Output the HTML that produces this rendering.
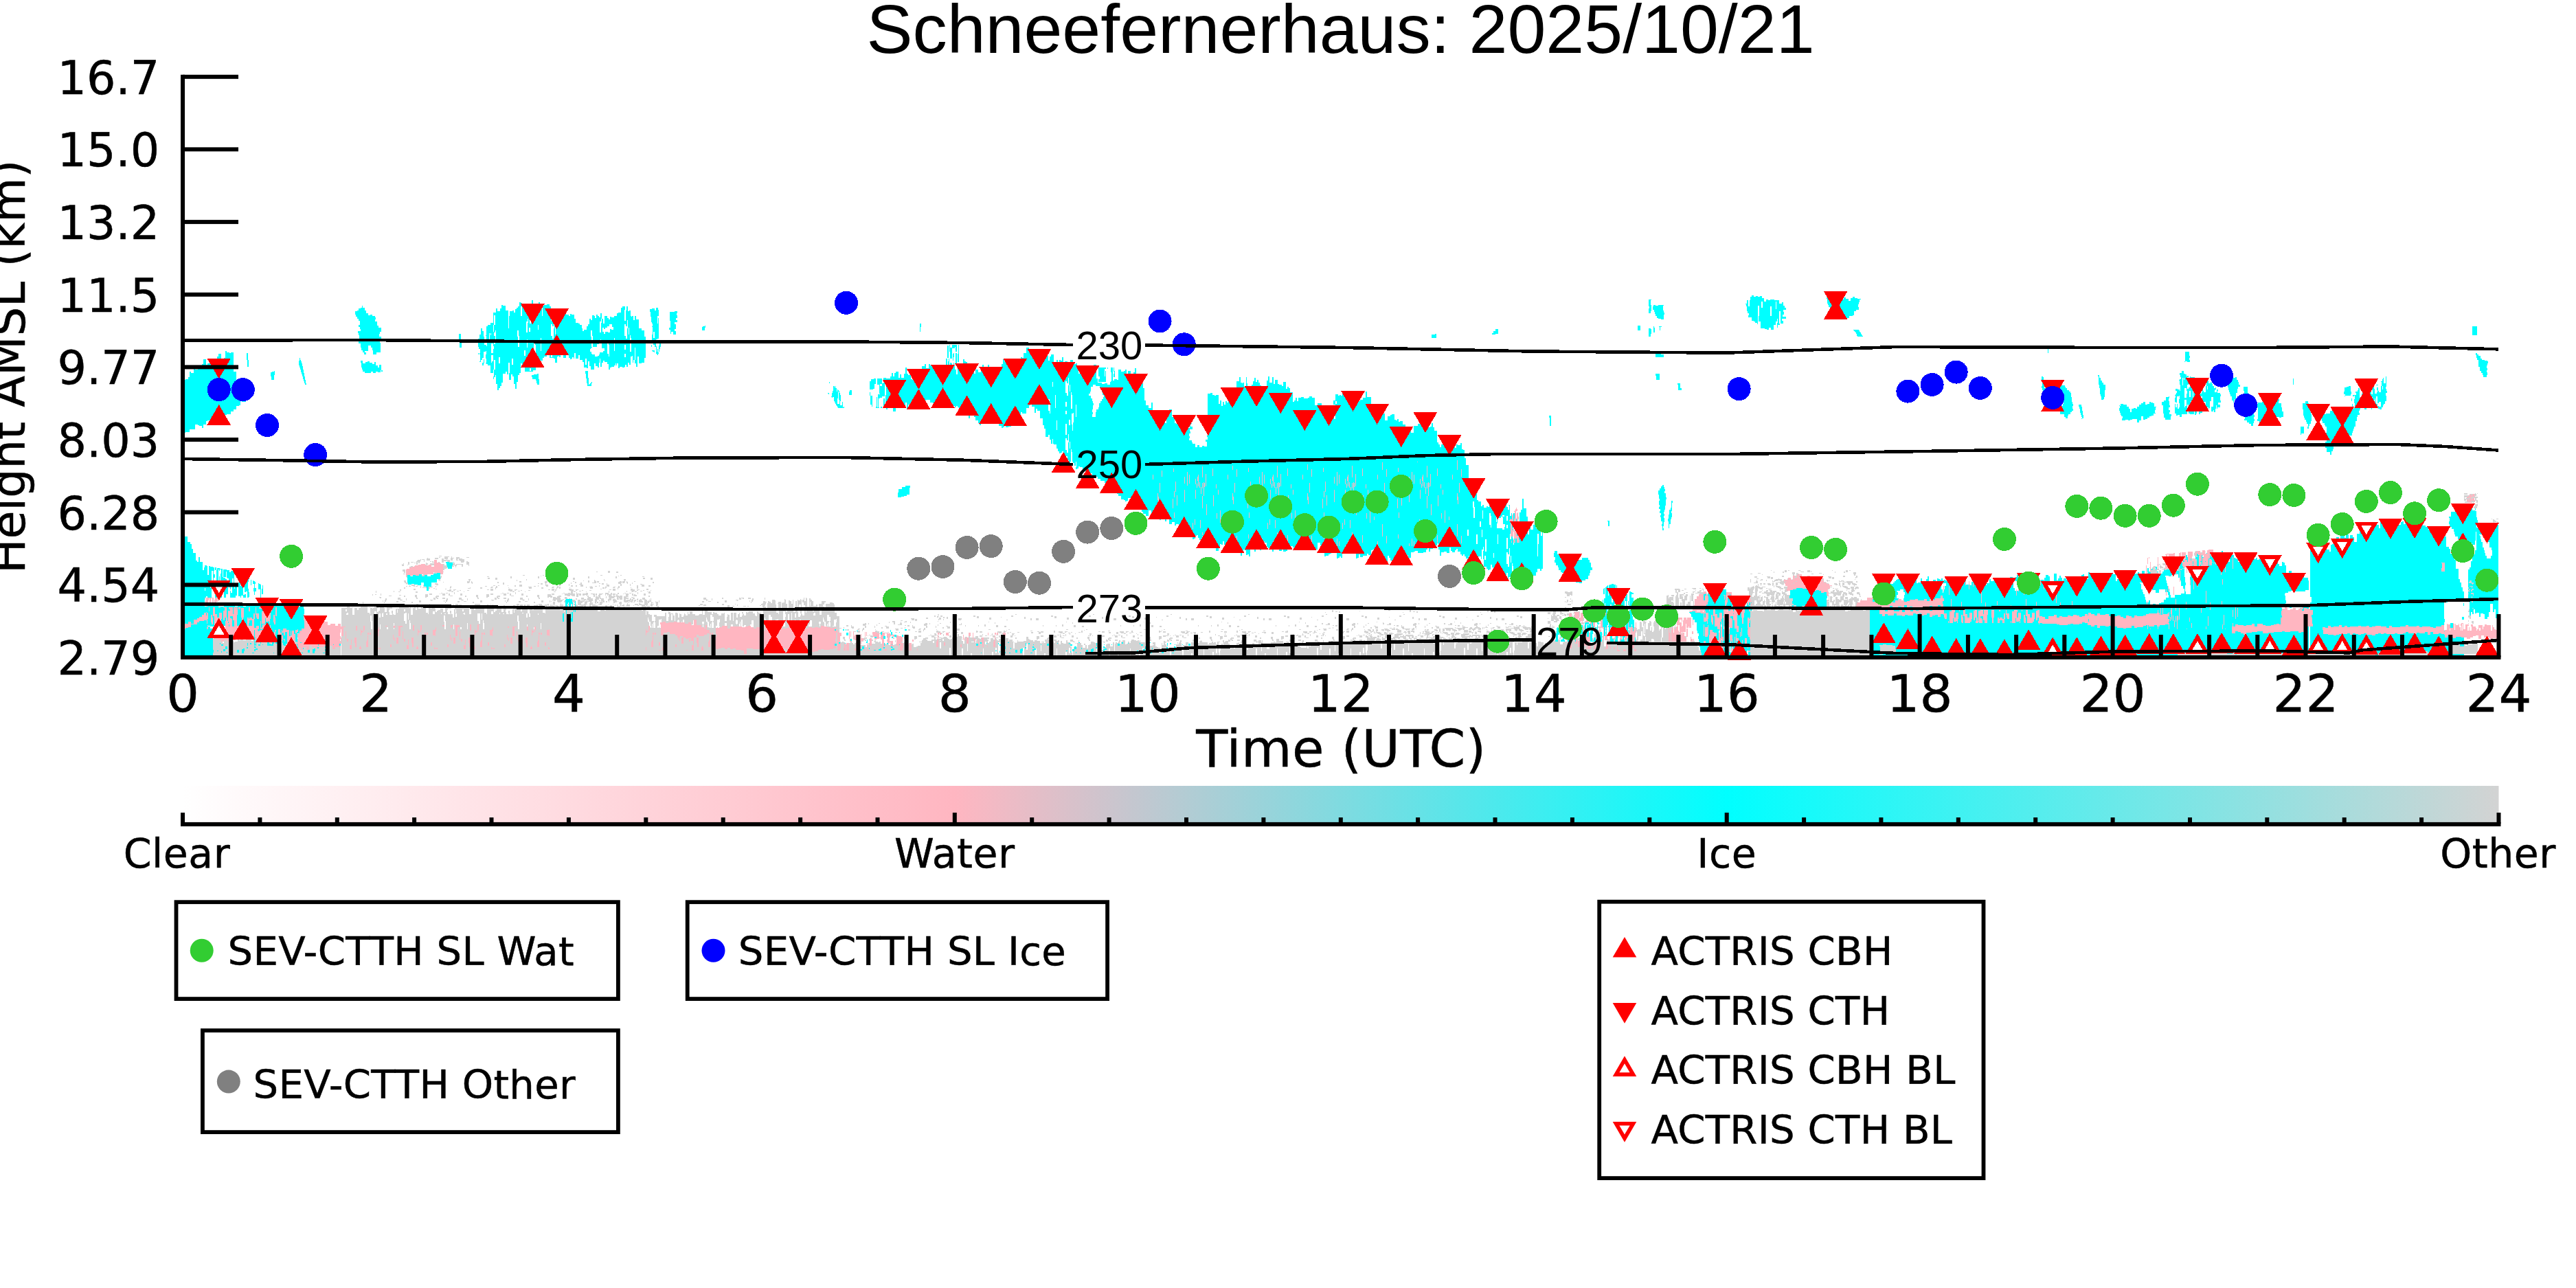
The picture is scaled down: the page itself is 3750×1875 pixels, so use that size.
<!DOCTYPE html>
<html lang="en"><head><meta charset="utf-8"><title>Schneefernerhaus: 2025/10/21</title>
<style>html,body{margin:0;padding:0;background:#fff;}body{width:3750px;height:1875px;overflow:hidden;}svg{display:block;}text{font-kerning:normal;}</style></head>
<body>
<svg width="3750" height="1875" viewBox="0 0 3750 1875">
<rect width="3750" height="1875" fill="#fff"/>
<g shape-rendering="crispEdges">
<defs>
<pattern id="g0" width="113" height="79" patternUnits="userSpaceOnUse"><path fill="#d3d3d3" d="M88 53h1v2h-1zM61 27h3v2h-3zM23 64h2v3h-2zM100 0h3v1h-3zM74 54h1v2h-1zM101 29h1v1h-1zM5 55h1v3h-1zM78 56h3v2h-3zM69 63h1v2h-1zM83 47h3v1h-3zM94 11h1v1h-1zM58 20h1v1h-1zM43 51h3v3h-3zM23 4h2v1h-2zM9 25h2v1h-2zM102 74h1v3h-1zM15 71h3v1h-3zM105 49h2v3h-2zM18 68h1v2h-1zM46 57h2v2h-2zM40 62h3v2h-3zM3 11h2v2h-2zM91 63h1v3h-1zM8 70h1v2h-1zM66 28h3v3h-3zM40 71h3v3h-3zM23 21h3v1h-3zM106 42h3v2h-3zM39 31h2v3h-2zM8 22h1v1h-1zM20 4h2v2h-2zM84 30h3v3h-3zM94 75h2v1h-2zM62 64h1v2h-1zM31 31h2v3h-2zM8 56h1v3h-1zM61 7h2v3h-2zM109 33h2v1h-2zM4 53h3v2h-3zM50 8h1v1h-1zM18 19h2v3h-2zM61 6h3v3h-3zM83 67h2v1h-2zM3 27h3v2h-3zM112 47h2v1h-2zM-1 47h2v1h-2zM62 74h3v2h-3zM17 68h2v2h-2zM17 1h3v2h-3zM16 3h2v3h-2zM41 31h2v3h-2zM32 51h3v2h-3zM18 12h1v1h-1zM23 3h2v1h-2zM100 18h3v2h-3zM83 36h1v1h-1zM68 41h1v2h-1zM28 21h2v2h-2zM109 48h1v1h-1zM95 70h1v3h-1zM90 64h1v3h-1zM101 1h3v1h-3zM110 8h2v2h-2zM22 29h2v3h-2zM77 40h2v3h-2zM31 49h3v1h-3zM92 37h1v2h-1zM62 73h3v3h-3zM76 7h1v3h-1zM94 41h3v3h-3zM37 67h3v2h-3zM8 78h3v1h-3zM45 8h2v1h-2zM53 13h2v3h-2zM9 57h1v3h-1zM2 56h3v3h-3zM65 49h2v3h-2zM28 3h2v1h-2zM55 5h1v3h-1zM90 75h1v2h-1zM54 58h2v3h-2zM49 41h1v2h-1zM80 10h2v1h-2z"/></pattern>
<pattern id="ps" width="109" height="97" patternUnits="userSpaceOnUse"><path fill="#ffb6c1" d="M3 78h1v12h-1zM89 15h1v10h-1zM29 34h1v7h-1zM76 22h1v15h-1zM73 2h1v6h-1zM53 24h1v14h-1zM74 67h1v8h-1zM78 42h1v15h-1zM50 39h1v10h-1zM105 34h1v13h-1zM6 43h1v18h-1zM32 64h1v18h-1zM50 84h1v18h-1zM50 -13h1v18h-1zM72 47h1v14h-1zM38 73h1v5h-1zM11 11h1v18h-1zM12 55h1v16h-1zM107 25h1v6h-1zM0 12h1v17h-1zM21 3h1v11h-1zM22 42h1v16h-1zM56 4h1v11h-1zM101 82h1v9h-1zM6 24h1v8h-1zM105 18h1v8h-1zM108 15h1v6h-1zM74 36h1v9h-1zM93 8h1v20h-1zM104 77h1v8h-1zM2 23h1v8h-1zM43 12h1v7h-1zM89 34h1v18h-1zM9 24h1v6h-1zM27 68h1v8h-1zM8 23h1v20h-1zM96 12h1v13h-1zM51 44h1v11h-1zM4 30h1v10h-1zM26 26h1v6h-1zM6 96h1v17h-1zM6 -1h1v17h-1z"/></pattern>
<pattern id="g1" width="89" height="61" patternUnits="userSpaceOnUse"><path fill="#d3d3d3" d="M8 16h2v3h-2zM57 30h1v2h-1zM12 31h4v1h-4zM55 38h1v2h-1zM57 17h1v3h-1zM13 57h2v3h-2zM2 1h3v1h-3zM87 13h1v2h-1zM3 33h4v3h-4zM63 35h2v2h-2zM29 43h2v2h-2zM37 59h2v2h-2zM71 59h1v2h-1zM80 46h1v1h-1zM42 57h3v1h-3zM85 12h4v3h-4zM75 56h3v2h-3zM50 37h4v3h-4zM31 47h1v2h-1zM85 11h4v2h-4zM86 47h3v3h-3zM56 42h3v1h-3zM66 53h1v1h-1zM62 46h4v2h-4zM5 19h1v2h-1zM21 10h4v3h-4zM25 34h2v1h-2zM65 22h2v2h-2zM34 42h3v2h-3zM65 51h1v2h-1zM71 13h2v3h-2zM61 55h4v1h-4zM70 12h3v3h-3zM45 26h4v2h-4zM68 34h3v1h-3zM76 1h3v2h-3zM22 35h2v3h-2zM70 51h2v1h-2zM86 4h3v1h-3zM57 0h1v1h-1zM34 7h3v1h-3zM37 4h2v2h-2zM32 33h2v1h-2zM34 41h2v3h-2zM41 31h3v2h-3zM3 19h4v1h-4zM53 50h4v2h-4zM13 16h2v2h-2zM55 52h2v3h-2zM2 25h1v1h-1zM20 28h2v1h-2zM28 40h4v3h-4zM67 41h4v1h-4zM86 36h1v2h-1zM80 27h3v3h-3zM38 8h1v3h-1zM39 4h2v1h-2zM38 47h1v2h-1zM72 16h2v2h-2zM71 56h2v1h-2zM27 57h1v3h-1zM79 32h4v1h-4zM25 22h1v2h-1zM73 43h1v1h-1zM24 31h4v3h-4zM49 18h1v3h-1zM41 39h4v1h-4zM2 10h4v2h-4zM72 50h2v2h-2zM54 13h2v2h-2zM12 53h3v3h-3zM44 58h4v3h-4zM30 4h4v3h-4zM17 10h1v1h-1zM27 17h2v3h-2zM64 53h3v3h-3zM43 21h3v2h-3zM30 55h1v2h-1zM74 35h4v1h-4zM5 26h1v2h-1zM18 53h1v2h-1zM14 39h2v2h-2zM73 35h4v1h-4zM10 60h2v3h-2zM10 -1h2v3h-2zM37 36h3v2h-3zM35 6h1v2h-1zM1 39h1v2h-1zM52 7h1v1h-1zM30 50h1v1h-1zM14 28h4v1h-4zM30 10h2v3h-2zM48 51h1v2h-1zM32 45h3v3h-3zM12 13h4v2h-4zM3 0h3v1h-3zM76 20h3v3h-3zM40 25h4v2h-4zM40 38h1v1h-1zM32 13h4v1h-4zM45 16h4v3h-4zM26 19h2v3h-2zM46 5h2v1h-2zM57 5h3v1h-3zM49 19h3v1h-3zM23 20h1v2h-1zM42 6h3v1h-3zM28 1h1v1h-1zM9 17h2v2h-2zM9 1h1v3h-1zM45 31h1v2h-1zM12 32h4v1h-4zM65 60h3v1h-3zM19 9h2v1h-2zM13 45h3v2h-3zM26 9h3v1h-3zM79 51h1v2h-1zM38 27h2v1h-2zM85 15h2v1h-2zM87 28h3v1h-3zM-2 28h3v1h-3zM32 34h4v3h-4zM58 0h4v3h-4zM21 16h4v2h-4zM82 59h4v1h-4zM2 3h4v3h-4zM17 37h3v3h-3zM33 53h2v1h-2zM72 25h3v2h-3zM11 14h2v3h-2zM22 33h4v1h-4zM83 58h3v3h-3zM81 46h4v3h-4zM40 31h2v1h-2zM52 21h4v1h-4zM28 3h3v3h-3zM82 56h1v3h-1zM65 49h3v1h-3zM38 44h2v2h-2zM47 10h3v3h-3zM10 54h4v3h-4z"/></pattern>
<pattern id="g2" width="97" height="67" patternUnits="userSpaceOnUse"><path fill="#d3d3d3" d="M10 46h1v1h-1zM32 27h2v3h-2zM74 20h5v1h-5zM92 65h4v4h-4zM92 -2h4v4h-4zM64 34h3v4h-3zM46 59h1v1h-1zM54 21h3v4h-3zM30 29h5v2h-5zM41 22h1v2h-1zM65 23h2v3h-2zM94 46h4v4h-4zM-3 46h4v4h-4zM46 57h5v3h-5zM91 59h2v4h-2zM62 35h5v2h-5zM84 58h4v3h-4zM72 58h4v3h-4zM41 21h4v2h-4zM61 39h5v3h-5zM39 26h3v4h-3zM87 9h4v3h-4zM24 13h3v1h-3zM34 29h1v1h-1zM34 31h1v2h-1zM54 4h2v1h-2zM46 22h1v3h-1zM10 14h2v1h-2zM5 2h1v1h-1zM16 20h3v3h-3zM49 5h2v1h-2zM4 0h2v2h-2zM36 43h3v1h-3zM39 57h4v1h-4zM33 51h5v1h-5zM60 28h5v2h-5zM13 3h1v3h-1zM66 50h4v2h-4zM18 43h4v3h-4zM77 53h3v3h-3zM85 7h1v2h-1zM16 20h3v1h-3zM58 29h2v1h-2zM31 29h5v1h-5zM32 10h4v1h-4zM79 46h5v2h-5zM35 0h3v4h-3zM49 52h2v1h-2zM65 11h2v1h-2zM12 2h2v1h-2zM13 27h2v2h-2zM58 39h1v4h-1zM27 26h5v4h-5zM65 2h4v4h-4zM53 23h5v1h-5zM46 2h1v4h-1zM78 46h5v1h-5zM39 2h3v3h-3zM13 39h4v1h-4zM57 7h2v1h-2zM59 26h4v4h-4zM0 36h5v1h-5zM39 9h1v3h-1zM24 14h2v4h-2zM50 59h5v3h-5zM50 15h2v3h-2zM15 10h3v1h-3zM82 50h5v3h-5zM3 60h2v1h-2zM37 45h1v4h-1zM47 34h4v2h-4zM92 53h4v4h-4zM50 29h4v3h-4zM76 33h2v4h-2zM89 10h5v4h-5zM9 45h5v1h-5zM53 8h2v2h-2zM16 37h1v1h-1zM90 42h4v2h-4zM67 36h4v2h-4zM69 54h1v2h-1zM66 31h1v3h-1zM21 20h5v3h-5zM51 45h4v2h-4zM59 56h5v2h-5zM94 23h1v4h-1zM61 35h4v1h-4zM90 52h4v3h-4zM70 42h4v3h-4zM68 24h1v2h-1zM81 1h4v4h-4zM67 59h3v4h-3zM2 51h2v1h-2zM27 12h2v4h-2zM35 24h4v2h-4zM1 55h4v2h-4zM65 22h4v3h-4zM9 44h4v2h-4zM68 8h1v4h-1zM86 42h5v4h-5zM64 58h4v3h-4zM78 44h1v1h-1zM32 17h2v4h-2zM63 48h1v2h-1zM19 1h4v3h-4zM0 46h3v4h-3zM72 56h1v4h-1zM63 17h2v3h-2zM9 33h4v3h-4zM42 39h3v3h-3zM65 26h4v1h-4zM64 11h4v2h-4zM29 58h3v1h-3zM66 35h5v2h-5zM14 48h1v1h-1zM40 45h3v2h-3zM58 46h1v3h-1zM56 37h2v4h-2zM91 56h4v2h-4zM41 20h2v3h-2zM60 24h1v2h-1zM45 17h3v2h-3zM34 48h2v2h-2zM35 64h4v3h-4zM95 51h5v3h-5zM-2 51h5v3h-5zM47 39h3v1h-3zM22 33h4v4h-4zM61 11h3v4h-3zM48 16h2v3h-2zM44 21h1v1h-1zM93 55h3v1h-3zM30 49h1v3h-1zM60 19h5v3h-5zM25 63h3v3h-3zM26 42h1v2h-1zM53 46h3v2h-3zM43 24h3v1h-3zM93 5h2v2h-2zM82 7h3v3h-3zM8 55h2v2h-2zM16 41h4v3h-4zM43 50h5v1h-5zM50 60h2v1h-2zM69 11h4v3h-4zM51 58h5v4h-5zM49 57h2v4h-2zM57 16h1v1h-1zM9 50h1v2h-1zM90 1h3v4h-3zM85 44h3v1h-3zM3 18h2v2h-2zM43 59h4v1h-4zM30 8h1v4h-1zM71 3h4v2h-4zM6 25h2v1h-2zM66 43h5v1h-5zM17 47h5v2h-5zM16 14h4v1h-4zM59 27h2v1h-2zM80 48h1v2h-1zM91 64h3v4h-3zM91 -3h3v4h-3zM19 26h2v1h-2zM25 38h2v4h-2zM18 54h3v4h-3zM40 38h2v4h-2zM60 34h1v1h-1zM35 29h3v4h-3zM89 13h4v2h-4zM27 24h1v2h-1zM82 17h4v1h-4zM89 60h1v3h-1zM94 28h5v1h-5zM-3 28h5v1h-5zM4 25h2v3h-2zM81 23h1v2h-1zM80 37h1v4h-1zM41 35h2v2h-2zM52 53h5v1h-5zM38 15h1v4h-1zM27 53h3v1h-3zM68 50h3v3h-3zM55 16h5v2h-5zM58 44h2v4h-2zM78 32h4v4h-4zM74 60h5v2h-5zM96 60h4v2h-4zM-1 60h4v2h-4zM39 9h5v3h-5zM77 60h2v3h-2zM87 39h2v2h-2zM12 1h2v3h-2zM40 7h1v2h-1zM92 43h3v3h-3zM53 60h4v1h-4zM74 16h1v3h-1zM20 48h2v2h-2zM35 10h1v4h-1zM30 19h4v4h-4zM29 25h5v3h-5zM75 50h5v3h-5zM30 27h5v4h-5zM33 31h5v1h-5zM55 15h2v4h-2zM50 60h4v4h-4zM27 30h4v3h-4zM68 11h2v1h-2zM6 49h5v1h-5zM29 65h4v4h-4zM29 -2h4v4h-4zM46 65h3v1h-3zM74 8h3v4h-3zM35 3h4v2h-4zM5 16h1v4h-1zM41 30h2v2h-2zM78 18h5v1h-5zM82 11h3v1h-3zM90 17h2v4h-2zM65 34h1v3h-1zM71 45h4v1h-4zM77 46h3v1h-3zM46 35h1v3h-1zM65 19h4v3h-4zM43 55h1v1h-1zM86 6h1v3h-1zM54 53h1v4h-1zM20 5h2v2h-2zM86 23h1v3h-1zM5 31h3v1h-3zM51 8h5v2h-5zM76 8h3v1h-3zM70 24h2v2h-2zM88 51h1v1h-1zM74 28h1v3h-1zM54 16h1v4h-1zM16 58h2v4h-2zM73 23h3v1h-3zM55 57h5v4h-5zM76 16h2v4h-2zM2 32h3v2h-3zM81 52h2v2h-2zM56 60h5v3h-5zM54 55h4v2h-4zM45 4h3v2h-3zM54 38h4v1h-4zM72 33h1v4h-1zM59 58h3v2h-3zM84 31h3v4h-3zM58 36h5v2h-5zM14 64h3v4h-3zM14 -3h3v4h-3zM14 55h2v4h-2zM79 66h5v4h-5zM79 -1h5v4h-5zM94 49h4v1h-4zM-3 49h4v1h-4zM71 44h4v3h-4zM29 22h2v2h-2zM63 22h4v4h-4zM40 51h4v3h-4zM85 40h3v3h-3zM75 5h1v4h-1zM12 14h2v4h-2zM41 40h1v3h-1zM95 41h4v2h-4zM-2 41h4v2h-4zM51 30h1v4h-1zM77 2h4v1h-4zM38 63h3v1h-3zM1 42h2v1h-2zM83 0h4v4h-4zM28 41h4v2h-4zM38 50h2v3h-2zM59 35h5v4h-5zM73 46h1v2h-1zM47 23h2v3h-2zM26 59h2v2h-2zM34 26h2v4h-2zM0 51h5v2h-5zM83 23h4v3h-4zM62 0h2v2h-2zM90 27h2v2h-2zM58 25h1v1h-1zM50 2h2v3h-2zM14 39h1v3h-1zM60 48h1v3h-1zM59 22h1v1h-1zM82 8h2v4h-2zM61 9h3v2h-3zM36 3h5v3h-5zM9 53h5v2h-5zM75 39h2v2h-2zM5 43h4v2h-4zM19 29h4v1h-4zM81 39h5v3h-5zM19 28h1v2h-1zM15 34h1v3h-1zM9 64h1v3h-1zM44 16h5v2h-5zM39 2h4v2h-4zM81 19h1v3h-1zM17 63h1v1h-1zM61 37h4v3h-4zM80 19h3v1h-3zM11 18h1v1h-1zM38 16h3v2h-3zM73 29h1v2h-1zM23 55h3v1h-3zM83 4h2v4h-2zM63 44h3v4h-3zM84 5h2v1h-2zM18 53h2v4h-2zM78 15h2v3h-2zM25 9h1v2h-1zM16 64h5v3h-5zM86 58h2v2h-2zM13 40h4v4h-4zM44 13h2v1h-2zM72 14h4v1h-4zM70 30h3v3h-3zM29 5h3v4h-3zM16 21h2v2h-2zM13 38h4v2h-4zM0 14h4v4h-4zM88 12h4v1h-4zM55 0h1v2h-1zM40 19h2v4h-2zM34 32h2v3h-2zM66 39h5v2h-5zM63 61h3v4h-3zM50 22h4v3h-4zM73 58h4v3h-4zM73 41h5v4h-5zM72 1h5v1h-5zM74 58h3v4h-3zM67 35h1v4h-1zM47 13h2v2h-2zM55 16h2v2h-2zM64 49h5v2h-5zM39 58h2v1h-2zM94 47h2v1h-2zM70 5h2v2h-2zM50 38h4v1h-4zM93 51h2v2h-2zM73 29h2v2h-2zM70 35h5v3h-5zM20 3h5v3h-5zM65 6h5v4h-5zM24 41h1v4h-1zM59 42h3v1h-3zM6 26h2v4h-2zM95 56h3v3h-3zM-2 56h3v3h-3zM6 41h3v3h-3zM83 28h1v4h-1zM88 61h2v4h-2zM88 37h2v4h-2zM6 53h1v2h-1zM2 3h1v2h-1zM87 60h3v2h-3zM13 0h4v3h-4zM2 3h1v2h-1zM37 32h2v1h-2zM82 2h1v1h-1zM13 49h3v3h-3zM1 30h2v4h-2zM79 55h2v2h-2zM73 35h5v1h-5zM74 31h1v2h-1zM85 30h1v2h-1zM21 15h2v1h-2zM82 30h5v2h-5zM88 10h3v3h-3zM72 31h2v2h-2zM62 23h1v3h-1zM49 36h2v2h-2zM29 39h1v1h-1zM69 39h3v3h-3zM11 60h1v3h-1zM77 45h5v2h-5zM76 54h3v4h-3zM82 29h1v2h-1zM8 59h5v2h-5zM61 3h1v2h-1zM24 61h2v4h-2zM55 25h3v2h-3zM43 39h1v3h-1zM31 33h4v2h-4zM0 5h4v3h-4zM26 37h1v1h-1zM64 28h1v4h-1zM9 4h2v2h-2zM49 14h1v1h-1zM80 65h4v4h-4zM80 -2h4v4h-4zM22 15h1v1h-1zM10 35h2v2h-2zM14 23h5v3h-5zM25 11h5v3h-5zM0 13h2v1h-2zM2 0h4v4h-4zM86 9h2v3h-2zM14 21h2v3h-2zM54 35h2v1h-2zM34 18h4v1h-4zM28 28h3v4h-3zM56 14h2v4h-2zM83 40h4v4h-4zM5 54h1v4h-1zM70 52h4v2h-4zM84 51h5v1h-5zM57 36h3v1h-3zM30 21h3v4h-3zM96 3h2v1h-2zM-1 3h2v1h-2zM49 55h3v2h-3zM86 17h5v1h-5zM26 4h1v1h-1zM20 63h3v2h-3zM90 55h3v1h-3zM13 53h5v2h-5zM0 26h3v2h-3zM28 27h3v1h-3zM57 2h4v4h-4z"/></pattern>
<pattern id="g3" width="101" height="71" patternUnits="userSpaceOnUse"><path fill="#d3d3d3" d="M69 16h2v12h-2zM60 8h3v12h-3zM33 70h1v10h-1zM33 -1h1v10h-1zM91 60h2v6h-2zM81 19h4v9h-4zM19 66h2v13h-2zM19 -5h2v13h-2zM1 8h4v14h-4zM5 38h2v12h-2zM60 49h1v7h-1zM93 56h4v9h-4zM12 4h2v8h-2zM27 33h2v10h-2zM38 53h4v13h-4zM44 68h4v12h-4zM44 -3h4v12h-4zM29 43h4v12h-4zM77 20h1v7h-1zM73 13h3v11h-3zM73 34h2v13h-2zM8 61h3v4h-3zM44 8h4v4h-4zM2 37h4v5h-4zM15 5h4v9h-4zM91 42h1v9h-1zM30 4h3v11h-3zM9 13h3v3h-3zM52 37h1v6h-1zM88 5h3v5h-3zM46 17h3v8h-3zM58 66h4v9h-4zM58 -5h4v9h-4zM76 13h4v13h-4zM81 30h3v9h-3zM33 66h3v9h-3zM33 -5h3v9h-3zM43 1h3v11h-3zM40 2h4v12h-4zM75 17h4v12h-4zM80 42h1v13h-1zM86 45h4v8h-4zM62 2h3v14h-3zM2 47h1v13h-1zM58 38h3v13h-3zM46 23h3v5h-3zM76 33h3v8h-3zM13 3h3v9h-3zM64 28h2v7h-2zM41 23h3v6h-3zM89 12h4v13h-4zM41 42h1v12h-1zM21 10h2v10h-2zM83 27h3v14h-3zM28 15h4v7h-4zM24 40h1v11h-1zM43 10h2v7h-2zM16 53h3v12h-3zM34 59h3v11h-3zM53 37h3v13h-3zM52 4h4v12h-4zM25 0h4v5h-4zM65 55h4v12h-4zM95 58h2v3h-2zM43 29h3v11h-3zM36 15h1v12h-1zM4 65h2v3h-2zM73 6h2v9h-2zM95 15h1v10h-1zM38 30h2v11h-2zM68 52h1v11h-1zM14 43h1v12h-1zM69 61h2v7h-2zM28 25h1v8h-1zM15 21h1v11h-1zM16 0h2v7h-2zM73 51h4v13h-4zM31 34h1v7h-1zM60 41h4v3h-4zM99 16h1v3h-1zM6 8h1v4h-1zM91 11h4v3h-4zM20 40h4v8h-4zM49 49h1v8h-1zM33 24h3v8h-3zM15 16h3v9h-3zM92 48h1v14h-1zM22 5h1v12h-1zM77 69h3v10h-3zM77 -2h3v10h-3zM5 55h4v13h-4zM80 63h1v8h-1zM88 53h3v9h-3zM31 27h4v3h-4zM75 9h3v14h-3zM54 16h4v6h-4zM47 33h1v8h-1zM88 15h1v10h-1zM13 40h4v13h-4zM91 0h1v12h-1zM30 49h4v5h-4zM11 12h1v11h-1zM3 43h4v5h-4zM14 61h1v3h-1zM38 11h3v12h-3zM65 67h1v12h-1zM65 -4h1v12h-1zM70 12h2v4h-2zM41 23h1v11h-1zM23 31h1v6h-1zM89 50h4v12h-4zM76 50h3v8h-3zM53 10h3v11h-3zM30 52h4v11h-4zM88 66h2v9h-2zM88 -5h2v9h-2zM82 51h4v5h-4zM12 63h2v5h-2zM66 56h4v14h-4zM34 25h2v5h-2zM65 40h2v12h-2zM68 37h2v14h-2zM74 34h4v12h-4zM2 34h2v7h-2zM25 22h4v9h-4zM41 61h3v6h-3zM89 61h2v9h-2zM74 3h2v10h-2zM9 51h4v14h-4zM29 30h1v10h-1zM32 30h1v6h-1zM17 23h2v7h-2zM21 5h1v7h-1zM54 11h3v5h-3zM11 33h1v4h-1zM45 57h3v3h-3zM3 42h3v3h-3zM48 62h3v9h-3zM82 62h1v6h-1zM69 40h4v5h-4zM9 55h1v7h-1zM67 32h1v10h-1zM89 47h1v11h-1zM37 33h3v10h-3zM86 68h1v8h-1zM86 -3h1v8h-1zM63 65h1v13h-1zM63 -6h1v13h-1zM91 37h3v3h-3zM82 19h2v13h-2zM83 58h2v8h-2zM71 18h1v4h-1zM92 53h3v13h-3zM23 58h3v13h-3zM100 22h4v7h-4zM-1 22h4v7h-4zM91 23h1v4h-1zM12 34h4v8h-4zM6 17h3v9h-3zM64 34h1v10h-1zM98 65h2v14h-2zM98 -6h2v14h-2zM51 57h3v8h-3zM63 14h1v8h-1zM75 12h2v7h-2zM99 14h1v12h-1zM24 53h2v14h-2zM16 18h4v14h-4zM69 67h4v6h-4zM69 -4h4v6h-4zM22 25h2v12h-2zM100 37h3v8h-3zM-1 37h3v8h-3zM52 49h1v10h-1zM74 39h3v11h-3zM87 38h4v11h-4zM76 24h4v3h-4zM98 29h1v4h-1zM67 58h4v5h-4zM100 67h2v6h-2zM-1 67h2v6h-2zM100 -4h2v6h-2zM64 56h2v3h-2zM36 19h1v12h-1zM11 6h2v10h-2zM79 29h1v8h-1zM68 2h1v10h-1zM42 44h3v8h-3zM76 4h2v4h-2zM43 26h1v14h-1zM55 28h1v6h-1zM13 5h4v8h-4zM25 20h4v4h-4zM60 8h4v10h-4zM83 62h4v6h-4zM59 58h3v3h-3zM23 58h4v10h-4zM32 46h1v14h-1zM67 46h3v10h-3zM0 26h4v6h-4zM18 58h3v8h-3zM26 2h2v5h-2zM51 64h2v12h-2zM51 -7h2v12h-2zM3 17h2v13h-2zM21 56h1v12h-1zM7 2h4v5h-4zM40 52h4v10h-4zM91 6h1v14h-1zM5 50h2v9h-2zM28 30h4v3h-4zM60 24h1v9h-1zM79 14h2v8h-2zM76 6h3v4h-3zM100 59h3v7h-3zM-1 59h3v7h-3zM31 34h3v10h-3zM80 44h1v8h-1zM7 55h3v4h-3zM79 0h1v12h-1zM87 11h1v3h-1zM64 4h1v5h-1zM24 65h4v3h-4zM96 61h3v6h-3zM44 4h3v10h-3zM96 50h4v7h-4zM23 52h1v7h-1zM49 70h1v11h-1zM49 -1h1v11h-1zM87 51h3v11h-3zM93 49h2v14h-2zM46 53h3v5h-3zM56 61h4v6h-4zM21 64h3v7h-3zM5 19h4v10h-4zM96 2h2v14h-2zM97 12h4v4h-4zM76 7h3v6h-3zM59 42h1v10h-1zM9 24h3v3h-3zM43 39h4v4h-4zM10 26h1v10h-1zM6 19h2v14h-2zM1 14h2v12h-2zM26 28h2v7h-2zM99 40h4v11h-4zM-2 40h4v11h-4zM22 10h2v10h-2zM76 3h1v4h-1zM32 10h1v6h-1zM51 28h1v10h-1zM62 44h1v13h-1zM84 57h4v12h-4zM76 56h1v7h-1zM14 69h4v6h-4zM14 -2h4v6h-4zM38 9h1v10h-1zM24 62h3v8h-3zM87 46h1v11h-1zM8 66h4v13h-4zM8 -5h4v13h-4zM44 7h2v6h-2zM55 56h3v6h-3zM27 41h1v7h-1zM26 27h2v14h-2zM68 53h4v14h-4zM79 52h3v6h-3zM60 4h4v9h-4zM23 12h3v3h-3zM19 37h1v14h-1zM60 5h1v13h-1zM26 35h2v14h-2zM4 44h4v9h-4zM25 36h4v14h-4zM56 38h2v4h-2zM9 26h4v10h-4zM97 36h2v10h-2zM47 20h4v13h-4zM59 60h4v7h-4zM36 36h2v8h-2zM47 45h1v10h-1zM31 66h3v14h-3zM31 -5h3v14h-3zM16 67h1v3h-1zM2 21h2v11h-2zM26 59h1v3h-1zM70 4h3v8h-3zM30 1h4v5h-4zM43 6h3v9h-3zM39 33h1v10h-1zM63 53h2v13h-2zM5 3h3v8h-3zM80 21h4v3h-4zM95 52h2v5h-2zM17 35h3v11h-3zM5 2h1v5h-1zM7 58h4v13h-4zM85 65h4v11h-4zM85 -6h4v11h-4zM66 21h4v8h-4zM9 17h3v5h-3zM99 45h1v9h-1zM35 32h4v10h-4zM67 19h4v7h-4zM66 4h3v5h-3zM29 58h4v10h-4zM40 70h3v3h-3zM40 -1h3v3h-3zM16 35h1v10h-1zM55 9h3v4h-3zM65 62h3v3h-3zM39 44h4v6h-4zM49 50h2v13h-2zM34 27h3v3h-3zM40 50h1v8h-1zM16 53h3v3h-3zM10 63h3v9h-3zM10 -8h3v9h-3zM94 10h2v6h-2zM80 15h1v14h-1zM88 8h1v7h-1zM61 59h4v7h-4zM69 6h3v7h-3zM62 21h2v6h-2zM90 22h2v5h-2zM50 1h4v13h-4zM6 23h2v9h-2zM24 16h2v7h-2zM67 19h2v3h-2zM99 13h2v9h-2zM23 3h4v9h-4zM16 14h3v4h-3zM16 49h2v7h-2zM9 24h3v12h-3zM18 61h1v8h-1zM45 69h2v4h-2zM45 -2h2v4h-2zM90 40h4v4h-4zM94 44h4v3h-4zM52 59h4v12h-4zM19 68h3v10h-3zM19 -3h3v10h-3z"/></pattern>
<pattern id="p1" width="83" height="59" patternUnits="userSpaceOnUse"><path fill="#ffb6c1" d="M13 46h1v7h-1zM19 5h2v10h-2zM51 35h1v3h-1zM28 33h2v3h-2zM35 49h3v8h-3zM33 13h1v4h-1zM34 12h1v7h-1zM37 40h1v7h-1zM11 54h3v8h-3zM11 -5h3v8h-3zM49 32h3v8h-3zM31 30h1v5h-1zM70 53h2v4h-2zM37 36h2v3h-2zM65 12h3v7h-3zM76 18h2v9h-2zM20 14h2v10h-2zM5 5h2v7h-2zM80 17h1v10h-1zM82 30h3v11h-3zM-1 30h3v11h-3zM18 43h3v8h-3zM52 58h1v4h-1zM52 -1h1v4h-1zM35 11h1v10h-1zM75 20h2v9h-2zM25 57h3v11h-3zM25 -2h3v11h-3zM7 45h2v4h-2zM74 39h1v7h-1zM42 11h1v4h-1zM3 2h2v10h-2zM36 47h2v4h-2zM2 20h3v8h-3zM19 49h2v8h-2zM79 43h3v9h-3zM79 12h1v7h-1zM17 16h2v7h-2zM20 21h2v12h-2zM46 2h3v3h-3zM46 50h2v5h-2zM73 6h2v7h-2zM54 58h2v6h-2zM54 -1h2v6h-2zM7 3h1v4h-1zM76 43h1v5h-1zM5 34h1v12h-1zM31 20h2v12h-2zM67 18h1v4h-1zM61 12h2v6h-2zM52 31h1v10h-1zM53 28h1v6h-1zM27 31h1v9h-1zM4 16h1v3h-1zM67 13h2v6h-2zM33 9h1v9h-1zM40 36h2v3h-2zM51 57h1v12h-1zM51 -2h1v12h-1zM63 24h3v3h-3zM26 55h1v9h-1zM26 -4h1v9h-1zM43 18h3v5h-3zM82 20h3v10h-3zM-1 20h3v10h-3z"/></pattern>
<pattern id="p2" width="91" height="73" patternUnits="userSpaceOnUse"><path fill="#ffb6c1" d="M45 67h3v15h-3zM45 -6h3v15h-3zM59 31h1v17h-1zM20 14h1v18h-1zM31 48h3v11h-3zM31 1h1v13h-1zM35 23h2v10h-2zM9 17h4v6h-4zM16 0h4v6h-4zM27 21h1v7h-1zM40 25h2v8h-2zM88 25h2v6h-2zM2 46h4v8h-4zM18 33h4v6h-4zM38 0h1v9h-1zM39 45h3v5h-3zM89 40h3v11h-3zM-2 40h3v11h-3zM60 22h2v11h-2zM2 45h1v8h-1zM70 53h4v4h-4zM74 1h3v10h-3zM90 23h4v4h-4zM-1 23h4v4h-4zM31 59h2v5h-2zM45 67h3v12h-3zM45 -6h3v12h-3zM59 13h3v16h-3zM37 4h3v17h-3zM26 43h4v5h-4zM18 43h3v18h-3zM89 69h3v18h-3zM-2 69h3v18h-3zM89 -4h3v18h-3zM87 40h1v8h-1zM10 19h3v6h-3zM20 6h3v11h-3zM68 51h1v13h-1zM76 44h1v7h-1zM83 53h3v11h-3zM81 4h2v4h-2zM26 16h4v9h-4zM52 13h2v14h-2zM47 19h2v10h-2zM53 37h1v17h-1zM79 21h2v11h-2zM88 40h4v11h-4zM-3 40h4v11h-4zM37 60h4v8h-4zM18 14h4v18h-4zM68 22h4v17h-4zM43 23h4v17h-4zM34 65h1v11h-1zM34 -8h1v11h-1zM45 4h3v5h-3zM71 35h3v9h-3zM88 37h4v8h-4zM-3 37h4v8h-4zM22 1h3v14h-3zM32 41h4v12h-4zM36 64h3v11h-3zM36 -9h3v11h-3zM35 44h3v9h-3zM22 57h4v9h-4zM66 18h3v9h-3zM46 61h2v7h-2zM10 53h3v15h-3zM74 66h2v13h-2zM74 -7h2v13h-2zM79 70h4v8h-4zM79 -3h4v8h-4zM3 25h3v15h-3zM56 23h2v13h-2zM87 23h2v16h-2zM28 21h1v11h-1zM17 14h1v18h-1zM61 24h3v6h-3zM59 44h1v10h-1zM78 9h4v14h-4zM47 0h2v7h-2zM35 52h3v10h-3zM70 47h1v15h-1zM78 38h1v12h-1zM69 65h1v8h-1zM37 45h3v13h-3zM52 72h2v10h-2zM52 -1h2v10h-2zM18 20h3v11h-3zM61 25h4v13h-4zM11 44h2v13h-2zM13 41h1v10h-1zM80 72h2v9h-2zM80 -1h2v9h-2zM55 28h4v10h-4zM61 48h4v8h-4zM20 33h4v17h-4zM32 53h3v11h-3zM39 62h1v9h-1zM61 3h3v6h-3zM79 56h1v14h-1zM5 17h2v8h-2zM61 68h4v4h-4zM60 4h3v7h-3zM34 19h2v11h-2zM63 60h3v8h-3zM16 38h1v4h-1zM90 43h3v12h-3zM-1 43h3v12h-3zM67 3h3v15h-3zM46 16h4v9h-4zM32 70h1v4h-1zM32 -3h1v4h-1zM13 69h4v14h-4zM13 -4h4v14h-4zM54 54h2v4h-2zM49 60h4v17h-4zM49 -13h4v17h-4zM25 37h4v14h-4zM8 38h4v17h-4zM55 36h1v15h-1zM39 18h4v18h-4zM88 70h2v11h-2zM88 -3h2v11h-2zM68 19h4v9h-4zM69 6h4v13h-4zM29 34h1v15h-1zM8 3h1v16h-1zM54 8h3v15h-3zM62 6h4v15h-4zM15 28h1v17h-1zM17 37h1v15h-1zM23 23h4v6h-4zM20 8h4v16h-4zM71 13h2v4h-2zM9 35h4v15h-4z"/></pattern>
<pattern id="p3" width="79" height="63" patternUnits="userSpaceOnUse"><path fill="#ffb6c1" d="M33 2h1v11h-1zM75 30h1v6h-1zM2 17h3v9h-3zM25 46h4v16h-4zM68 34h4v18h-4zM72 35h1v7h-1zM78 43h3v14h-3zM-1 43h3v14h-3zM54 21h1v17h-1zM52 51h1v9h-1zM12 48h3v11h-3zM37 6h2v15h-2zM25 52h1v13h-1zM25 -11h1v13h-1zM24 32h3v11h-3zM46 15h1v14h-1zM45 37h4v8h-4zM64 56h1v5h-1zM77 42h2v5h-2zM25 24h3v8h-3zM17 38h4v7h-4zM66 0h2v17h-2zM21 1h2v16h-2zM39 23h3v12h-3zM49 18h4v12h-4zM62 3h2v14h-2zM76 47h2v10h-2zM56 15h4v5h-4zM77 42h1v18h-1zM48 50h4v11h-4zM54 30h1v12h-1zM52 60h3v15h-3zM52 -3h3v15h-3zM34 28h1v7h-1zM22 1h4v15h-4zM15 16h1v12h-1zM32 32h3v7h-3zM66 16h4v9h-4zM53 39h4v18h-4zM77 30h4v8h-4zM-2 30h4v8h-4zM18 46h4v11h-4zM39 40h4v11h-4zM46 42h4v9h-4zM48 44h2v18h-2zM50 62h3v9h-3zM50 -1h3v9h-3zM20 59h4v15h-4zM20 -4h4v15h-4zM0 39h3v12h-3zM23 1h4v4h-4zM47 23h1v14h-1zM75 3h4v17h-4zM34 39h2v6h-2zM67 31h1v10h-1zM29 6h1v11h-1zM18 43h3v9h-3zM40 9h2v13h-2zM12 45h1v14h-1zM61 29h1v4h-1zM3 44h1v14h-1zM10 10h2v13h-2zM57 31h3v18h-3zM17 52h1v16h-1zM17 -11h1v16h-1zM56 30h2v18h-2zM71 17h4v11h-4zM74 4h4v15h-4zM36 23h3v9h-3zM64 54h1v5h-1zM35 61h3v8h-3zM35 -2h3v8h-3zM56 59h4v10h-4zM56 -4h4v10h-4zM10 15h3v4h-3zM4 47h2v12h-2zM47 2h2v9h-2zM26 44h1v15h-1zM9 10h4v9h-4zM70 8h1v10h-1zM63 40h4v15h-4zM9 22h1v6h-1zM67 45h1v6h-1zM36 47h2v6h-2zM72 54h2v12h-2zM72 -9h2v12h-2zM28 60h4v16h-4zM28 -3h4v16h-4zM72 45h2v15h-2zM20 48h2v10h-2zM71 36h3v7h-3zM72 24h1v16h-1zM41 54h2v16h-2zM41 -9h2v16h-2zM56 0h4v12h-4zM67 35h4v17h-4zM29 41h2v15h-2zM23 62h3v8h-3zM23 -1h3v8h-3zM17 24h2v6h-2zM1 2h1v4h-1zM7 7h4v16h-4zM47 38h1v14h-1zM69 14h1v4h-1zM72 44h4v7h-4zM60 4h3v5h-3zM56 7h1v6h-1zM22 3h1v15h-1zM54 41h1v16h-1zM56 14h3v8h-3zM68 50h2v17h-2zM68 -13h2v17h-2zM75 0h2v8h-2zM42 49h3v12h-3zM76 41h1v13h-1zM46 44h1v9h-1zM3 23h1v7h-1zM6 22h3v10h-3zM1 21h2v4h-2zM0 29h1v11h-1zM75 39h3v5h-3zM16 8h3v7h-3zM23 15h4v12h-4zM54 36h4v13h-4zM34 16h4v18h-4zM4 12h2v8h-2zM22 36h4v5h-4zM0 32h1v18h-1zM19 37h2v5h-2zM62 55h4v11h-4zM62 -8h4v11h-4zM49 9h4v7h-4zM1 21h4v17h-4zM40 8h4v8h-4zM75 54h3v9h-3zM0 49h3v7h-3zM10 26h3v6h-3zM11 12h2v18h-2zM16 48h4v10h-4zM6 33h2v12h-2zM46 56h4v18h-4zM46 -7h4v18h-4zM75 24h3v17h-3zM8 16h3v14h-3zM14 37h2v4h-2zM64 32h2v17h-2zM11 5h1v16h-1zM44 21h1v7h-1zM31 11h2v15h-2zM16 55h2v7h-2zM58 39h4v15h-4zM78 8h1v15h-1zM25 36h4v16h-4zM18 62h3v15h-3zM18 -1h3v15h-3zM33 58h3v14h-3zM33 -5h3v14h-3zM0 3h1v8h-1zM58 20h1v11h-1zM35 57h1v4h-1zM43 6h1v10h-1zM18 23h3v6h-3zM51 50h4v15h-4zM51 -13h4v15h-4zM19 6h1v12h-1zM1 57h4v9h-4zM1 -6h4v9h-4zM70 30h2v14h-2zM61 7h3v5h-3zM25 50h4v15h-4zM25 -13h4v15h-4zM42 16h2v11h-2zM69 44h3v8h-3zM71 62h3v11h-3zM71 -1h3v11h-3zM31 42h1v12h-1zM63 35h1v12h-1zM4 20h3v6h-3zM26 36h1v17h-1zM19 17h3v7h-3z"/></pattern>
<pattern id="c1" width="103" height="53" patternUnits="userSpaceOnUse"><path fill="#00ffff" d="M50 41h2v2h-2zM68 6h1v1h-1zM64 13h2v1h-2zM55 26h1v1h-1zM11 35h1v2h-1zM72 7h2v1h-2zM73 37h1v1h-1zM28 2h2v1h-2zM37 26h3v2h-3zM73 19h1v1h-1zM13 37h3v2h-3zM47 6h3v2h-3zM72 3h3v1h-3zM63 43h3v2h-3zM99 20h3v4h-3zM46 19h2v4h-2zM89 49h1v2h-1zM73 19h1v1h-1zM43 46h3v4h-3zM77 4h2v3h-2zM21 48h1v4h-1zM62 26h2v2h-2zM97 35h1v1h-1zM43 44h3v3h-3zM74 51h2v4h-2zM74 -2h2v4h-2zM11 17h2v1h-2zM7 46h2v1h-2zM82 36h3v3h-3zM36 45h3v4h-3zM2 29h2v3h-2zM78 7h2v2h-2zM27 49h2v1h-2zM94 15h2v2h-2zM63 5h2v4h-2zM51 35h1v4h-1zM55 35h2v2h-2zM45 43h2v4h-2zM19 5h2v2h-2zM29 42h1v2h-1zM62 37h1v1h-1zM36 0h1v3h-1zM68 23h1v4h-1zM16 44h3v3h-3zM58 49h3v1h-3zM50 25h3v4h-3zM61 40h2v1h-2zM24 4h2v1h-2zM20 7h1v4h-1zM13 0h2v1h-2zM68 6h3v2h-3zM9 13h2v1h-2zM19 40h3v4h-3zM77 23h2v3h-2zM14 31h2v1h-2zM61 19h2v4h-2zM13 47h1v2h-1zM61 44h2v3h-2zM26 33h1v1h-1zM88 34h2v2h-2zM82 5h1v3h-1zM66 23h3v3h-3zM98 14h1v3h-1zM81 14h3v3h-3zM30 52h3v2h-3zM30 -1h3v2h-3zM25 33h2v2h-2zM93 1h2v3h-2zM60 16h1v3h-1zM57 51h1v3h-1zM57 -2h1v3h-1zM46 5h3v3h-3zM29 30h1v1h-1zM26 30h1v3h-1zM61 41h3v1h-3zM84 7h2v1h-2zM61 11h2v2h-2zM11 51h2v3h-2zM11 -2h2v3h-2z"/></pattern>
<pattern id="c2" width="87" height="69" patternUnits="userSpaceOnUse"><path fill="#00ffff" d="M48 16h1v9h-1zM5 10h1v15h-1zM64 26h1v7h-1zM3 58h2v14h-2zM3 -11h2v14h-2zM49 63h2v11h-2zM49 -6h2v11h-2zM51 11h3v7h-3zM2 34h2v7h-2zM60 48h3v10h-3zM84 33h3v5h-3zM8 49h1v17h-1zM48 13h3v17h-3zM43 30h3v4h-3zM63 66h3v5h-3zM63 -3h3v5h-3zM18 8h1v13h-1zM62 24h3v4h-3zM74 58h1v17h-1zM74 -11h1v17h-1zM56 36h3v13h-3zM54 17h3v9h-3zM76 12h1v16h-1zM40 45h3v15h-3zM63 64h3v17h-3zM63 -5h3v17h-3zM39 19h3v7h-3zM36 65h2v12h-2zM36 -4h2v12h-2zM64 28h3v5h-3zM1 37h2v7h-2zM34 4h2v7h-2zM48 38h2v8h-2zM53 22h3v18h-3zM14 21h3v10h-3zM3 25h3v17h-3zM14 1h1v8h-1zM21 55h2v9h-2zM52 57h1v6h-1zM10 8h2v10h-2zM12 4h2v15h-2zM13 66h1v14h-1zM13 -3h1v14h-1zM19 64h3v9h-3zM19 -5h3v9h-3zM19 8h2v15h-2zM17 43h1v4h-1zM73 15h2v14h-2zM44 41h3v8h-3zM82 63h2v4h-2zM79 4h1v4h-1zM22 43h3v6h-3zM15 10h2v11h-2zM28 63h1v13h-1zM28 -6h1v13h-1zM19 48h2v16h-2zM74 57h1v5h-1zM56 65h3v6h-3zM56 -4h3v6h-3zM60 50h3v5h-3zM28 6h2v11h-2zM57 14h1v4h-1zM0 2h1v7h-1zM55 67h3v9h-3zM55 -2h3v9h-3zM76 64h1v15h-1zM76 -5h1v15h-1zM25 64h3v13h-3zM25 -5h3v13h-3zM67 49h1v9h-1zM82 25h3v12h-3zM78 37h1v8h-1zM41 51h1v15h-1zM37 10h1v14h-1zM47 41h3v10h-3zM80 45h3v8h-3zM13 25h2v14h-2zM48 39h2v9h-2zM50 49h1v8h-1zM45 46h3v12h-3zM25 62h3v10h-3zM25 -7h3v10h-3zM10 34h3v12h-3zM63 34h1v5h-1zM14 35h2v16h-2zM64 34h2v8h-2zM80 52h2v18h-2zM80 -17h2v18h-2zM31 31h1v9h-1zM58 31h3v15h-3zM76 67h1v17h-1zM76 -2h1v17h-1zM63 13h1v9h-1zM10 21h1v10h-1zM5 17h3v10h-3zM24 33h1v13h-1zM59 58h1v5h-1zM36 11h3v18h-3zM45 8h1v13h-1zM4 10h2v16h-2zM46 9h1v14h-1zM4 40h1v15h-1zM45 41h1v8h-1zM14 44h1v12h-1zM20 32h2v6h-2zM55 8h2v6h-2zM28 10h1v12h-1zM22 43h2v18h-2zM13 6h3v7h-3zM22 21h1v12h-1zM41 37h3v14h-3zM64 61h1v15h-1zM64 -8h1v15h-1zM10 17h1v13h-1zM28 41h3v6h-3zM22 21h1v10h-1zM56 7h1v16h-1zM57 36h3v18h-3zM55 47h2v17h-2zM62 46h3v13h-3zM67 23h3v17h-3zM60 16h2v8h-2zM81 64h2v11h-2zM81 -5h2v11h-2zM65 37h3v16h-3zM67 50h1v13h-1zM62 60h1v17h-1zM62 -9h1v17h-1zM50 4h1v8h-1zM47 64h1v17h-1zM47 -5h1v17h-1zM48 3h2v9h-2zM1 10h3v6h-3zM74 16h1v11h-1zM80 13h2v13h-2zM5 47h2v12h-2zM40 13h2v5h-2zM21 30h2v17h-2zM73 44h2v9h-2zM54 47h2v16h-2zM85 4h3v14h-3zM-2 4h3v14h-3zM84 40h3v6h-3z"/></pattern>
<pattern id="c3" width="93" height="77" patternUnits="userSpaceOnUse"><path fill="#00ffff" d="M34 17h4v16h-4zM43 64h2v5h-2zM42 70h4v7h-4zM21 57h1v17h-1zM21 30h4v10h-4zM16 64h1v8h-1zM13 37h1v17h-1zM92 53h2v12h-2zM-1 53h2v12h-2zM26 50h1v13h-1zM5 25h3v15h-3zM7 48h1v18h-1zM3 30h4v9h-4zM76 0h4v8h-4zM25 42h1v11h-1zM17 69h1v7h-1zM10 73h1v21h-1zM10 -4h1v21h-1zM25 53h4v22h-4zM24 11h1v17h-1zM77 5h2v10h-2zM71 19h1v13h-1zM15 51h3v6h-3zM78 64h2v10h-2zM86 66h1v16h-1zM86 -11h1v16h-1zM14 74h1v16h-1zM14 -3h1v16h-1zM26 51h3v19h-3zM48 42h2v5h-2zM14 27h1v18h-1zM34 41h2v19h-2zM80 36h1v14h-1zM7 3h1v21h-1zM54 63h4v22h-4zM54 -14h4v22h-4zM72 8h3v12h-3zM12 51h4v12h-4zM47 17h3v22h-3zM88 33h3v10h-3zM22 33h1v6h-1zM77 18h2v8h-2zM7 57h1v6h-1zM37 1h2v17h-2zM18 61h3v14h-3zM11 71h3v9h-3zM11 -6h3v9h-3zM8 53h3v8h-3zM90 71h4v9h-4zM-3 71h4v9h-4zM90 -6h4v9h-4zM84 35h4v10h-4zM12 6h4v16h-4zM16 22h3v21h-3zM28 1h1v10h-1zM60 58h2v10h-2zM22 70h4v7h-4zM68 8h4v13h-4zM69 39h1v18h-1zM38 8h1v22h-1zM13 12h2v9h-2zM7 62h4v19h-4zM7 -15h4v19h-4zM47 31h1v5h-1zM47 73h4v12h-4zM47 -4h4v12h-4zM4 76h4v12h-4zM4 -1h4v12h-4zM86 52h1v6h-1zM10 24h4v7h-4zM10 8h1v10h-1zM79 60h1v16h-1zM90 9h4v5h-4zM-3 9h4v5h-4zM41 1h3v7h-3zM75 19h4v19h-4zM17 13h4v20h-4zM57 16h3v12h-3zM13 14h2v12h-2zM9 10h1v8h-1zM3 59h3v8h-3zM81 10h2v16h-2zM32 66h2v5h-2zM56 32h2v5h-2zM66 53h1v8h-1zM60 40h1v13h-1zM87 35h2v6h-2zM4 23h2v14h-2zM0 38h3v17h-3zM40 56h1v5h-1zM77 41h2v18h-2zM51 55h4v16h-4zM35 38h2v7h-2zM78 72h4v19h-4zM78 -5h4v19h-4zM49 23h4v19h-4zM7 41h3v17h-3zM40 69h1v10h-1zM40 -8h1v10h-1zM27 46h1v11h-1zM43 57h2v7h-2zM89 69h4v11h-4zM89 -8h4v11h-4zM2 70h3v7h-3zM29 41h4v20h-4zM91 0h1v19h-1zM26 9h3v22h-3zM40 5h2v5h-2zM42 20h1v9h-1zM51 50h1v21h-1zM17 65h4v21h-4zM17 -12h4v21h-4zM34 25h3v16h-3zM72 23h3v17h-3zM1 39h2v10h-2zM61 66h1v13h-1zM61 -11h1v13h-1zM34 36h4v7h-4zM57 61h2v21h-2zM57 -16h2v21h-2zM42 18h2v10h-2zM69 35h3v6h-3zM74 23h3v5h-3zM17 43h1v19h-1zM17 54h2v22h-2zM25 72h2v21h-2zM25 -5h2v21h-2zM71 6h4v5h-4zM47 7h3v20h-3zM59 55h3v17h-3zM12 21h2v22h-2zM33 31h1v16h-1zM23 67h4v21h-4zM23 -10h4v21h-4zM42 28h1v22h-1zM7 75h2v5h-2zM7 -2h2v5h-2zM36 16h2v15h-2zM50 4h3v14h-3zM31 58h1v17h-1zM40 22h4v6h-4zM81 66h2v11h-2zM19 48h4v21h-4zM17 36h1v17h-1zM23 12h4v20h-4zM33 32h4v21h-4zM68 1h3v16h-3zM82 67h2v6h-2zM13 26h4v14h-4zM59 15h1v11h-1zM37 28h3v14h-3zM85 53h1v10h-1zM81 44h3v16h-3zM20 70h3v22h-3zM20 -7h3v22h-3zM26 11h1v9h-1zM2 33h1v11h-1zM45 71h4v16h-4zM45 -6h4v16h-4zM90 52h1v8h-1zM7 31h4v10h-4zM73 53h2v21h-2zM81 44h3v11h-3zM20 69h4v6h-4zM58 37h3v13h-3zM68 54h3v18h-3zM45 28h1v6h-1zM46 57h4v13h-4zM52 65h3v7h-3zM82 15h2v7h-2zM63 2h3v18h-3zM10 49h3v18h-3zM74 60h3v11h-3zM30 37h2v5h-2zM15 75h1v21h-1zM15 -2h1v21h-1zM56 13h1v11h-1zM35 23h4v21h-4zM67 39h1v21h-1zM23 25h2v18h-2zM36 60h3v20h-3zM36 -17h3v20h-3zM59 7h3v21h-3zM10 52h4v7h-4zM61 20h3v7h-3zM89 52h2v20h-2zM73 65h4v8h-4zM56 74h1v14h-1zM56 -3h1v14h-1zM71 21h1v13h-1zM42 65h3v5h-3zM47 41h4v21h-4zM89 40h2v10h-2zM61 10h3v15h-3zM12 72h3v14h-3zM12 -5h3v14h-3zM7 50h3v14h-3zM39 52h4v7h-4zM37 48h2v19h-2zM5 26h4v21h-4zM73 8h2v8h-2zM84 36h1v7h-1zM37 6h1v20h-1zM20 11h4v10h-4zM15 20h3v8h-3z"/></pattern>
<pattern id="w1" width="107" height="83" patternUnits="userSpaceOnUse"><path fill="#ffffff" d="M61 73h1v17h-1zM61 -10h1v17h-1zM59 62h1v10h-1zM4 66h2v9h-2zM9 31h2v14h-2zM53 17h2v5h-2zM53 36h2v16h-2zM22 38h2v18h-2zM58 30h2v8h-2zM5 74h2v16h-2zM5 -9h2v16h-2zM17 24h1v11h-1zM98 30h2v15h-2zM55 60h2v18h-2zM64 20h1v14h-1zM30 4h1v17h-1zM38 77h1v19h-1zM38 -6h1v19h-1zM19 49h1v6h-1zM14 12h2v8h-2zM103 24h2v9h-2zM53 57h2v17h-2zM18 79h1v12h-1zM18 -4h1v12h-1zM34 58h1v7h-1zM84 22h2v9h-2zM98 44h1v19h-1zM28 0h2v17h-2zM40 31h1v14h-1zM57 51h1v12h-1zM63 30h1v16h-1zM61 77h2v20h-2zM61 -6h2v20h-2zM21 62h2v6h-2zM17 53h2v16h-2zM62 21h2v16h-2zM53 4h2v7h-2zM68 8h1v18h-1z"/></pattern>
<pattern id="w2" width="85" height="65" patternUnits="userSpaceOnUse"><path fill="#ffffff" d="M59 57h2v11h-2zM59 -8h2v11h-2zM24 23h3v12h-3zM80 23h3v10h-3zM38 18h1v10h-1zM81 5h1v11h-1zM57 20h3v9h-3zM67 8h3v3h-3zM24 30h1v3h-1zM59 41h3v3h-3zM25 29h2v12h-2zM63 0h3v7h-3zM58 35h3v4h-3zM10 32h2v11h-2zM65 36h2v6h-2zM72 13h1v4h-1zM37 49h2v4h-2zM0 27h1v3h-1zM60 48h1v3h-1zM53 9h3v9h-3zM25 34h3v13h-3zM39 42h2v4h-2zM15 17h1v9h-1zM12 1h1v14h-1zM62 22h1v10h-1zM24 57h3v11h-3zM24 -8h3v11h-3zM16 53h3v6h-3zM14 50h3v9h-3zM0 34h2v6h-2zM2 26h3v7h-3zM77 12h1v9h-1zM27 56h1v5h-1zM78 42h2v3h-2zM9 9h2v9h-2zM74 31h1v6h-1zM47 47h1v12h-1zM16 61h3v10h-3zM16 -4h3v10h-3zM49 23h3v5h-3zM39 29h3v5h-3zM24 20h3v6h-3zM70 25h3v13h-3zM61 10h3v9h-3zM13 13h2v3h-2zM32 30h1v11h-1zM50 32h3v14h-3zM62 37h2v12h-2zM8 16h3v5h-3zM71 9h1v10h-1zM26 2h2v6h-2zM52 57h1v7h-1zM5 22h1v3h-1zM67 16h2v8h-2zM17 57h1v8h-1zM66 17h2v13h-2zM2 60h3v3h-3zM39 4h2v14h-2zM81 9h1v12h-1zM39 40h2v4h-2zM9 57h1v4h-1zM5 16h3v8h-3zM10 60h2v8h-2zM10 -5h2v8h-2zM3 63h1v9h-1zM3 -2h1v9h-1zM79 48h3v3h-3zM1 9h2v12h-2zM81 14h1v4h-1zM42 49h2v9h-2zM74 58h3v14h-3zM74 -7h3v14h-3zM69 10h2v10h-2zM3 39h3v11h-3zM61 2h3v4h-3zM14 63h1v14h-1zM14 -2h1v14h-1zM62 32h3v13h-3zM38 18h1v8h-1zM25 21h3v12h-3zM56 63h2v13h-2zM56 -2h2v13h-2zM51 32h1v8h-1zM55 25h1v13h-1zM28 40h1v9h-1zM17 63h1v5h-1zM17 -2h1v5h-1zM8 35h2v3h-2zM57 60h1v4h-1zM52 48h2v6h-2zM63 40h3v11h-3zM57 41h3v12h-3zM35 5h1v3h-1zM35 45h3v14h-3zM72 2h2v13h-2zM51 58h3v5h-3zM34 30h1v3h-1zM80 14h1v3h-1zM80 47h2v4h-2zM25 25h1v13h-1zM22 1h2v7h-2zM4 22h2v11h-2zM44 64h1v7h-1zM44 -1h1v7h-1zM50 28h3v5h-3zM49 16h1v9h-1zM25 0h2v10h-2zM72 64h2v11h-2zM72 -1h2v11h-2zM41 26h2v10h-2zM82 15h1v14h-1zM49 11h1v6h-1zM41 33h2v11h-2zM44 64h3v3h-3zM44 -1h3v3h-3zM56 43h1v3h-1zM35 62h3v9h-3zM35 -3h3v9h-3zM8 54h1v6h-1zM68 42h1v5h-1zM60 19h3v5h-3z"/></pattern>
</defs>
<polygon fill="url(#g0)" points="519.5,862.6 566.1,858 705.8,839.3 840,832.4 840,848.7 705.8,853.3 566.1,867.3 519.5,881.3"/>
<polygon fill="url(#g1)" points="566.1,867.3 705.8,853.3 840,846.3 840,883.6 542.8,883.6"/>
<polygon fill="url(#g1)" points="705.8,860.3 840,853.3 840,883.6 705.8,883.6"/>
<path fill="#d3d3d3" d="M309.9 954.6V929.5H313.9V930H315.9V930.9H317.9V931.2H319.9V931.7H323.9V936H325.9V931.7H327.9V931.7H331.9V932.6H333.9V930.6H335.9V933.1H337.9V933H339.9V934.8H341.9V933.5H343.9V933.9H345.9V931H347.9V931.5H349.9V929.9H351.9V931.1H353.9V931.5H357.9V929.5H359.9V931H361.9V930H363.9V931.4H365.9V932.9H367.9V930.7H369.9V932.9H371.9V931.8H375.9V934.3H377.9V931.9H379.9V932.1H381.9V934H383.9V935H387.9V934H389.9V932.8H393.9V930.5H397.9V930.9H401.9V928H405.9V931.5H407.9V931.7H409.9V932.9H411.9V931.6H413.9V932.8H415.9V932.6H419.9V930H423.9V931.4H427.9V931.8H431.9V930.3H433.9V929.3H435.9V931H437.9V929.3H439.9V928.9H441.9V928.2H443.9V929.3H445.9V928.7H449.9V933.2H451.9V933.3H453.9V932H455.9V929.7H459.9V928.7H463.9V927.5H465.9V929.4H467.9V929.8H469.9V929.8H473.9V931.1H475.9V930.4H477.9V929.8H479.9V931.2H481.9V929.8H483.9V929.3H485.9V931.6H487.9V931.2H489.9V931.1H491.9V933.2H495.9V929.7H496.2V954.6H309.9Z"/>
<path fill="#d3d3d3" d="M497.4 954.6V884.7H501.4V884.8H505.4V881.4H509.4V884.1H511.4V883.9H513.4V885.2H517.4V884.9H521.4V884.6H523.4V884.7H525.4V881.5H529.4V880.7H531.4V880.3H533.4V883.3H535.4V884.2H537.4V884.3H539.4V885.1H543.4V885.2H545.4V882.8H547.4V880.3H549.4V880.4H551.4V880.1H553.4V882.5H555.4V881.9H559.4V884.9H563.4V883.1H567.4V882.2H569.4V880H571.4V885.5H575.4V884.8H577.4V885.8H581.4V884.3H583.4V882.4H585.4V883.1H587.4V883.3H591.4V882.4H593.4V882H595.4V882H599.4V882.6H601.4V884.9H603.4V883.3H605.4V882.2H609.4V886.1H611.4V886.3H613.4V883.9H615.4V884H619.4V884.8H623.4V885.1H625.4V883.7H629.4V884.5H633.4V885.8H635.4V887.6H639.4V887.5H641.4V885.6H645.4V884.4H649.4V883.8H651.4V883.7H653.4V883.9H657.4V883.4H659.4V879.6H661.4V883.4H663.4V882.8H667.4V883H669.4V884.9H673.4V882.1H675.4V882.4H679.4V883.6H683.4V883.7H687.4V882.7H691.4V878.8H693.4V879H695.4V879.5H697.4V879.1H699.4V881.7H701.4V882.7H703.4V883.9H705.4V882.7H707.4V881.1H709.4V879.9H711.4V880.9H713.4V880.8H715.4V885.1H717.4V885.5H719.4V887H721.4V885.7H725.4V883.9H727.4V882.9H731.4V880.7H733.4V880.7H735.4V884.8H739.4V883.8H743.4V885.1H745.4V885.6H747.4V881.4H749.4V881.1H753.4V880.4H755.4V884.1H757.4V883H759.4V882.8H763.4V879.9H765.4V881.4H767.4V880.4H771.4V883.3H773.4V884.3H777.4V881.2H781.4V880.1H783.4V883H785.4V879.1H789.4V881.1H793.4V879.7H797.4V879.1H799.4V882.3H801.4V880.5H805.4V881.9H807.4V883.3H809.4V883.2H811.4V882H813.4V883.2H817.4V884.2H819.4V885.1H821.4V882.6H825.4V881H827.4V881.3H829.4V882.8H831.4V883.1H833.4V883.2H835.4V878.8H837.4V879.7H839.4V880.3H840V954.6H497.4Z"/>
<polygon fill="url(#w2)" points="496.2,881.3 840,881.3 840,892.9 496.2,895.3"/>
<polygon fill="url(#w1)" points="496.2,892.9 840,892.9 840,916.2 496.2,916.2"/>
<path fill="#ffb6c1" d="M269.1 906.5H273.5V905.9H277.8V903.1H282.2V901.2H286.6V898.6H290.1V897.3H293.6V896.8H297.1V893.5H301.4V890.6H300.8V896.4H300.6V902.8H297.1V904.5H293.6V904H290.1V909.5H286.6V911.1H282.2V912.5H277.8V910.9H273.5V912.3H268.4V916.2H268.7V911.6Z"/>
<polygon fill="url(#p3)" points="298.2,869.6 316.9,869.6 316.9,892.9 298.2,892.9"/>
<path fill="#ffb6c1" d="M309.9 917.2H313.8V917.7H317.6V918H321.5V917.2H325.4V915.5H329.3V912.8H333.2V912H337.4V911.2H341.6V909.7H345.9V910.9H350.1V912.9H354.3V911.9H358.6V911.1H362.8V910.1H367V911.4H371.3V910.7H375.5V911.6H380.2V911.6H379V916.2H382V920.9H382V925.5H384.4V928.9H380.3V928.5H376.1V931.9H372V931.3H367.8V931.1H363.7V929.5H359.6V928.6H355.4V930.1H351.3V931H347.1V930.7H343V931.8H338.9V930.4H334.7V933.5H330.6V931.9H326.4V933.9H322.3V931.5H318.2V930.9H314V930.1H310.5V931.4H310.7V927.1H310V922.8Z"/>
<path fill="#ffb6c1" d="M433.3 886.5H436.6V890.2H439.8V892.7H443.1V896.1H446.4V900.8H449.6V899H454.3V902.1H458.9V902.3H463.6V902H468.3V903.9H472.9V904.6H476.8V910.3H480.7V907.5H484.6V908H488.4V910.8H492.3V908.4H495.5V911.6H496.8V916.2H495.7V920.9H495.1V925.5H495.6V930.2H494.7V934.8H496.2V941.6H492V942.2H487.8V945H483.6V939.9H479.4V940.3H475.3V940.7H471.1V942.4H466.9V941.7H462.7V943.5H458.5V941.7H454.3V940H450.1V945.9H445.9V942.3H441.7V945.7H437.5V943.2H433.5V944.2H431.5V939.9H432.2V935.6H433.8V931.3H434V927H433.1V922.7H433.5V918.4H431.3V914.1H433.4V909.8H432.6V905.5H432.2V901.2H433.7V896.9H432.8V892.6Z"/>
<polygon fill="url(#p1)" points="496.2,911.6 705.8,909.2 705.8,945.3 496.2,945.3"/>
<polygon fill="url(#p1)" points="589.4,913.9 705.8,913.9 705.8,939.5 589.4,939.5"/>
<polygon fill="url(#p1)" points="705.8,911.6 840,911.6 840,945.3 705.8,945.3"/>
<polygon fill="url(#g2)" points="584.7,820.7 636,809.1 682.6,811.4 682.6,825.4 647.6,827.7 636,858 589.4,853.3"/>
<path fill="#ffb6c1" d="M591.7 827.9H595.9V826.3H600.1V824.8H604.3V822.7H608.5V822.4H612.7V820.7H618.5V823.4H624.3V821.6H628.2V825.1H632.1V815.4H636V818.5H640.6V820.8H645.1V820.7H644.6V825.4H645.2V830H645.3V835.7H640.6V836.9H636V833.4H631.3V836.4H626.6V835.6H622V838.5H617.8V836.4H613.7V837.5H609.5V839H605.4V837.2H601.2V838.1H597V836.8H592.6V838.2H590.5V832.9Z"/>
<path fill="#00ffff" d="M592.9 837.2H597V839.2H601.2V836.5H605.4V838.4H609.5V835.8H613.7V838.5H617.8V837.1H622V839H626.6V837.3H631.3V835.3H636V834H641V833.5H640.6V838.8H640.6V842.8H636V848.4H631.3V847.6H627.8V853.8H624.3V859.8H620.8V854.1H617.3V847.9H612.7V851.8H608V851H603.4V850.4H598.7V850.9H594.2V852.2H594.4V847.5H593.2V842.8Z"/>
<path fill="#00ffff" d="M648.8 818.3H654V818.8H659.6V818.4H658.6V823H658.1V827.8H651.6V826.5Z"/>
<path fill="#00ffff" d="M269.1 954.6V780.9H273.1V788.5H277.1V792H279.1V798.8H281.1V804.6H285.1V816.2H287.1V818.3H289.1V810.5H291.1V818.2H295.1V830.4H297.1V826H298.2V954.6H269.1Z"/>
<polygon fill="url(#c3)" points="298.2,823 309.9,825.4 344.8,832.4 370.4,846.3 384.4,853.3 384.4,869.6 298.2,869.6"/>
<path fill="#00ffff" d="M298.2 882.7H302.2V880.3H306.3V881.5H310.3V878.8H314.3V881.2H318.3V882.9H322.3V883.2H326.3V879.9H330.3V880.6H334.3V881H338.3V878.1H342.4V883.2H346.4V882.1H350.4V881.9H354.4V882.5H358.4V880.9H362.4V881.5H366.4V882.3H370.4V882.2H374.4V880.7H378.5V879.8H382.5V882H386.5V881.7H390.5V880H394.5V882.6H398.5V882H402.5V881.8H406.5V881.4H410.5V881.9H414.6V882.9H418.6V880.9H422.6V883H426.6V881.6H430.6V881.8H434.6V883.1H438.6V881.5H443V881.3H442.3V885.6H442.7V890H442.8V894.4H442.3V898.7H442.2V903.1H443.3V907.5H443.4V911.8H442.6V915.2H439.4V917.8H436.1V921.8H432.9V924.6H429.6V924.4H426.3V927.4H422V929.2H417.7V930.2H413.4V929H409.1V926.5H404.8V929.4H400.5V927.8H396.2V927.5H391.9V928.3H387.6V926.8H383.3V927H379V924.5H374.7V929.3H370.6V927.9H370.1V923.8H370.5V919.7H370.4V915.6H370.4V911H366.4V910.7H362.4V911.2H358.4V908.7H354.4V909.6H350.4V911.2H346.4V913.2H342.4V912.1H338.3V912.5H334.3V912.4H330.3V911.3H326.3V911.9H322.3V911.5H318.3V911H314.3V911.5H310.3V912H306.3V911H302.2V910.7H298.4V911.6H298.3V907.2H298.4V902.9H299V898.6H298.4V894.3H298.2V889.9H297.8V885.6Z"/>
<path fill="#00ffff" d="M269.1 916.9H273.3V916.8H277.4V914.2H281.6V913.4H285.8V913.9H289.9V914.5H294.1V912.6H298.2V910.5H302.1V912.4H306V914.6H310.4V916.2H309.9V920.5H309.7V924.8H309.8V929H310V933.3H309.5V937.6H309.9V941.8H310V946.1H310.8V950.4H309.9V954.6H305.8V955.6H301.7V953.7H297.6V955.5H293.6V954.8H289.5V954.2H285.4V954.7H281.3V955.5H277.3V954.4H273.2V955.6H270V954.6H270V950.4H270V946.1H268.4V941.8H269.3V937.6H268.8V933.3H269.7V929H269.2V924.8H269.3V920.5Z"/>
<path fill="#ffb6c1" d="M269.1 907.6H273.5V904.9H277.8V908.4H282.2V902.4H286.6V900.2H290.1V898.2H293.6V894.5H297.1V891.9H301V890.6H300.2V896.4H300.6V903.4H297.1V904H293.6V903.7H290.1V906.4H286.6V909.1H282.2V908.9H277.8V913.2H273.5V914.3H269.9V916.2H268.4V911.6Z"/>
<polygon fill="url(#c1)" points="309.9,934.8 496.2,934.8 496.2,951.2 309.9,951.2"/>
<polygon fill="url(#p2)" points="300.6,883.6 403,883.6 403,916.2 300.6,916.2"/>
<path fill="#ffb6c1" d="M370.4 913.9H374.6V918.4H378.8V916.8H383V915.4H387.2V917.6H391.4V914.8H395.6V919.5H399.8V917.1H404V916.2H408.2V917.4H412.4V914.6H416.6V917.1H420.7V917.7H424.9V917.7H429.1V917H432.5V916.2H433.6V920.3H432.2V924.4H433.6V928.4H433.3V931.7H429.1V931.5H424.9V933.7H420.7V935.5H416.6V934.8H412.4V932.1H408.2V932H404V931.3H399.8V931.8H395.6V932.8H391.4V933.3H387.2V932H383V932.6H378.8V931H374.6V931.9H371.6V932.5H371.7V928.4H370.9V924.4H370.6V920.3Z"/>
<polygon fill="url(#c2)" points="370.4,916.2 433.3,916.2 433.3,939.5 370.4,939.5"/>
<polygon fill="url(#g0)" points="800,837 939.8,827.7 963,860.3 963,883.6 800,883.6"/>
<polygon fill="url(#g1)" points="800,846.3 928.1,844 960.7,869.6 960.7,887.1 800,887.1"/>
<polygon fill="url(#g2)" points="800,865 916.5,862.6 958.4,876.6 958.4,887.1 800,887.1"/>
<path fill="#d3d3d3" d="M800 954.6V886.9H802V887.5H804V887.2H808V889.3H810V881.7H812V886H814V887.7H818V887.9H820V892.4H822V887H824V887.4H826V887.5H828V887.5H830V884.6H832V886.7H834V886.3H836V888.7H838V884.1H842V885.7H846V888.2H848V887.7H850V885.6H852V884.8H856V884H858V884.7H860V885.8H862V884.1H864V886H866V886.4H870V890H872V889.7H874V886.2H876V887.1H880V889.1H882V886.3H884V885H886V883.3H888V887.7H890V885.6H892V888.2H894V885.8H896V886.1H898V886.3H902V887.2H904V884.3H908V888H910V887.3H914V887.3H916V888.2H918V886.3H920V888.1H924V886.1H928V887.3H930V886H932V887.9H934V889.2H936V888.4H938V884.2H940V888.8H942V890.1H944V894.4H946V895.1H948V894.7H950V895.2H952V895.1H956V897.3H960V896.5H964V896.8H968V891.6H970V890.8H972V890.1H974V891.3H976V892.6H980V896H982V891.8H986V893.3H990V893.9H992V894.4H994V893.2H998V891H1002V893.8H1004V890.2H1008V894.4H1012V895.7H1014V895.1H1018V893.7H1022V889.3H1024V892.3H1026V889.1H1030V891.4H1034V890.7H1036V893.8H1038V891.1H1040V892.2H1044V893.9H1046V895.9H1050V893.2H1054V891.9H1056V890.8H1058V893.9H1060V894.9H1064V891.8H1066V891.6H1068V891.5H1070V892.1H1072V893.5H1076V892H1080V890.6H1084V895.2H1086V890.7H1090V890H1092V889.9H1094V890.2H1096V893.3H1100V896.5H1102V890.3H1104V891.6H1108V892.7H1110V875.3H1114V876.4H1116V877.5H1118V874.8H1120V876.3H1122V877.5H1124V872.9H1128V873.7H1130V875.5H1132V875.8H1134V875.9H1138V877H1140V877.2H1142V871.8H1144V874.8H1148V874.2H1150V874.5H1152V878.5H1154V873.4H1156V875.4H1160V872.6H1162V868.2H1164V872.1H1166V872.6H1170V869.5H1174V871.3H1176V871.1H1178V870.8H1180V873H1182V875H1184V881.9H1186V882.1H1188V880.3H1192V879.3H1196V874.6H1198V875.3H1202V878.6H1206V878.5H1208V877.1H1212V878.4H1216V878.5H1218V896.7H1222V933.7H1224V935H1226V934H1228V935.1H1230V937.9H1232V938.9H1234V940.3H1236V935.8H1238V933.4H1240V935.9H1242V938H1244V936.2H1246V933.7H1248V934.6H1250V935.6H1252V939.1H1254V939H1258V938.6H1260V941.7H1262V939.1H1264V936.3H1268V936.6H1270V936.8H1272V936.8H1274V933.9H1278V935.1H1280V933.8H1282V936.5H1284V936.9H1288V937.3H1290V938.1H1292V937.9H1294V939.4H1296V938H1298V935.4H1300V939.4H1302V938.4H1304V936.7H1306V938.7H1308V934.6H1310V934.3H1314V936.1H1316V935H1318V937.3H1322V938H1326V937.9H1328V936.6H1330V942.3H1334V941.4H1336V939.6H1340V935.6H1342V931.9H1344V928.5H1348V932.1H1350V933.1H1354V933.1H1356V932.3H1358V935.6H1360V936.8H1362V933.3H1364V934H1368V934.6H1370V929.3H1372V933.3H1374V933.3H1378V929.1H1380V930.2H1382V930.9H1384V931.8H1386V929.1H1388V927.3H1390V929.8H1392V927.3H1394V922.8H1396V926.3H1398V925.9H1400V924H1400V954.6H800Z"/>
<polygon fill="url(#w2)" points="939.8,887.1 1109.8,889.4 1109.8,913.9 939.8,913.9"/>
<polygon fill="url(#w2)" points="1109.8,865 1219.3,865 1219.3,911.6 1109.8,911.6"/>
<polygon fill="url(#g1)" points="1009.6,869.6 1114.4,869.6 1114.4,888.3 1009.6,888.3"/>
<polygon fill="url(#g1)" points="1219.3,911.6 1400,892.9 1400,934.8 1219.3,934.8"/>
<polygon fill="url(#p1)" points="939.8,911.6 1042.2,909.2 1042.2,946.5 939.8,946.5"/>
<polygon fill="url(#p1)" points="963,916.2 1042.2,913.9 1042.2,939.5 963,939.5"/>
<path fill="#ffb6c1" d="M1042.2 913.5H1046.5V913.1H1050.7V911.1H1054.9V911.3H1059.1V914.7H1063.3V911.6H1067.6V912.2H1071.8V912.1H1076V912.4H1080.2V913.1H1084.5V912.1H1088.7V910.8H1092.9V912.6H1097.1V914.7H1101.3V912.7H1105.6V910.8H1109.8V917.5H1114V911.5H1118.2V913.1H1122.5V912H1126.7V914.1H1130.9V913.4H1135.1V910.8H1139.3V914.9H1143.6V913.8H1147.8V910.6H1152V911.2H1156.2V910.9H1160.4V914.9H1164.7V913.2H1168.9V913.2H1173.1V914.6H1179V912.7H1177.4V916.8H1177.7V920.9H1177.1V924.9H1177.1V929H1177.2V933.1H1176.9V937.2H1177.9V941.3H1177.3V947.3H1173.2V943H1169.1V946.4H1165.1V944.5H1161V944.8H1156.9V942.5H1152.8V941.2H1148.7V945H1144.6V944.3H1140.5V944.3H1136.4V944.9H1132.3V943.2H1128.2V945.9H1124.1V947.8H1120V947.3H1115.9V945.9H1111.8V945.2H1107.7V945.3H1103.6V944.9H1099.6V944.7H1095.5V944.3H1091.4V944H1087.3V952.3H1083.2V946.6H1079.1V946.3H1075V945.8H1070.9V943.9H1066.8V945.3H1062.7V943.3H1058.6V944.9H1054.5V943.3H1050.4V944.2H1046.3V945H1043V945.3H1041.8V940.8H1041.1V936.3H1039.8V931.9H1041.9V927.4H1043.1V922.9H1042.3V918.4Z"/>
<path fill="#ffb6c1" d="M960.7 905.6H964.8V905.4H968.9V906.8H972.9V906.2H977V906.3H981.1V905.2H985.2V906H989.2V906.2H993.3V906.1H997.4V908.1H1001.5V905.5H1005.6V909.5H1009.6V902.2H1013.5V910H1017.4V910.4H1021.3V913.2H1025.2V914.5H1029V917.1H1032.9V922.3H1029V924.2H1025.2V925.8H1021.3V925.7H1017.4V924.3H1013.5V928H1009.6V932.7H1005.7V928.6H1001.9V930.3H998V927.6H994.1V926.3H990.2V928.4H986.3V925H982.5V922.9H978.6V922.6H974.7V919.9H970.8V921.3H966.9V921.4H962.2V918.5H962.3V912.7Z"/>
<path fill="#ffb6c1" d="M1177.3 913.1H1181.7V914.1H1186.1V913.2H1190.5V914H1194.9V910.9H1199.3V911.9H1203.7V912.7H1208.1V914H1212.5V913.8H1218.3V912.7H1216.5V916.9H1218.6V921.2H1217V925.4H1217V929.6H1216.1V933.8H1217.3V938H1217V942.3H1216.9V943.7H1212.5V945.3H1208.1V946.4H1203.7V946.2H1199.3V945H1194.9V946.4H1190.5V947.7H1186.1V948.7H1181.7V946.5H1177.9V946.5H1177.5V942.3H1176.5V938H1176.5V933.8H1176.5V929.6H1176.5V925.4H1178V921.2H1175.4V916.9Z"/>
<polygon fill="url(#p2)" points="1219.3,918.5 1289.1,920.9 1335.7,932.5 1335.7,946.5 1219.3,946.5"/>
<polygon fill="url(#c2)" points="818.6,872 838.4,872 838.4,904.6 818.6,904.6"/>
<path fill="#00ffff" d="M1307.8 712.3H1313V709.4H1318.2V706.5H1324.8V710.1H1324.3V715.3H1324.1V719.5H1320.2V722H1316.3V722.7H1312.3V724.1H1307.4V718.2Z"/>
<polygon fill="url(#c1)" points="1214.6,916.2 1324.1,916.2 1324.1,946.5 1214.6,946.5"/>
<polygon fill="url(#g0)" points="1360,892.9 1960,892.9 1960,925.5 1360,925.5"/>
<polygon fill="url(#g1)" points="1360,918.5 1960,918.5 1960,939.5 1360,939.5"/>
<polygon fill="url(#g2)" points="1360,927.9 1453.2,927.9 1453.2,939.5 1360,939.5"/>
<path fill="#d3d3d3" d="M1360 954.6V927.4H1362V930.7H1364V930.4H1366V931.4H1368V933.2H1372V933.6H1374V926.6H1376V927.2H1378V929.8H1380V934H1382V935.4H1384V934.1H1386V928.4H1388V928.3H1392V930.6H1394V930.7H1396V928.6H1398V932.5H1402V936.8H1404V929.9H1406V930.6H1410V926.4H1412V928H1414V934.6H1418V932.9H1420V935.8H1424V934.2H1426V930.9H1428V928.3H1430V927.7H1434V937.7H1436V932.9H1438V935.9H1440V933.5H1442V932.2H1446V937.2H1448V928.8H1450V932.9H1454V930.4H1458V928.6H1460V929H1462V925.7H1464V929H1468V933.2H1470V932H1472V930.5H1474V934.5H1478V937.1H1480V934.7H1482V933.5H1486V933.7H1490V933.1H1494V927.8H1496V930.4H1498V931H1500V931.5H1504V934.2H1506V932.1H1508V932.4H1510V933.4H1514V936.3H1518V935.6H1522V930.6H1524V931H1526V933.3H1528V933.3H1530V936.3H1532V934.3H1534V936.1H1536V932.7H1540V936.2H1542V937.8H1544V933.4H1546V936H1548V937.3H1552V932.2H1554V934.8H1558V941.2H1562V942.2H1566V942.1H1568V936.2H1572V936.1H1574V938.8H1576V942.5H1580V939.4H1584V939H1586V937.7H1588V934.4H1590V933.8H1592V934.7H1594V936.4H1596V936.1H1598V934.9H1600V943.1H1602V945.8H1604V946.2H1606V940.6H1608V941.5H1610V938.4H1612V936.7H1616V940.6H1620V935.3H1622V937.2H1624V935.4H1626V936.2H1630V937.4H1632V933.7H1634V932.4H1638V938H1640V937H1642V934.3H1644V936.3H1646V932.9H1650V932H1652V932H1654V933.2H1656V931.8H1658V933.5H1660V934.6H1664V935.3H1668V937.1H1670V939.4H1672V939.6H1676V939.8H1678V938.9H1680V934.7H1682V940.5H1684V942.4H1686V943.4H1688V943.2H1690V935.9H1692V939.1H1694V933.1H1696V938.3H1698V941.3H1700V943.1H1702V943.3H1704V942.8H1706V944.4H1708V942.1H1712V938.2H1716V935.6H1718V935.7H1720V940.6H1722V938.8H1726V935.4H1730V942.6H1732V940.7H1734V934.8H1736V934.9H1740V934.9H1744V935.5H1746V932.5H1750V935H1754V934.6H1758V938.1H1760V935.5H1764V933.7H1766V935.7H1770V937.7H1772V934.4H1776V942.9H1778V937.1H1780V932H1782V935.2H1784V932.6H1786V932.8H1788V936.9H1790V944.9H1792V942.7H1796V943H1798V938.9H1800V936.3H1804V941.3H1808V940H1810V933H1812V938.6H1814V936.7H1816V939.2H1820V937.9H1824V941.8H1826V938H1828V938.1H1832V932.1H1836V935.4H1838V936.6H1840V938.8H1844V944.5H1848V937.7H1850V934.7H1852V935.1H1854V934.2H1856V936.6H1858V930.3H1862V933.1H1864V932.7H1868V937.3H1872V938.1H1874V934.1H1876V942.3H1878V938.2H1880V936.1H1882V940.1H1884V940.5H1888V939.8H1892V942H1894V942.9H1898V943H1902V937.6H1904V937.3H1906V941.4H1908V937.6H1910V939.3H1912V935.6H1914V936.6H1918V938.3H1922V934.5H1924V935.8H1928V942.7H1930V942.3H1932V939.6H1936V943.1H1938V937.4H1940V942.6H1942V946.4H1944V944.4H1946V940.8H1948V940.6H1950V938.6H1952V939.4H1954V942.5H1958V941.1H1960V941.1H1960V954.6H1360Z"/>
<polygon fill="url(#w1)" points="1360,934.8 1960,934.8 1960,954.6 1360,954.6"/>
<polygon fill="url(#p1)" points="1360,920.9 1476.5,920.9 1476.5,941.8 1360,941.8"/>
<polygon fill="url(#c1)" points="1418.2,934.8 1732.7,934.8 1732.7,951.2 1418.2,951.2"/>
<polygon fill="url(#g0)" points="1920,888.3 2229.8,888.3 2229.8,909.2 1920,909.2"/>
<polygon fill="url(#g1)" points="1920,906.9 2229.8,906.9 2229.8,937.2 1920,937.2"/>
<polygon fill="url(#g2)" points="1989.9,916.2 2229.8,911.6 2229.8,937.2 1989.9,937.2"/>
<path fill="#d3d3d3" d="M1920 954.6V937.7H1922V938.2H1924V936H1926V937H1928V938.9H1930V935.9H1932V937.7H1936V936.6H1938V933H1940V934.1H1944V936H1948V935.9H1952V936.9H1954V935.5H1958V935.6H1962V935.9H1964V936.5H1966V936.8H1968V934.5H1970V935.7H1972V935.5H1976V935.3H1978V934.7H1982V936.3H1984V935.7H1986V935.8H1988V936.3H1990V934.9H1992V935.6H1994V935.8H1996V934.8H2000V935.3H2002V934.6H2004V936H2008V936.4H2010V933.5H2012V933.3H2014V935.3H2018V932.5H2020V934.1H2022V933.4H2026V934H2028V932.9H2030V932.9H2032V934.8H2036V932.7H2038V934.8H2040V933H2044V934.8H2046V935.4H2050V934.6H2054V933.1H2058V934H2062V933.2H2066V934H2068V935H2070V936.9H2072V935.9H2076V934.1H2078V934.7H2080V936.4H2084V935.9H2086V936.5H2090V936.6H2092V934.1H2096V931.5H2100V932.1H2102V933H2106V935H2110V933.8H2112V934.2H2116V933.3H2118V938H2120V936.2H2122V933.9H2126V932.4H2130V932.4H2132V935.3H2134V934.9H2136V934.8H2140V936.7H2142V936.3H2144V931.7H2146V932.7H2148V934.5H2150V932.8H2152V933.8H2154V935.1H2156V933.6H2158V934.4H2162V933.5H2164V935H2168V933.8H2170V934.9H2172V933.7H2176V934.8H2180V936H2182V934.4H2186V932.6H2190V935.9H2192V937.3H2196V937.5H2198V934.9H2200V932.8H2204V934.6H2206V934.5H2210V934.5H2214V934.9H2216V932.5H2218V931.2H2220V932.5H2224V933.7H2226V935.7H2228V934.3H2229.8V954.6H1920Z"/>
<polygon fill="url(#w1)" points="1920,934.8 2229.8,934.8 2229.8,954.6 1920,954.6"/>
<polygon fill="url(#g2)" points="2278.3,861.1 2289.4,861.1 2289.4,886.2 2278.3,886.2"/>
<polygon fill="url(#g2)" points="2253.1,886.2 2339.8,886.2 2339.8,933.7 2253.1,933.7"/>
<path fill="#d3d3d3" d="M2234.9 954V936.1H2236.9V940.7H2238.9V933.6H2242.9V935H2246.9V941.9H2248.9V936.3H2250.9V939H2252.9V939.5H2254.9V932.9H2258.9V932.2H2260.9V932H2264.9V931.2H2268.9V930.6H2270.9V937.8H2272.9V938.1H2274.9V934.9H2276.9V934.1H2280.9V931.3H2284.9V931.9H2288.9V928.5H2290.9V926.2H2292.9V927.1H2294.9V930.2H2296.9V935.2H2298.9V929.3H2300.9V933.6H2304.9V930.6H2306.9V932.8H2308.9V933.2H2310.9V931.9H2312.9V936.9H2314.9V939.5H2318.9V937.6H2322.9V937.8H2324.9V930.1H2326.9V930.4H2330.9V931.1H2332.9V927.6H2334.9V941H2338.9V930.3H2340.9V931.2H2344.9V932.4H2346.9V929.6H2348.9V920.6H2350.9V927.1H2354.9V923.6H2356.9V914.3H2360.9V912H2362.9V916.4H2364.9V911H2366.9V916.3H2368.9V915.1H2370.9V905.8H2372.9V911.1H2374.9V913.2H2378.9V912.8H2380.9V914.1H2382.9V915.8H2386.9V905.4H2390.9V899.6H2394.9V905H2396.9V907.2H2400.9V904.3H2402.9V904.7H2404.9V906.5H2406.9V904H2410.9V903.6H2412.9V904.7H2414.9V900.6H2416.9V900.6H2418.9V905.1H2420.9V907.5H2422.9V903.4H2426.9V906.5H2428.9V902.9H2430.9V907.4H2434.9V905.7H2438.9V913.3H2440.9V916.7H2442.9V920H2444.9V924.7H2446.9V922H2448.9V922.5H2450.9V926.2H2454.9V933.6H2458.9V938.4H2460.9V931.8H2462.9V932.6H2466.9V939.1H2470.9V940.9H2472.9V947.2H2474.9V943.7H2478.9V954H2234.9Z"/>
<polygon fill="url(#w2)" points="2339.8,903 2465.5,903 2465.5,933.7 2339.8,933.7"/>
<polygon fill="url(#g3)" points="2426.4,866.6 2465.5,863.9 2465.5,886.2 2426.4,886.2"/>
<polygon fill="url(#g2)" points="2437.6,855.5 2479.5,855.5 2479.5,866.6 2437.6,866.6"/>
<polygon fill="url(#g3)" points="2543.8,855.5 2560,852.7 2560,886.2 2543.8,886.2"/>
<path fill="#d3d3d3" d="M2549.4 954V886.6H2551.4V893.7H2553.4V891.4H2557.4V889.1H2560V954H2549.4Z"/>
<polygon fill="url(#p2)" points="2283.9,890.4 2353.7,891.8 2353.7,944.9 2283.9,944.9"/>
<polygon fill="url(#p2)" points="2353.7,905.8 2381.7,905.8 2381.7,947.7 2353.7,947.7"/>
<polygon fill="url(#p3)" points="2429.2,898.8 2465.5,898.8 2465.5,933.7 2429.2,933.7"/>
<path fill="#ffb6c1" d="M2466.5 872.2H2469.5V868H2472.5V865H2479.5V860.9H2484.4V865H2489V866.6H2488.2V871.1H2488.2V875.6H2489.3V880.1H2489.5V884.5H2489.3V889.1H2484.5V889.3H2479.8V888.5H2475V889.2H2470.3V889.8H2465.9V889H2464.4V884.8H2466.3V880.6H2466.5V876.4Z"/>
<path fill="#ffb6c1" d="M2513 862.4H2517.2V861.5H2521.4V863.9H2520.5V868H2521.8V872.2H2521.8V876.4H2521.1V880.6H2521.6V884.8H2521.4V889.4H2517.2V888.5H2513.4V889H2513V884.6H2512.4V880.2H2512.8V875.7H2513.1V871.3H2512.9V866.9Z"/>
<path fill="#ffb6c1" d="M2458.5 888.8H2462.7V888.5H2466.8V889.8H2470.9V890.3H2475.1V887.8H2479.2V891.2H2483.3V889.5H2487.4V886.8H2491.6V887.2H2495.7V890.1H2499.8V887.1H2504V888.1H2508.1V888.4H2512.2V890.3H2516.3V887.9H2520.5V889.4H2524.6V888.1H2528.7V889.7H2532.9V889.4H2537V889.5H2541.1V888.4H2545.2V890.6H2548.8V889H2548.4V893.4H2549.2V897.8H2548.2V902.2H2549.9V906.6H2549.8V911H2549.2V915.4H2549.4V919.5H2545.4V920H2541.4V916.5H2537.4V916.5H2533.4V916H2529.4V915H2525.4V913.9H2521.4V912.8H2517.4V912.6H2513.4V911.5H2509.4V910.8H2505.5V909.3H2501.5V906.1H2497.5V905H2493.5V903.8H2489.5V904.1H2485.5V902.9H2481.5V902.1H2477.5V900.5H2473.5V897.5H2469.5V898.4H2465.5V896.6H2462V892.2Z"/>
<path fill="#00ffff" d="M2263.4 802.4H2267.1V807.4H2272.7V806.7H2278.3V806.7H2282.2V808.9H2286.1V809.9H2290V810.9H2293.9V811.9H2297.8V814.7H2303.4V812.4H2308.5V812.1H2311.8V815.4H2314.2V818.7H2316.3V821.9H2316.2V826.1H2317.8V830.3H2314.8V834H2313.5V837.8H2311.8V842.5H2307.6V845.2H2303.4V848.7H2298.8V847.5H2294.1V844.8H2289.4V846.3H2286.1V844.6H2282.7V842H2279.4V839.7H2276V834.2H2273.7V833.1H2271.7V829.6H2268.6V826.1H2267.6V822.6H2264.5V819.1H2263.2V814.9H2263.6V810.7H2262.1V806.6Z"/>
<polygon fill="url(#c3)" points="2332.8,858.3 2339.8,852.7 2348.1,849.9 2378.9,863.9 2378.9,912.8 2332.8,912.8"/>
<polygon fill="url(#c2)" points="2311.8,905.8 2381.7,905.8 2381.7,933.7 2262.9,933.7 2262.9,914.2"/>
<path fill="#00ffff" d="M2487.9 858.1H2492.1V859.2H2496.3V857.4H2500.5V857.9H2504.7V857.4H2508.8V857.8H2512.7V858.3H2513V862.7H2513.3V867H2513.3V871.4H2513.1V875.8H2512.9V880.2H2512.7V884.6H2513V889.7H2508.8V888.2H2504.7V888.7H2500.5V890.2H2496.3V887.4H2492.1V888.5H2487.7V889H2488.6V884.6H2487.2V880.2H2487V875.8H2488.1V871.4H2488.8V867H2487.1V862.7Z"/>
<path fill="#00ffff" d="M2458.5 891.3H2463.2V889.8H2467.9V891.8H2472.5V892.2H2476V893.3H2479.5V898.6H2483V899.7H2486.5V900.7H2490V902.3H2493.7V905.8H2495.7V909.5H2496.4V913.2H2498V916.9H2500.7V920.6H2502.3V924.3H2503.2V928H2505.6V931.7H2507.3V935.4H2506.5V939.2H2510.2V942.9H2510.7V946.6H2513.1V950.3H2514.4V956.3H2510.2V953.9H2506.1V957.2H2501.9V954H2497.7V955.6H2493.5V952H2489.3V952.3H2485.1V953.2H2480.9V953.8H2476.1V954H2477.1V950H2475.7V946H2475.3V941.9H2474.3V937.9H2473.5V933.9H2472.5V929.9H2471.8V925.9H2472.7V921.8H2470.5V917.8H2470.2V913.8H2469.6V909.8H2470V905.8H2466.6V901.9H2463.8V898.1H2461.5V894.2Z"/>
<polygon fill="url(#c3)" points="2493.5,889 2552.2,889 2552.2,954 2514.4,954"/>
<path fill="#00ffff" d="M2518.6 896.9H2521.7V898.1H2524.8V893.8H2527.9V891.7H2530.9V887.5H2534V885.9H2537.1V882.2H2540.2V882.2H2543.2V877.1H2546.3V874.9H2549.7V872.2H2549.1V876.4H2549.7V880.6H2549.6V884.8H2549.5V889H2549.4V893.2H2548.8V897.4H2549.3V901.6H2550.6V905.8H2550.2V910H2550.7V914.2H2551.2V918.4H2550.8V922.5H2550.9V926.7H2552.3V930.9H2552.3V935.1H2551.9V939.3H2551.7V943.5H2552.2V947.3H2547.8V947H2543.4V950.9H2539V951.5H2534.6V951.5H2530.2V952.3H2525.8V953.9H2520.1V954H2519.5V949.7H2521V945.5H2519.7V941.3H2519.8V937H2519.7V932.8H2520.4V928.5H2520.7V924.3H2519.3V920H2518.1V915.8H2519.5V911.5H2519.1V907.3H2517.7V903Z"/>
<polygon fill="url(#p2)" points="2487.9,889 2552.2,889 2552.2,933.7 2493.5,933.7"/>
<path fill="#00ffff" d="M266 629.6V558.7H268V553.3H270V551.6H274V548.7H276V541H278V542.7H282V537.1H284V538.3H288V537.1H290V533.2H294V530.3H296V522.9H300V530.9H302V528.9H306V525.6H308V522.1H312V528.7H314V524.7H316V519.1H318V515.1H322V522.8H326V521.3H328V510.9H330V513.3H334V514.4H336V512.6H340V541.2H344V557.5H348V555.5H350V555.4H352V567.1H356V575.3H358V584.5H356V584.9H352V582.6H350V589.7H348V591.1H344V595.8H340V598.7H336V602.7H334V602.5H330V603.6H328V606.5H326V609.3H322V610.5H318V608H316V608.9H314V610.8H312V612.9H308V613H306V612.1H302V612.7H300V618.1H296V622.5H294V620.3H290V618.8H288V618H284V624.9H282V625H278V624.8H276V629.3H274V629.2H270V629.5H268V629.6H266Z"/>
<path fill="#00ffff" d="M517 453.1H519.5V451.7H522V449.3H524.5V448H526.8V445H528.3V448.3H530.5V451.7H533V456.1H536V459H539V458.1H542V459.5H546.1V462H546.7V465H546.3V468H549V471H548.6V474H550.7V477H554.6V480H554.8V483.2H553.1V486.4H551.6V489.6H554.5V492.8H552.5V496H553.3V499.2H553.9V502.4H553.8V505.6H554.4V508.8H554V512.8H551V513.1H548V516.1H544.6V516H542.7V512.8H543.1V509.6H542.3V506.4H540.2V503.2H538.7V500H538.9V502.7H536.4V505.3H535.7V508H536.1V510.7H531.3V513.3H532.7V516H530.3V512.8H527.6V509.6H526.3V506.4H524.5V503.2H524.9V500H522.4V497H523.4V494H523.4V491H522.6V488H521.6V485H521.1V482H524.6V479H524.4V476H521.9V473H524.4V470H523.5V467H522.2V464H519.6V461H518.4V458H516.6V455Z"/>
<path fill="#00ffff" d="M525 524.7H528.3V528.5H531.7V527.3H535V526.3H538.3V528.1H541.7V530H545V526.7H547.4V531.7H549.8V535.4H552.2V531.2H554.6V540.8H557V538.5H553.6V541.5H550.2V541.2H546.8V543H543.4V541H540V543.3H537V543.4H534V542.5H531V540.8H527.7V541H527.8V537.8H527.4V534.6H526.1V531.4H525.6V528.2Z"/>
<polygon fill="#00ffff" points="359,514 361,514 362,534 360,534"/>
<polygon fill="#00ffff" points="436,520 440,530 446,560 444,560 438,540 435,530"/>
<polygon fill="#00ffff" points="394,542 400,540 399,553 395,553"/>
<polygon fill="#00ffff" points="668,486 671,486 672,506 669,506"/>
<polygon fill="#00ffff" points="774,546 784,544 785,560 782,560 780,552 775,552"/>
<path fill="#00ffff" d="M696 523.8V493.1H698V487.3H700V477.8H702V482.4H704V479.1H708V474.7H710V472.7H714V469.8H718V454.6H722V448.9H724V452.7H726V452.7H728V448.8H730V444.3H732V444.9H736V452H738V451.9H740V452.6H744V453.4H746V451.9H748V454.7H750V450.4H752V448.4H754V445.8H756V440H758V440.7H760V445.5H764V442.6H766V442.2H770V442.3H774V437.1H776V449.8H780V448.3H784V439.6H786V441.7H790V444.6H792V444.2H796V443H800V445.6H802V451H804V458.2H806V454.7H808V455.4H812V458.4H814V458.5H816V454.5H820V456.7H824V458.3H828V459.5H830V457.1H832V458.4H836V463.8H838V470.3H842V471.3H844V472.6H848V481.6H850V480.2H854V474.6H856V471.7H858V464.2H860V466H862V458.9H866V462.8H868V458.3H870V459.7H872V462.4H874V456.3H876V463.7H878V459H880V460.3H884V463H886V464.8H888V461.3H890V462H894V459.5H898V455.6H900V454.5H902V454.5H904V448.3H906V445.9H910V451.5H912V445.9H914V444.5H916V451.5H918V459.5H922V465.8H924V460.4H926V465.3H928V465.3H930V478.2H934V480.8H938V489.7H940V521.2H938V527.9H934V528.9H930V518.5H928V534H926V529.2H924V523.7H922V527.5H918V530.6H916V533.5H914V533.5H912V531.1H910V534.6H906V534.2H904V534H902V536.4H900V529.4H898V532.1H894V533.7H890V534.5H888V538.2H886V530.4H884V526.6H880V524.5H878V527.5H876V533.9H874V528H872V534.5H870V533.4H868V533.4H866V538H862V538.4H860V532.6H858V526H856V536.2H854V534.7H850V526.7H848V523.6H844V517.4H842V522H838V513.6H836V522.1H832V522.5H830V521.3H828V517.3H824V521.3H820V516.7H816V520.1H814V524.6H812V527.5H808V522.4H806V520.7H804V521.2H802V521.4H800V517.2H796V519.4H792V520.5H790V525.4H786V532.9H784V533.1H780V539.2H776V540.8H774V541.1H770V540.6H766V541.2H764V534.3H760V534.7H758V543.2H756V546.2H754V555.8H752V566.3H750V559H748V548.2H746V545.3H744V553.1H740V545.1H738V541H736V543.9H732V557.4H730V562.1H728V565.3H726V568H724V559.3H722V551.5H718V542.8H714V531.8H710V529.6H708V529H704V531.8H702V524.3H700V527H698V523.8H696Z"/>
<polygon fill="url(#w2)" points="696,440 722,440 722,570 696,570"/>
<polygon fill="url(#w1)" points="722,440 760,440 760,570 722,570"/>
<polygon fill="url(#w1)" points="760,440 940,440 940,540 760,540"/>
<path fill="#ffffff" d="M862 505.3H865.2V504.6H868.5V501.1H871.8V499H874.3V500H875.8V503.3H875.9V506.7H880V511.3H877.5V512.6H875V512.6H872.5V515.9H870V518.8H866V516.4H861.7V515H860.7V511.7H859.3V508.3Z"/>
<path fill="#ffffff" d="M878 479.1H881V477.1H884V474.5H887V472.4H892.2V472H890.8V476H893V479.9H890.2V479.3H887.5V483.7H884.8V483.2H881.1V486H879.3V482Z"/>
<polygon fill="#00ffff" points="852,540 856,540 857,560 862,555 861,562 855,562"/>
<polygon fill="url(#c3)" points="946,450 958,448 962,470 963,500 958,517 948,510 950,480"/>
<path fill="#00ffff" d="M975 454.3H978.3V454.1H981.7V453.4H985.9V453H986V456.2H984.9V459.4H985.6V462.6H984.3V465.8H985.7V469H982.4V472.2H984.4V475.4H984.2V478.6H982V481.8H984V486.5H980V482.9H976.5V486H975.8V482.9H975.6V479.8H974.4V476.7H975.9V473.6H975.8V470.5H975.8V467.4H974.9V464.3H974.5V461.2H974.8V458.1Z"/>
<polygon fill="#00ffff" points="1022,476 1027,474 1026,481 1022,481"/>
<polygon fill="url(#c3)" points="1203,556 1212,556 1222,570 1229,594 1220,594 1212,580 1205,572"/>
<polygon fill="url(#c3)" points="1266,552 1290,550 1290,594 1266,594"/>
<polygon fill="url(#c3)" points="1377,502 1396,502 1396,532 1377,532"/>
<path fill="#00ffff" d="M1290 596V551.3H1292V550.6H1296V547.5H1298V543.3H1300V548.4H1302V543H1304V540.8H1308V550.3H1310V544.5H1312V549.7H1316V543.5H1318V535.1H1320V543.5H1322V546.1H1326V551.8H1328V552.8H1332V551.7H1334V545.9H1338V539.3H1340V542.1H1342V532.5H1346V530H1348V536.1H1352V530.1H1354V532.2H1358V532.1H1362V532.6H1364V538.6H1366V538.7H1370V538.7H1372V537.6H1374V533.6H1376V540.2H1378V532.7H1380V530.7H1382V531.6H1384V531.1H1386V532.9H1390V537.7H1392V544.8H1394V529.1H1396V536.3H1400V533.3H1402V523.3H1404V525.5H1406V526.9H1408V535H1410V539.2H1412V537.7H1414V540.4H1418V543.5H1420V537.9H1424V542.1H1426V542.3H1428V534.3H1430V530.5H1432V534.4H1434V533.6H1438V531.4H1440V540.5H1442V539.3H1446V535.6H1448V537.9H1450V541.7H1452V542H1454V538.2H1458V530.3H1460V522.8H1462V525.8H1464V529.1H1468V526.2H1472V526.1H1474V522.2H1476V527.2H1478V529.5H1482V524.8H1486V519.9H1488V521.1H1490V514H1494V505.9H1498V509.1H1500V508.9H1502V518H1506V520.7H1508V510.9H1510V511.5H1512V510.6H1514V517.2H1518V516.4H1520V515.3H1522V516.4H1524V518.2H1526V524.7H1528V518.6H1530V515.9H1534V528.1H1538V524.3H1540V527.4H1542V523.5H1544V524.5H1546V520.1H1548V532.8H1550V525.6H1554V527.5H1556V529.1H1558V523.6H1562V528.9H1564V530.1H1566V528.9H1568V535.5H1570V544.3H1572V532.6H1576V532.7H1580V531.6H1582V533.8H1586V532.7H1590V531.5H1592V531.3H1596V551.4H1598V556.9H1602V556.9H1604V558.6H1608V558.3H1612V560H1616V556.1H1620V554.3H1622V551.9H1626V552.8H1628V538.3H1632V541.4H1636V539.7H1638V538.4H1640V545.1H1642V539.7H1646V545.7H1650V541.7H1652V535.5H1654V544.6H1656V547.5H1658V550.9H1662V557.6H1664V565.3H1666V583.1H1668V590.3H1672V594.4H1676V586.1H1678V599.1H1680V601.2H1682V602.3H1686V598.2H1688V602.8H1690V598H1692V607.5H1696V616H1698V604.1H1702V595.9H1706V607.2H1710V615.9H1712V617.3H1716V616.9H1718V613.6H1720V611.8H1724V613.3H1726V617.4H1728V623.1H1732V612.3H1734V615.7H1736V627.2H1738V630.5H1740V638.1H1742V641.7H1744V642.9H1746V644.3H1748V642.8H1750V640.5H1754V633.7H1758V572.7H1762V574.3H1764V575H1768V575.8H1770V574.8H1774V588.3H1776V582.5H1778V591.3H1780V585.2H1782V588.9H1784V584.1H1786V585.6H1788V581.3H1790V573H1792V567.4H1796V565.8H1800V555.3H1804V553.6H1806V556.9H1808V557.9H1810V563.4H1812V562.1H1814V558.3H1816V564H1818V570.6H1820V566.1H1822V559.7H1824V555.3H1826V549.7H1828V556.4H1830V552.7H1832V557.3H1834V561.1H1836V569.6H1838V561.9H1840V563H1844V553.6H1846V547.9H1848V556.6H1852V548.6H1854V559.3H1856V553.3H1860V558.7H1862V560.1H1866V561.5H1868V556.1H1872V565.6H1874V563.3H1876V564.7H1878V571H1882V584.9H1884V583H1886V578.7H1888V584H1890V579.1H1894V578.2H1898V580.3H1900V580H1904V578.8H1906V577.4H1910V578.8H1914V589.5H1918V587H1922V587.4H1924V595.7H1928V597.5H1930V598.5H1934V597.1H1936V603H1938V606.7H1942V610.4H1944V587.7H1946V578.9H1948V576.2H1950V574.9H1952V575.9H1954V568.6H1956V571.2H1958V576H1960V569.6H1964V570.8H1966V574.1H1970V568.7H1972V573.3H1974V578.7H1976V576.9H1978V584.4H1980V581.7H1984V579H1988V569.9H1990V578.4H1992V578.4H1996V587.5H1998V595.9H2002V596.2H2006V594.2H2010V591.6H2012V601.8H2016V611.8H2020V606H2022V606.4H2024V603.7H2026V603H2030V611.2H2032V611.8H2034V610.2H2036V614H2038V612.6H2042V617.6H2046V622.3H2048V627.9H2050V627H2054V630.2H2058V619.6H2060V620.3H2064V616.5H2068V614.8H2072V613.8H2076V616.8H2078V615.7H2080V621.5H2082V620.9H2084V616.3H2086V622.1H2088V627H2092V644.2H2094V646.7H2096V650.5H2098V646.7H2102V646.9H2106V652.3H2110V651H2112V650H2114V649.1H2118V651.7H2120V646.8H2122V647.7H2126V645H2128V654.1H2130V655.3H2132V667.2H2134V677.2H2138V697.5H2142V711.1H2146V715.9H2148V717.9H2150V728H2152V729.5H2156V736.5H2158V734.5H2160V738.7H2164V736.5H2166V738.2H2168V734.4H2170V728.1H2172V732.8H2174V732.4H2176V733.4H2180V737.6H2182V736.5H2184V733H2188V732.9H2190V733.4H2194V736H2196V734.9H2198V751.4H2200V747.1H2202V746.5H2206V755.2H2208V765.9H2212V745.7H2214V742.2H2216V725.8H2218V740H2222V752H2224V766.3H2228V770.9H2232V763.6H2236V769.2H2238V766.6H2240V769.4H2242V774.3H2244V771.9H2246V828.2H2244V830.5H2242V828H2240V827.8H2238V833.3H2236V837.6H2232V843.6H2228V843.1H2224V848.8H2222V846.9H2218V843.3H2216V842.2H2214V842.2H2212V844.8H2208V844.9H2206V841.6H2202V837.2H2200V839.6H2198V839.9H2196V843.6H2194V841.7H2190V831.7H2188V832.8H2184V832.7H2182V828.2H2180V826.7H2176V829.5H2174V826.3H2172V822.2H2170V829.3H2168V830.4H2166V827.8H2164V824.9H2160V814.2H2158V814.2H2156V810.2H2152V817.5H2150V816.4H2148V818.9H2146V819.8H2142V808.7H2138V812.7H2134V810.4H2132V807.1H2130V809H2128V807H2126V802.6H2122V798.8H2120V801.1H2118V803.7H2114V801.9H2112V796.6H2110V804.5H2106V802.7H2102V804.4H2098V809.3H2096V799.5H2094V790.5H2092V794.2H2088V797H2086V799.4H2084V799H2082V802.6H2080V797.5H2078V800.1H2076V803.7H2072V805.2H2068V804.6H2064V801.5H2060V802.6H2058V804.1H2054V812.3H2050V808.3H2048V809.2H2046V817.3H2042V812.7H2038V810.1H2036V816.4H2034V818.6H2032V816.2H2030V820.7H2026V815.9H2024V811.9H2022V808.9H2020V817.6H2016V810H2012V804.8H2010V804.7H2006V802.6H2002V800.1H1998V801.2H1996V808H1992V806.4H1990V808.6H1988V808.6H1984V811.2H1980V807.3H1978V812.2H1976V812.7H1974V804.2H1972V806H1970V803.3H1966V804.5H1964V802.3H1960V800H1958V800.5H1956V805.2H1954V811.8H1952V810.4H1950V811.5H1948V812.8H1946V805.2H1944V801.6H1942V803.5H1938V806.1H1936V806.8H1934V808.7H1930V809.6H1928V798.2H1924V794.4H1922V790.2H1918V799.5H1914V800.6H1910V795.4H1906V795.8H1904V800.6H1900V800.8H1898V799.6H1894V795.9H1890V793.6H1888V796H1886V797.8H1884V796.6H1882V795.3H1878V797.4H1876V799.7H1874V801.5H1872V802.7H1868V794.5H1866V801.8H1862V797.5H1860V795.3H1856V798.8H1854V802.6H1852V799.5H1848V798.1H1846V796.3H1844V789.9H1840V789.8H1838V798.8H1836V801.1H1834V799.6H1832V799.7H1830V799.7H1828V802.9H1826V797.4H1824V797.3H1822V796.1H1820V809.9H1818V807.2H1816V807.9H1814V801.2H1812V800.1H1810V804.8H1808V809H1806V803.9H1804V802.2H1800V797.2H1796V792.5H1792V792.9H1790V798.9H1788V795H1786V795.6H1784V793H1782V788.1H1780V793.2H1778V792.4H1776V795.6H1774V802.4H1770V795.9H1768V792.1H1764V794.6H1762V789.9H1758V784.8H1754V781.3H1750V784H1748V786H1746V782.7H1744V779H1742V779.5H1740V783.6H1738V785.2H1736V781.7H1734V780.6H1732V777H1728V774.2H1726V776.6H1724V780.6H1720V781.9H1718V769.7H1716V763.3H1712V764.9H1710V760.2H1706V762.6H1702V751.6H1698V758.5H1696V753.2H1692V752.6H1690V756.9H1688V755.6H1686V751.9H1682V751.1H1680V751.5H1678V751.1H1676V743.4H1672V751.4H1668V747.5H1666V748.3H1664V744.8H1662V736.8H1658V733.8H1656V733.8H1654V733.1H1652V723.6H1650V729.5H1646V725.3H1642V728.7H1640V729.9H1638V728.1H1636V727.1H1632V721.9H1628V719.1H1626V715.6H1622V718.4H1620V713.2H1616V707.9H1612V703.2H1608V699.7H1604V700.2H1602V697.2H1598V693.9H1596V694.2H1592V699.2H1590V689.3H1586V687.9H1582V690.7H1580V683.1H1576V679.9H1572V678.6H1570V682.2H1568V683.2H1566V678.2H1564V674.1H1562V671.7H1558V673.8H1556V669.5H1554V663.8H1550V659.5H1548V656.5H1546V658.7H1544V660.4H1542V656.7H1540V653.3H1538V647.1H1534V645.7H1530V640.2H1528V633.4H1526V636H1524V636.2H1522V624.4H1520V618.8H1518V609.3H1514V597.9H1512V598.3H1510V595.4H1508V600.9H1506V592.3H1502V583.5H1500V589.6H1498V594H1494V601.9H1490V601.5H1488V600.3H1486V606.4H1482V613.7H1478V614.9H1476V609.5H1474V612.9H1472V621.4H1468V621.7H1464V619.9H1462V621.7H1460V623.2H1458V619.5H1454V612.8H1452V610.5H1450V614.1H1448V610.2H1446V602.9H1442V613.2H1440V616.1H1438V615.8H1434V610.6H1432V608.7H1430V615.3H1428V618.5H1426V616.2H1424V612.4H1420V606.7H1418V600.6H1414V599.8H1412V608.5H1410V603.9H1408V605.2H1406V598.7H1404V592.6H1402V596.2H1400V594.5H1396V593.3H1394V591.4H1392V593.1H1390V590.5H1386V588.3H1384V587.8H1382V587.9H1380V589.5H1378V586.8H1376V589H1374V586.3H1372V590H1370V589.7H1366V588.6H1364V581.1H1362V587.4H1358V585.8H1354V582H1352V581.7H1348V583.1H1346V593H1342V590.7H1340V590.3H1338V591.4H1334V592.1H1332V590.1H1328V588.4H1326V589.3H1322V596.4H1320V585.7H1318V591.2H1316V592H1312V591.7H1310V589.7H1308V590H1304V599.2H1302V599H1300V590.7H1298V588.2H1296V591.7H1292V596H1290Z"/>
<polygon fill="url(#w1)" points="2140,700 2250,770 2250,850 2160,850 2135,800"/>
<polygon fill="url(#p3)" points="2197,758 2208,738 2212,760 2212,790 2200,790"/>
<path fill="#ffffff" d="M2178 753.7H2181.3V753.6H2184.7V752.2H2189.7V750H2187.4V753.3H2187.9V756.7H2187.9V760H2188.3V763.3H2191.1V766.7H2190V770.7H2187V769.2H2183V772H2183.4V768.5H2178.7V765H2178.9V761.8H2179.6V758.5H2180V755.2Z"/>
<polygon fill="url(#ps)" points="1660,690 1720,680 2140,670 2140,795 1790,795 1740,775 1700,760"/>
<path fill="#ffffff" d="M1587.6 562.8H1591.1V560.4H1594.6V562.1H1598.1V562.2H1600.9V564.3H1603.8V567.8H1603.7V571.3H1604.6V574.8H1606.7V578.3H1605.9V581.1H1603.9V583.9H1602.4V586.6H1599.6V589.4H1600.1V592.8H1598.7V596.1H1596V599.5H1595.1V602.9H1594.6V607H1590.2V609H1590.2V605.9H1590.1V602.7H1591.3V599.6H1590.1V596.4H1590.5V593.3H1591V590.1H1591.5V587H1591.3V583.9H1589.7V580.1H1588.1V576.4H1584.7V572.7H1586.5V569.5H1587.8V566.4H1587.9V563.2Z"/>
<path fill="#ffffff" d="M1736.3 614.6H1737.1V611.8H1740V609H1739.3V606.2H1742.9V609H1746.9V611.8H1746.8V614.4H1748.9V617H1749.2V619.7H1752.6V622.3H1753.7V624.9H1755.4V627.5H1755.6V630.1H1757.8V632.8H1756.5V636.1H1757.5V639.5H1755.3V642.8H1757.3V646.2H1756.7V650.4H1753.2V648.7H1749.7V650.8H1746.2V648.3H1742.7V650.6H1739.5V646.1H1736.2V644.3H1732.8V643.9H1735.4V640.8H1730.9V637.7H1731.6V634.5H1731.3V631.4H1733V628H1731.9V624.7H1735.7V621.3H1733.3V617.9Z"/>
<polygon fill="url(#c3)" points="1598.8,534.9 1622.5,534.9 1622.5,555.9 1598.8,555.9"/>
<polygon fill="url(#c3)" points="1758.1,560.1 1769.3,560.1 1769.3,604.1 1758.1,604.1"/>
<polygon fill="url(#c3)" points="1802.8,548.9 1815.4,548.9 1815.4,562.9 1802.8,562.9"/>
<polygon fill="url(#w1)" points="1525,550 1570,550 1570,680 1525,680"/>
<path fill="#00ffff" d="M2541 442.3H2543.2V437H2545.5V436.8H2547.8V432.3H2550V430H2553V432.4H2556V431.4H2559V432.3H2562V430.9H2565V434.1H2568V438.5H2571V436.1H2574V437.2H2577V436.3H2580V435.9H2583.4V436.5H2586.8V436.6H2590.2V441.9H2593.6V440.1H2596V442H2595.7V445.1H2598.1V448.2H2600.1V451.3H2596.4V454.4H2596.7V457.6H2594.7V460.7H2599.7V463.8H2593.8V466.9H2596V471.2H2593.2V470.9H2590.5V472.5H2587.8V477H2585V473.3H2581.7V480.1H2578.3V477.1H2575V480.1H2572V479.1H2569V478H2566V477.9H2563V468.1H2560V472.2H2557.6V469.9H2555.2V467.8H2552.8V467.4H2550.4V462.4H2548.2V462H2545.4V458.9H2546.1V455.7H2543.8V452.6H2542.7V449.4H2542.5V446.3H2542V443.1Z"/>
<polygon fill="url(#w1)" points="2541,430 2597,430 2597,480 2541,480"/>
<path fill="#00ffff" d="M2659 433.1H2662.2V436.2H2665.3V433.4H2668.5V433.4H2671.6V438.1H2674.8V433.3H2677.9V435.8H2681.1V436.1H2684.2V432.9H2687.4V435.2H2690.5V437.6H2693.7V433.6H2696.8V432.3H2700V434.4H2703.5V435.4H2708.6V436H2707.4V439.5H2706.2V443H2705.2V446.5H2706V450.5H2703.8V451H2701.6V453.4H2699.4V459.4H2697.2V460H2695V460H2691.9V463.3H2688.8V462.5H2685.6V458.4H2682.5V462.6H2679.4V457.2H2676.2V460.1H2673.1V459H2669.3V458H2667.5V455.2H2669.5V452.5H2665.9V449.8H2663.7V447H2662.1V444.2H2661V441.5H2660.3V438.8Z"/>
<polygon fill="#00ffff" points="2697,480 2706,480 2712,490 2704,490 2702,484"/>
<polygon fill="url(#p3)" points="2480,862.6 2549.9,869.6 2549.9,948.8 2480,954.6"/>
<polygon fill="url(#c3)" points="2480,865 2510.3,860.3 2549.9,883.6 2549.9,946.5 2480,954.6"/>
<path fill="#00ffff" d="M2489.3 863.5H2493.5V860.9H2497.7V862.6H2501.9V862.5H2506.1V861.3H2509.2V862.6H2509.3V867H2510.4V871.3H2510.3V875.6H2511.1V879.9H2508.8V884.3H2509.4V888.6H2509.5V892.9H2508.8V897H2507.5V901.2H2508.3V905.3H2505.8V909.4H2505.1V913.5H2502.8V917.6H2502.3V921.7H2502V925.8H2499.7V930H2499.1V934.1H2497.6V938.2H2496.9V942.3H2496.2V946.4H2494.5V950.5H2494V954.9H2489.3V953.7H2484.7V955.3H2479.8V954.6H2479.2V950.5H2479.3V946.4H2480.5V942.3H2479.4V938.2H2479.4V934.1H2480.1V930H2478.7V925.8H2479.4V921.7H2480.9V917.6H2479.9V913.5H2479.9V909.4H2479.4V905.3H2480.4V901.2H2479.5V897H2480.7V892.9H2482.7V888.6H2482.3V884.3H2483.9V879.9H2485.5V875.6H2486.6V871.3H2487.2V867Z"/>
<path fill="#00ffff" d="M2519.6 893H2523.9V893.8H2528.2V892.3H2532.6V893.4H2536.9V892.3H2541.2V893.3H2545.6V891.1H2549.7V892.9H2549V897.2H2551.1V901.4H2552.1V905.6H2550.3V909.9H2549.4V914.1H2550.1V918.3H2549.2V922.6H2550.5V926.8H2551.2V931H2549.9V935.3H2549.9V938.3H2545.8V939.2H2541.7V939.8H2537.6V940.7H2532.5V944.2H2530.9V940.9H2529.6V937.6H2524.6V934.4H2522.6V931.1H2520V927.9H2520.6V923.5H2518.9V919.1H2520.2V914.8H2519.7V910.4H2519.2V906H2520.3V901.7H2519.5V897.3Z"/>
<polygon fill="url(#p2)" points="2480,883.6 2549.9,883.6 2549.9,939.5 2480,939.5"/>
<path fill="#d3d3d3" d="M2547.5 954.6V888.9H2549.5V890H2551.5V887.9H2553.5V887.5H2557.5V890.8H2559.5V888.6H2563.5V888.5H2565.5V889.5H2567.5V887.1H2571.5V888.2H2573.5V888.1H2575.5V888.1H2577.5V886.8H2579.5V887.4H2583.5V888.6H2587.5V888H2589.5V887.4H2591.5V887.2H2595.5V888H2599.5V888.3H2603.5V887H2605.5V887.6H2607.5V888.1H2609.5V890.6H2613.5V888.2H2615.5V888.8H2619.5V888.5H2621.5V888H2625.5V888H2627.5V886.6H2629.5V887.1H2633.5V886.8H2637.5V886.5H2639.5V888.3H2641.5V888.9H2643.5V885.9H2645.5V887.2H2647.5V886.8H2651.5V887.3H2653.5V887.9H2655.5V887.4H2659.5V885.7H2663.5V886.2H2665.5V886.6H2669.5V884.9H2673.5V886.4H2675.5V886.3H2677.5V888.2H2679.5V888.1H2683.5V888.2H2685.5V889.7H2687.5V890H2689.5V888.8H2693.5V888H2695.5V887.5H2697.5V887.2H2701.5V888.3H2703.5V888.1H2707.5V886.7H2711.5V888.8H2713.5V888.6H2715.5V887H2719.5V887.3H2721.5V887H2722.2V954.6H2547.5Z"/>
<polygon fill="url(#g2)" points="2547.5,853.3 2591.8,841.7 2703.6,846.3 2712.9,887.1 2547.5,887.1"/>
<polygon fill="url(#g3)" points="2547.5,869.6 2619.8,865 2701.3,869.6 2703.6,887.1 2547.5,887.1"/>
<path fill="#ffb6c1" d="M2596.5 843.8H2600V844.1H2603.4V840.9H2606.9V844.3H2610.4V837.8H2614.6V835.4H2618.7V835.5H2622.9V840.3H2627V839.5H2631.1V837.6H2635.3V842.1H2639.4V842.2H2643.6V843.6H2647.7V841.2H2651.4V842.1H2655.2V848.1H2658.9V849.7H2662.6V852.3H2666.6V853.3H2663.5V857.2H2660.9V861.1H2661.7V868.2H2657.7V862.6H2653.7V864H2649.7V866.2H2645.7V864.9H2641.7V861.8H2637.7V863H2633.7V865H2629.7V861.2H2625.7V858.4H2621.7V860.7H2617.8V857.2H2613.8V864.1H2609.8V859.9H2604.8V860.3H2600.6V856.8H2601.9V853.3H2598.6V849.8Z"/>
<path fill="#00ffff" d="M2605.8 858.7H2610.4V857.5H2615.1V855.7H2619.8V856.1H2623.7V856.8H2627.7V856.7H2631.6V856.1H2635.6V858.1H2639.6V859.8H2643.5V859H2647.5V859.7H2651.4V862.7H2655.4V861.9H2659.4V862.6H2658.9V866.8H2659.5V871H2659V875.2H2659.1V879.4H2659.3V882.8H2655.3V885.5H2651.2V884.3H2647.1V883.1H2643V885.7H2639V886.2H2634.9V887.7H2630.8V884.1H2626.7V882.3H2622.7V883H2618.6V885.3H2614.5V880.9H2609.3V883.6H2611.3V879.3H2609.3V875.1H2609.6V870.8H2605.3V866.5H2606.2V862.3Z"/>
<polygon fill="url(#g1)" points="2547.5,830 2703.6,830 2703.6,846.3 2547.5,853.3"/>
<path fill="#ffb6c1" d="M2703.6 877.4H2708.3V874.3H2712.9V873.5H2717.6V870.3H2722.2V869.5H2726.4V868.4H2730.5V868.2H2734.6V868.6H2738.7V872H2742.8V869.9H2747V870.8H2751.1V871.3H2755.2V870.9H2759.3V868.3H2763.4V870.1H2767.6V869H2771.7V869.3H2775.8V870.3H2779.9V869.5H2784.1V870.3H2788.2V871.4H2792.3V869.9H2796.4V869.1H2800.5V869.4H2804.7V867.9H2808.8V871.8H2812.9V869.1H2817V868.8H2821.1V871.1H2825.3V871.5H2830.8V870.8H2829.9V875.1H2829.1V879.3H2829.4V883.3H2825.3V881.9H2821.3V884H2817.2V881.7H2813.2V883.8H2809.1V884.9H2805V883.4H2801V882.1H2796.9V881.7H2792.9V884.3H2788.8V882.3H2784.8V881.4H2780.7V883H2776.6V882.3H2772.6V881.6H2768.5V882.7H2764.5V883.2H2760.4V882.3H2756.3V882.6H2752.3V883.1H2748.2V882.2H2744.2V881.5H2740.1V882.6H2736.1V883.2H2732V884.9H2727.9V884.8H2723.9V884.5H2719.8V884.4H2715.8V885.4H2711.7V884.2H2707.7V884.8H2701.9V883.6Z"/>
<path fill="#00ffff" d="M2722.2 954.6V880.9H2724.2V876.5H2726.2V871.6H2728.2V866.5H2732.2V864.4H2734.2V860.3H2736.2V854.9H2738.2V848.2H2740.2V843.1H2742.2V844.2H2746.2V844.4H2748.2V847.2H2750.2V846.6H2752.2V849.7H2756.2V847.5H2758.2V845.6H2760.2V844.1H2762.2V843H2764.2V840.9H2768.2V841.4H2770.2V838.4H2774.2V841.4H2776.2V839.3H2778.2V844H2780.2V840.6H2782.2V846.6H2784.2V843.3H2786.2V844.1H2790.2V848.9H2792.2V847.7H2794.2V847.6H2796.2V842.2H2798.2V848.2H2800.2V849.9H2802.2V850.4H2804.2V843.4H2806.2V839.1H2808.2V847.4H2810.2V851.1H2812.2V847.5H2814.2V844.3H2818.2V848.5H2820.2V842.2H2822.2V842.7H2824.2V844.1H2826.2V841.6H2828.2V845H2830.2V843.6H2832.2V844.5H2834.2V842.2H2836.2V844.7H2838.2V844H2842.2V846.6H2846.2V846.6H2848.2V846.2H2850.2V847.7H2852.2V844.3H2854.2V843.3H2856.2V845.9H2858.2V844.3H2862.2V851.1H2866.2V850.9H2868.2V851.5H2870.2V846.9H2872.2V844.1H2876.2V844.2H2878.2V844.8H2880.2V849.9H2884.2V846.9H2888.2V845.7H2890.2V851.9H2892.2V848.7H2896.2V842.6H2898.2V846.4H2902.2V845.2H2906.2V847.5H2908.2V845.1H2912.2V844.1H2914.2V848.9H2916.2V843.4H2918.2V843.9H2920.2V842.2H2922.2V841.9H2924.2V843.2H2926.2V839.7H2930.2V843H2934.2V839.7H2936.2V836.8H2938.2V841.6H2940.2V841.3H2942.2V841.3H2946.2V841.3H2948.2V842.9H2950.2V846.4H2952.2V846.4H2954.2V852.1H2956.2V848.8H2958.2V839.7H2962.2V838.6H2966.2V839H2968.2V844.2H2972.2V843.9H2976.2V840.7H2978.2V836.9H2982.2V839.2H2984.2V849H2988.2V848.5H2990.2V835.3H2994.2V845.3H2996.2V842.1H2998.2V837.7H3000.2V840.7H3002.2V844.5H3004.2V841.7H3008.2V844.1H3010.2V841.3H3012.2V841H3014.2V841.3H3018.2V843.1H3022.2V842.9H3024.2V843.8H3026.2V839H3030.2V836.6H3032.2V836.2H3034.2V839.5H3038.2V843.2H3042.2V836.4H3046.2V836.7H3048.2V837.5H3050.2V843.4H3052.2V838.9H3054.2V840.5H3056.2V844.1H3058.2V842.7H3062.2V837.8H3066.2V837.1H3068.2V838H3070.2V842.2H3072.2V838.1H3074.2V839.4H3076.2V848.1H3078.2V843.2H3080V954.6H2722.2Z"/>
<path fill="#ffffff" d="M2760.7 859.5H2765.9V858.4H2770.9V858H2771V862.2H2772.8V866.4H2771.5V870.6H2770.7V874.8H2771.2V879.5H2767.1V877.6H2761.6V878.9H2761.9V874.8H2763.7V870.6H2760.9V866.4H2762.8V862.2Z"/>
<path fill="#ffffff" d="M2824.7 849.1H2829.4V848.5H2833.8V848.7H2832.5V853.3H2831.2V858H2829.4V862.6H2827.6V858H2826V853.3Z"/>
<path fill="#ffffff" d="M2929.5 845.3H2934.2V845.7H2938.9V846.1H2944.4V846.3H2942.6V851H2939.3V855.7H2938V860.3H2936.3V865H2934.9V860.3H2932.8V855.7H2931.1V851Z"/>
<path fill="#ffb6c1" d="M2722.2 875.5H2726.4V876.3H2730.5V876H2734.6V873.5H2738.7V875.5H2742.8V875.3H2747V875.4H2751.1V876.3H2755.2V876.9H2759.3V874.3H2763.4V872.3H2767.6V873.8H2771.7V875.6H2775.8V875H2779.9V872.9H2784.1V872.5H2788.2V872.1H2792.3V873.9H2796.4V873.9H2800.5V872H2804.7V874.7H2808.8V872.4H2812.9V872.5H2817V870.5H2821.1V870.6H2825.3V867.2H2828.4V870.8H2830.1V875.1H2828.4V879.3H2829.4V883.1H2825.3V881H2821.1V883H2817V886.4H2812.9V882.1H2808.8V885.5H2804.7V885.6H2800.5V884.2H2796.4V884.1H2792.3V884H2788.2V884.1H2784.1V883H2779.9V883.8H2775.8V880.9H2771.7V884.7H2767.6V883.1H2763.4V883.9H2759.3V883.7H2755.2V881.9H2751.1V884.1H2747V884.8H2742.8V883.5H2738.7V885.4H2734.6V884.4H2730.5V883.2H2726.4V882.6H2722.5V883.6Z"/>
<polygon fill="url(#ps)" points="2829.4,846.3 3080,841.7 3080,883.6 2829.4,883.6"/>
<path fill="#ffb6c1" d="M2736.2 885.9H2740.3V887.8H2744.3V889.5H2748.4V885.3H2752.4V886.1H2756.5V889.6H2760.5V889.7H2764.6V886.4H2768.6V891H2772.7V887.7H2776.7V886.9H2780.8V889.6H2784.8V888H2788.9V888.7H2792.9V885.4H2797V888.3H2801V887.4H2805.1V884.4H2809.1V888.5H2813.2V884.6H2817.2V885.8H2821.3V885.9H2825.3V887.5H2828.2V887.1H2829.6V891.2H2829.4V893.9H2825.3V898.1H2821.3V894.5H2817.2V896.1H2813.2V897.6H2809.1V893.4H2805.1V894.7H2801V895.9H2797V893.3H2792.9V893.8H2788.9V892.7H2784.8V895.6H2780.8V895.7H2776.7V895H2772.7V896.5H2768.6V895.5H2764.6V895.6H2760.5V892.5H2756.5V895.6H2752.4V895.5H2748.4V893.7H2744.3V896.5H2740.3V893.9H2736V895.3H2736.1V891.2Z"/>
<polygon fill="url(#p2)" points="2829.4,888.3 2969.1,888.3 2969.1,906.9 2829.4,906.9"/>
<path fill="#ffb6c1" d="M2969.1 896.7H2973.2V897.6H2977.3V900.5H2981.5V897H2985.6V897.2H2989.7V894.5H2993.8V899.4H2997.9V897.4H3002V898H3006.1V897.7H3010.2V895.7H3014.3V896.7H3018.4V895.1H3022.5V896H3026.6V897.5H3030.7V896.5H3034.8V893.7H3038.9V895.9H3043V895.9H3047.2V894.8H3051.3V897.8H3055.4V894.5H3059.5V895.3H3063.6V894.6H3067.7V897.7H3071.8V893.2H3075.9V893.7H3080.9V895.3H3081.7V901.1H3080V905.4H3075.9V905.9H3071.8V905.3H3067.7V908.8H3063.6V909.3H3059.5V907.1H3055.4V905.7H3051.3V909.1H3047.2V905.6H3043V909.8H3038.9V907.1H3034.8V906H3030.7V907.9H3026.6V909.4H3022.5V908.5H3018.4V908.2H3014.3V909H3010.2V910.4H3006.1V909.9H3002V909.6H2997.9V909.4H2993.8V907.8H2989.7V907.9H2985.6V908.2H2981.5V908.2H2977.3V908.3H2973.2V907.2H2969.4V909.2H2968.3V903.4Z"/>
<path fill="#d3d3d3" d="M2736.2 938.9H2740.9V938.4H2745.5V938.6H2750.2V939H2754.8V939.7H2759.2V939.5H2759.4V945.3H2759.5V952.4H2754.8V951.9H2750.2V952.2H2745.5V950H2740.9V952.5H2736.1V951.2H2737.3V945.3Z"/>
<path fill="#00ffff" d="M3040 954.6V833H3042V835.3H3044V841H3046V844.6H3050V841.4H3052V838.8H3056V840H3058V833.7H3060V836.4H3062V835.9H3064V837.2H3068V836.7H3070V845.4H3074V834.9H3076V836.1H3080V845.6H3082V842.9H3084V837.3H3086V832.4H3090V833.8H3094V833.7H3096V833H3098V837.2H3100V835.9H3104V834.7H3106V836.3H3108V834.7H3112V833.4H3114V835.3H3116V843.3H3118V831.3H3122V838.7H3126V826.7H3128V832.3H3130V833.1H3132V828.1H3136V833.7H3138V825.3H3140V831.5H3142V839.5H3144V834.5H3148V832.3H3150V828.7H3154V821.6H3158V825.1H3160V821.7H3162V824.2H3166V816.3H3168V821.6H3170V816.3H3172V815.6H3174V815.6H3176V813.7H3180V811.5H3182V808.3H3184V811.1H3186V805H3188V807.7H3190V816.8H3192V812.7H3196V806.3H3200V808H3202V807.5H3204V805.7H3206V810.5H3210V808.9H3212V805.2H3214V805.9H3216V803.7H3220V808.9H3222V810.6H3226V807.2H3228V807H3232V808H3234V801.7H3236V813.1H3238V812.2H3240V811H3244V817.7H3246V807.8H3248V807.7H3252V811.6H3254V812.8H3256V814.3H3258V817.5H3262V818.8H3264V814H3266V811.2H3270V817.7H3272V812.2H3274V814.1H3276V813H3280V813.8H3282V814H3284V812.3H3286V815.3H3288V813.7H3290V812.5H3292V813.4H3294V815.3H3298V817.1H3300V810.6H3304V810.8H3306V809.2H3310V813.8H3312V814.4H3316V820.7H3318V823.5H3322V818H3324V818.5H3326V823.4H3328V834.9H3330V839.9H3332V830.8H3336V834.2H3340V835.6H3342V834.6H3346V838.8H3350V841.9H3352V837.3H3354V840.8H3356V841.2H3360V845H3361.4V954.6H3040Z"/>
<path fill="#ffffff" d="M3114.5 848.1H3119.2V846.4H3123.9V846.1H3128.5V844H3128.5V848.1H3132.5V852.2H3133.1V856.2H3133.2V859H3137.8V863.2H3142.5V858.3H3147.1V857.6H3151.7V858H3152.1V861.9H3155.5V865.7H3156.5V870.1H3153V872.5H3149.5V876.5H3146V878.2H3142.5V882.2H3138.4V879.4H3134.3V879.9H3130.3V874.2H3128.1V876.6H3124.2V872.8H3123.2V869H3122V865.3H3120V861.5H3119.1V857.7H3116.6V853.9H3117V850.1Z"/>
<path fill="#ffffff" d="M3151.8 837.6H3156.5V838.5H3161.1V836.7H3165.8V836.1H3170.8V837H3171.3V841H3173.6V845H3175.1V849H3175V853H3178.2V857H3180.4V861H3179.8V863.7H3175.1V865.6H3170.4V865.8H3165.8V869.9H3160.5V869.6H3160.4V865.6H3159.2V861.5H3157.8V857.4H3156.3V853.3H3154.8V849.2H3153.5V845.2H3153V841.1Z"/>
<path fill="#ffffff" d="M3179.8 824.5H3184.4V823.1H3187.9V823H3188.8V827.2H3189.8V831.4H3188.8V835.6H3189.1V839.8H3188.4V844H3187.9V848.2H3188.9V852.4H3189.1V856.6H3188.6V860.8H3189.1V865.4H3181.9V865H3182.4V860.8H3180.6V856.6H3181.3V852.4H3181.5V848.2H3180.7V844H3181.3V839.8H3180.4V835.6H3180.3V831.4H3180.4V827.2Z"/>
<path fill="#ffffff" d="M3326.5 862.8H3330.6V860.7H3334.6V860.1H3338.7V861.4H3342.8V860.8H3347.5V860.7H3352.1V862.7H3356.8V863.3H3360.9V865H3360.2V869.6H3360.5V874.3H3363.8V882.4H3359.7V880H3355.6V878.1H3351.5V880.3H3347.5V882.3H3343.4V877.5H3339.3V875H3335.2V881.2H3331.6V878.9H3329V874.9H3329.6V870.8H3327.2V866.7Z"/>
<polygon fill="url(#g2)" points="3126.2,827.7 3203,799.8 3226.3,809.1 3226.3,823 3126.2,837"/>
<polygon fill="url(#p3)" points="3151.8,806.7 3221.7,799.8 3221.7,823 3151.8,827.7"/>
<polygon fill="url(#ps)" points="3109.9,811.4 3261.3,811.4 3261.3,916.2 3109.9,916.2"/>
<path fill="#ffb6c1" d="M3040 891.5H3044.2V893.8H3048.5V895.9H3052.7V893.4H3056.9V894.8H3061.2V894.5H3065.4V893.9H3069.6V896.9H3073.9V895.6H3078.1V896.9H3082.3V895.8H3086.6V898.3H3090.7V900H3094.8V895.7H3098.9V896.7H3103V898.8H3107.1V896.1H3111.2V897.3H3115.4V896.8H3119.5V896H3123.6V893.5H3127.7V893.3H3131.8V892.6H3135.9V892.9H3140V891.9H3144.1V894.6H3148.2V893.8H3152.4V894H3155.2V892.9H3157.4V897H3156.4V901.1H3157.8V905.1H3156.5V908.9H3152.4V909.8H3148.2V909.5H3144.1V911.8H3140V910.4H3135.9V911.6H3131.8V912.1H3127.7V910.1H3123.6V910.9H3119.5V913H3115.4V912.6H3111.2V914.1H3107.1V911.4H3103V913.8H3098.9V913.9H3094.8V914.6H3090.7V914.3H3086.6V914.3H3082.3V912.2H3078.1V911.8H3073.9V911H3069.6V911.7H3065.4V911.3H3061.2V910.8H3056.9V913.6H3052.7V909.5H3048.5V911.5H3044.2V910.2H3040.4V909.2H3038.5V905.1H3041.1V901.1H3040.3V897Z"/>
<path fill="#ffb6c1" d="M3249.6 911.8H3253.7V908.8H3257.7V910.3H3261.7V910.1H3265.8V911H3269.8V910.1H3273.8V910.3H3277.8V908.1H3281.9V911.9H3285.9V908.4H3289.9V908.1H3294V909.7H3298V911H3302V910.7H3306.1V910.1H3310.1V909.4H3314.1V907.5H3318.2V909.4H3322.2V908.6H3326.2V909.8H3330.3V909H3334.3V909.5H3338.3V908.1H3342.3V908.3H3346.4V910.1H3350.4V906.7H3355.4V908.1H3354.4V913.9H3354.4V920.1H3350.4V921H3346.4V918.8H3342.3V919H3338.3V918.9H3334.3V919.7H3330.3V919.8H3326.2V919H3322.2V919.8H3318.2V919.5H3314.1V919.9H3310.1V921H3306.1V920.5H3302V921.8H3298V921.5H3294V919.4H3289.9V918.5H3285.9V920.2H3281.9V919.8H3277.8V921.1H3273.8V921.1H3269.8V923.7H3265.8V922H3261.7V919.9H3257.7V919H3253.7V922H3249V920.9H3248.8V915.6Z"/>
<polygon fill="url(#p2)" points="3319.5,883.6 3377.7,883.6 3377.7,916.2 3319.5,916.2"/>
<path fill="#ffffff" d="M3321.8 883H3326.5V883.1H3331.2V885H3335.8V883.1H3340.5V881.7H3345.1V884.2H3349.7V883.6H3348.3V889.4H3349.8V895.9H3345.1V894.3H3340.5V896.5H3335.8V893.4H3331.2V894.7H3326.5V895.4H3321.2V895.3H3322.2V889.4Z"/>
<path fill="#00ffff" d="M3362.6 957.4V792.1H3364.6V789.1H3368.6V797.2H3370.6V797.8H3374.6V800.7H3376.6V800.9H3378.6V798.6H3380.6V794.9H3382.6V793.5H3386.6V799.8H3390.6V802.7H3392.6V792.6H3394.6V791.8H3396.6V785.6H3398.6V786.5H3400.6V781.5H3404.6V783.9H3406.6V778.9H3408.6V776.9H3410.6V777.3H3412.6V783.3H3414.6V778.2H3418.6V786.7H3420.6V779.4H3424.6V782.3H3426.6V788.7H3430.6V777.3H3434.6V771.5H3436.6V773.4H3438.6V766.4H3440.6V762.4H3442.6V765.8H3444.6V766.8H3446.6V773.4H3448.6V769.6H3450.6V763.2H3452.6V766.2H3454.6V761.3H3456.6V761.8H3458.6V764.4H3462.6V768.7H3464.6V759.6H3466.6V754.6H3470.6V755.8H3472.6V757H3474.6V758.6H3478.6V766.2H3480.6V755.3H3482.6V760.1H3484.6V756.9H3488.6V760.4H3490.6V764H3494.6V760.2H3496.6V759.3H3498.6V762.9H3500.6V762.3H3502.6V761.9H3504.6V760.8H3506.6V764.4H3508.6V764.5H3510.6V761.8H3512.6V762.2H3514.6V762.1H3518.6V761.1H3520.6V760.2H3522.6V763.3H3524.6V762.6H3526.6V764.7H3530.6V767H3534.6V770.6H3538.6V766.1H3542.6V772.1H3544.6V775.2H3548.6V773.8H3552.6V772.9H3556.6V772.3H3558.6V780.5H3560.6V796.1H3564.6V799.2H3566.6V806.1H3570.6V810.7H3572.6V814.5H3574.6V827.5H3578.6V843.3H3580.6V847.5H3582.6V855.4H3584.6V860.5H3586.6V867.1H3586.7V957.4H3362.6Z"/>
<path fill="#ffffff" d="M3558.4 876.8H3562.5V875.9H3566.5V875.4H3570.6V875.2H3574.6V875.2H3578.6V872.2H3582.7V873.5H3586.9V873.6H3586.9V877.7H3586.1V881.7H3587.3V885.8H3587.4V889.8H3587.2V893.8H3587.5V897.9H3584.1V901.9H3587.1V905.9H3586.7V908H3582.7V911.2H3578.6V910.8H3574.6V911H3570.6V907.3H3566.5V913.3H3562.5V910.4H3559V910H3557.7V905.7H3559.3V901.4H3557.9V897.1H3558.2V892.8H3558V888.5H3557.6V884.2H3557.6V879.9Z"/>
<path fill="#00ffff" d="M3564.5 751.6H3567.5V745.1H3570.6V744.8H3574.6V744.9H3578.6V742.7H3582.7V743H3586.7V744.1H3590.7V743H3594.8V740.4H3598.8V742.6H3603.6V740.4H3603.3V744.4H3604.5V748.5H3605V752.5H3606.3V756.5H3606.5V760.6H3606.7V764.9H3605V769.2H3606.2V773.6H3604.2V777.9H3603.6V782.2H3603.5V786.5H3602.9V792.9H3598.8V791.2H3594.8V789.3H3590.7V789.3H3586.7V789H3583.7V788.8H3579.4V785.1H3578V781.4H3574.2V777.7H3572.8V774H3572.3V770.3H3568.8V766.6H3566.4V762.6H3565V758.6H3565.6V754.5Z"/>
<path fill="#00ffff" d="M3592.8 873.8V828.7H3594.8V826.1H3596.8V816.6H3598.8V807.9H3600.8V807.4H3602.8V801.3H3604.8V767.6H3608.8V762.9H3610.8V763.6H3614.8V770.3H3616.8V773.2H3620.8V764.7H3622.8V764.8H3624.8V765.2H3628.8V765.2H3630.8V767.9H3632.8V764.2H3634.8V763.7H3636.8V757.1H3636.8V895.3H3636.8V895.3H3634.8V900.2H3632.8V887.4H3630.8V890.8H3628.8V879H3624.8V890.7H3622.8V898H3620.8V900.8H3616.8V894H3614.8V893.3H3610.8V898.3H3608.8V891.7H3604.8V893.3H3602.8V886.6H3600.8V894.1H3598.8V891.2H3596.8V896.8H3594.8V873.8H3592.8Z"/>
<path fill="#ffffff" d="M3608.9 777.5H3613V776.6H3617.8V776.7H3619.5V780.8H3620.2V784.8H3620.9V788.8H3623.6V792.9H3624.2V796.9H3626.9V801H3627.7V805H3628.3V809H3625.5V813.1H3623.1V817.1H3623V813.1H3620.2V809H3618.4V805H3617.3V801H3615.9V796.9H3614.3V792.9H3613.9V788.8H3611.6V784.8H3610.7V780.8Z"/>
<polygon fill="url(#g2)" points="3592.8,841.3 3600.8,841.3 3600.8,910 3592.8,910"/>
<path fill="#ffb6c1" d="M3380.8 912.7H3384.8V914.2H3388.8V910.7H3392.9V913.3H3396.9V911.9H3401V912H3405V910.3H3409V912.5H3413.1V910.7H3417.1V912.7H3421.1V911.7H3425.2V911.8H3429.2V912.1H3433.3V910.9H3437.3V912.1H3441.3V911.7H3445.4V911H3449.4V912.8H3453.4V911.7H3457.5V910.9H3461.5V911.4H3465.6V911.6H3469.6V911.5H3473.6V913.6H3477.7V911H3481.7V913.3H3485.8V913H3489.8V912.8H3493.8V911.7H3497.9V912H3501.9V910.3H3505.9V911.8H3510V912.2H3514V911.7H3518.1V911.4H3522.1V913.1H3526.1V911.6H3530.2V912.3H3534.2V912.4H3538.2V913.1H3542.3V913.5H3546.3V911.7H3550.4V911.9H3554.4V910.3H3558.7V912H3557.9V917H3558.4V922.8H3554.4V922.1H3550.4V923.4H3546.3V923.1H3542.3V920.2H3538.2V923.6H3534.2V920.4H3530.2V922H3526.1V921.6H3522.1V920.5H3518.1V923H3514V922.2H3510V922.3H3505.9V920.1H3501.9V922H3497.9V922.5H3493.8V923.3H3489.8V921.8H3485.8V922.5H3481.7V923H3477.7V923.2H3473.6V922.3H3469.6V923H3465.6V921.8H3461.5V922.6H3457.5V924.5H3453.4V923.7H3449.4V924.4H3445.4V922H3441.3V922.7H3437.3V924.1H3433.3V923H3429.2V922.2H3425.2V924.3H3421.1V921.9H3417.1V922.7H3413.1V922.8H3409V922.9H3405V924H3401V924.8H3396.9V923.6H3392.9V923.7H3388.8V923H3384.8V922.6H3379.8V923.1H3381.7V917.6Z"/>
<path fill="#ffb6c1" d="M3558.4 908.2H3562.6V909H3566.7V913.6H3570.8V907.1H3574.9V910.2H3579.1V908.3H3583.2V907.1H3587.3V909.3H3591.4V908.8H3595.5V909.4H3599.7V911.5H3603.8V913.9H3607.9V910.3H3612V910.1H3616.2V909H3620.3V909.8H3624.4V910.2H3628.5V912.3H3632.7V910.2H3635.6V910H3638V914.5H3636.5V919.1H3636V923.6H3636.8V930.3H3632.7V928.7H3628.5V930H3624.4V927.6H3620.3V927.5H3616.2V925.3H3612V929.5H3607.9V925H3603.8V926.4H3599.7V927.6H3595.5V930.4H3591.4V927.7H3587.3V928.3H3583.2V926.8H3579.1V926.9H3574.9V929H3570.8V928.3H3566.7V924.8H3562.6V927.6H3558.6V928.2H3559.3V923.6H3557.5V919.1H3558.5V914.5Z"/>
<polygon fill="url(#w2)" points="3558.4,901.9 3636.8,901.9 3636.8,918.1 3558.4,918.1"/>
<path fill="#d3d3d3" d="M3568.5 952.4V938.3H3570.5V938.7H3572.5V938.8H3576.5V937.7H3580.5V940.5H3584.5V941.4H3586.5V938.5H3588.5V939.6H3590.5V937.7H3594.5V938.2H3596.5V937.9H3598.5V936.2H3600.5V934.7H3602.5V935.2H3606.5V939.7H3606.9V952.4H3568.5Z"/>
<path fill="#ffb6c1" d="M3322.2 885.6H3326.2V882.7H3330.3V888.1H3334.3V886.9H3338.4V884.6H3342.4V888.2H3346.4V885.6H3350.5V888.5H3354.5V885.9H3358.6V885.7H3362.6V887.5H3367.4V885.8H3367V890.1H3366.7V894.5H3365.4V898.9H3365.7V903.3H3366.4V907.6H3366.6V911.9H3362.6V911.6H3358.6V911.6H3354.5V911.6H3350.5V911.4H3346.4V910.9H3342.4V914.6H3338.4V914.5H3334.3V914.2H3330.3V915.4H3326.2V913.9H3323V912H3323.2V908H3322.5V903.9H3320.2V899.9H3321.9V895.8H3321.1V891.8Z"/>
<path fill="#ffffff" d="M3326.2 863.7H3330.5V866.3H3334.8V864.2H3339.1V866.4H3343.4V862.3H3347.7V861.5H3352V860.7H3356.3V858.7H3362V859.5H3361.9V864H3362.8V868.6H3364.6V873.1H3364.6V877H3361.1V882H3357.5V881.6H3354V884.1H3350.5V884.8H3346V884.4H3341.6V881.8H3337.2V883.4H3332.7V884.6H3329.1V881.7H3327.1V877.7H3328.2V873.6H3326.7V869.6Z"/>
<path fill="#ffb6c1" d="M3590.7 720.7H3594.8V720H3598.8V719.3H3603.4V718.2H3602.7V722.9H3602.3V727.6H3602.9V730.9H3598.8V731.9H3594.8V732.3H3590.2V732.3H3590.7V728.3H3591V724.2Z"/>
<polygon fill="url(#g2)" points="3586.7,718.2 3606.9,718.2 3606.9,740.4 3586.7,740.4"/>
<polygon fill="url(#g2)" points="3627.1,754.5 3636.8,754.5 3636.8,760.6 3627.1,760.6"/>
<path fill="#ffb6c1" d="M3554.4 818.5H3559.3V819.1H3559.1V823.2H3559.2V827.2H3559.4V831.6H3554.2V831.2H3554.2V827.2H3554.7V823.2Z"/>
<path fill="#00ffff" d="M3054.3 546.7H3055V549.7H3056.2V552.6H3056.4V555.5H3057.3V558.4H3059.7V561.5H3062.1V564.6H3064.5V567.7H3064.3V571.2H3063.7V574.7H3063.8V578.2H3063.3V581.2H3060.2V581.7H3059.5V578.6H3059.3V575.5H3057.8V572.4H3057.6V569.3H3056.7V566.2H3056.6V563H3056V559.8H3055.4V556.5H3054.6V553.3H3054.8V550Z"/>
<path fill="#00ffff" d="M3084.3 591.1H3087.4V587.6H3090.5V588.5H3093.3V588.7H3096V591.8H3098.9V594.9H3100.6V600.2H3103.3V594.7H3106V594H3108.7V595.3H3111.4V592.1H3114.1V589H3116.9V587.1H3119.8V584.5H3122.7V588.7H3125.6V587.6H3128.5V584.6H3131.1V586.2H3133.8V586.6H3136.4V592H3138.6V593.3H3138.2V597.2H3137V601.1H3137.8V601.7H3134.8V604.7H3131.8V605.7H3128.8V608.4H3125.8V609.5H3122.9V611.3H3119.9V606.3H3116.9V612.4H3113.7V614.7H3110.5V610.1H3107.3V610.4H3104.1V610.6H3100.9V612.3H3097.6V610.9H3094.4V612.4H3088.9V612H3089.3V609.2H3089.6V606.4H3087.9V603.6H3086.7V600.8H3086.1V598H3084.7V594.1H3085.8V590.2Z"/>
<path fill="#00ffff" d="M3147.1 584.7H3150.2V583.1H3153.4V578.4H3156.7V577H3157.9V580.3H3157.4V583.5H3158V586.8H3157.7V590.1H3158.7V593.3H3157V596.6H3158.8V599.8H3158.4V603.1H3160.7V606.4H3160V610.8H3155.3V610.7H3152.4V607.9H3150V605H3149.9V602H3149V599H3149.4V596H3148.6V593H3148.5V590H3147.3V587Z"/>
<path fill="#00ffff" d="M3168.2 572.4H3169.3V569.4H3167V566.4H3171.7V563.5H3171.3V560.5H3170V557.5H3173.1V554.6H3172V551.6H3175.4V548.6H3174.1V545.7H3173.1V542.7H3176.3V539.9H3178.8V544.4H3181.4V544.5H3183.9V546.7H3186.5V548.1H3189.1V549.2H3192.2V549H3195.3V548.6H3198.4V550.4H3201.5V554.7H3204.6V553.5H3207.7V554.4H3210.8V552.7H3213.9V554H3216.9V553.7H3218.1V556.3H3219.8V558.9H3221V561.5H3222.6V564.1H3225.6V566.7H3228.8V569.3H3227.8V571.8H3232.2V574.4H3232.9V577H3232.4V580.1H3232.5V583.2H3233.1V586.3H3229.1V589.4H3232.4V592.5H3231V593.3H3227.9V595.2H3224.8V599.5H3221.7V599.3H3218.6V599.5H3215.5V596.8H3212.4V596.4H3209.4V602.3H3206.4V601.4H3203.4V602.7H3200.4V601.7H3197.4V603.8H3194.4V602.8H3191.4V602.8H3188.4V601.5H3185.4V602.6H3182.4V602.9H3179.4V603.3H3176.4V606.9H3173.4V604.2H3170.3V605H3168.2V602.2H3166V599.4H3165.7V596.6H3165.9V593.8H3165.6V591H3166V587.9H3166.7V584.8H3165.9V581.7H3165.6V578.6H3166.5V575.5Z"/>
<polygon fill="url(#w2)" points="3163.4,539.8 3233.3,539.8 3233.3,605 3163.4,605"/>
<path fill="#00ffff" d="M3180.9 511.8H3187.3V511.8H3186.8V514.8H3187.1V517.9H3187.5V520.9H3187.3V523.9H3187.9V526.9H3184.4V526.4H3180.2V526.9H3180.6V523.9H3180.7V520.9H3180.8V517.9H3180.8V514.8Z"/>
<path fill="#00ffff" d="M3242.6 554.3H3245.6V550.1H3248.5V550.5H3251.4V549.7H3254.3V549.1H3256V552.6H3257.5V556.1H3258.6V559.6H3260.5V563H3258.2V566H3256.9V568.9H3257.1V571.8H3254.5V574.7H3254.5V577.6H3255V580.5H3252.9V583.4H3251.5V586.3H3250.9V583.2H3249.2V580.1H3248.6V577H3247.3V573.9H3246.2V570.8H3244.9V567.7H3244.4V564.2H3243V560.7H3243.4V557.2Z"/>
<path fill="#00ffff" d="M3265.9 563.3H3269.7V563H3271.7V566H3272V568.9H3271.5V571.8H3272.7V574.7H3274.6V577.6H3274.8V580.5H3276.3V583.4H3276.4V586.3H3277.3V589.2H3278.2V592.2H3279.8V595.1H3278.6V598H3281.4V600.9H3280.6V603.8H3281.6V606.7H3281.3V609.6H3281.6V612.7H3281V615.8H3279.9V620.3H3277V617.2H3274.1V615.2H3271.2V611.5H3267.1V609.6H3267.5V606.5H3268.2V603.4H3266.7V600.3H3266.6V597.2H3267.6V594.1H3265.8V591H3267V587.9H3266.2V584.8H3267.2V581.7H3266.3V578.6H3266.7V575.5H3266.5V572.4H3267V569.3H3265.9V566.2Z"/>
<path fill="#00ffff" d="M3286.9 585.8H3290V585.6H3293.1V584.6H3296.2V579.8H3299.3V581.5H3302.4V577.9H3305.5V573.8H3308.6V576.7H3311.7V572H3314.3V572.4H3317.4V575.3H3317.1V578.3H3317.1V581.3H3318.1V584.2H3317.2V587.2H3320.9V590.1H3321.2V593.1H3322.1V596.1H3321.7V599H3323.6V602H3324.2V606.7H3321.2V608H3318.2V607H3315.3V606.9H3312.3V611.5H3309.3V611.1H3306.4V611.1H3303.4V614.3H3300.4V615.1H3297.5V616.5H3294.5V617.4H3291.7V618.9H3288.9V615.8H3289.3V612.7H3286.1V609.6H3287.3V606.3H3287V603H3286.8V599.6H3286.7V596.3H3287.3V593H3286.1V589.7Z"/>
<polygon fill="#00ffff" points="3337.7,551.4 3339.1,551.4 3339.1,559.6 3337.7,559.6"/>
<path fill="#00ffff" d="M3352.1 586.8H3355.6V584H3359.8V584H3360.1V587.2H3360.9V590.4H3362.2V593.6H3363.1V596.8H3363.1V600H3364V603.2H3364.7V606.4H3365.1V609.6H3364.5V613.1H3363.5V616.6H3361.7V620.1H3361.1V623.6H3359.1V620.5H3359.9V617.4H3357.5V614.3H3356.7V611.2H3355.2V608.1H3354V605H3353.4V601.9H3352.8V598.8H3353.2V595.7H3352.4V592.5H3352.1V589.4Z"/>
<path fill="#00ffff" d="M3348.6 621.1H3354.5V621.3H3353.8V625.2H3354.1V629H3354.4V630.8H3349.8V632.9H3349.3V629H3348.9V625.2Z"/>
<path fill="#00ffff" d="M3375.4 608.1H3378.9V604.4H3382.4V602.8H3385.9V602.4H3389.4V602.4H3392.3V597.8H3395.2V596.9H3398.1V596H3401V600.9H3403.9V598.9H3406.9V593.4H3409.8V598.6H3412.7V592.7H3415.8V593.6H3418.9V592.6H3422V588.1H3425.1V590.5H3428.2V586.5H3431.3V586.3H3432.3V589.2H3432.9V592.2H3435V595.1H3435.2V598H3434.1V600.9H3434.5V603.8H3432.3V606.7H3431.1V609.6H3431.4V612.5H3429V615.5H3428.9V618.4H3429V621.3H3427.4V624.2H3425.9V627.1H3425.4V630H3424.3V633.8H3421.5V634H3418.6V638.2H3415.8V638.5H3412.9V637.7H3410.1V642.4H3407.2V641.5H3404.4V645.9H3401.5V642.8H3398V646.9H3397.2V650.4H3397.1V653.9H3395.5V657.4H3394V661.5H3391.7V657.9H3389.4V658.2H3387.1V652H3384.6V651.6H3384.8V648.5H3387.4V645.5H3385.2V642.5H3386.9V639.4H3386.3V636.4H3384.6V633.4H3386.4V630.4H3387.3V627.3H3387V624.3H3387.2V621.3H3385.4V618.6H3384.2V615.8H3381.3V613.1H3379.6V610.4H3377.2V607.7Z"/>
<path fill="#00ffff" d="M3412.7 564.1H3415.8V562.8H3418.9V561.8H3421.6V563H3422.1V566.5H3421.8V570H3422.5V573.5H3422V575.5H3417.9V575.6H3413.3V577H3413.9V573.5H3412.4V570H3412.9V566.5Z"/>
<path fill="#00ffff" d="M3427 577H3425.4V574.7H3429.5V572.4H3429.1V570H3432.1V567.7H3433V565.4H3436V562.4H3439.3V557.7H3442.6V564.8H3445.9V567.2H3449.3V563.8H3452.6V561.9H3455.9V563.9H3462.2V563H3458.8V560.4H3463.5V557.7H3465.9V555.1H3468.4V552.4H3468.8V549.7H3471.6V547.1H3472.2V544.4H3471.9V547.5H3474.3V550.6H3474.4V553.7H3473.9V556.8H3474V559.9H3473.9V563H3473.3V566.2H3473.9V569.3H3474.9V572.4H3472.8V575.5H3474V578.6H3475.2V581.7H3474.2V584.6H3472.6V587.5H3469.8V590.4H3468.6V595.9H3465.2V595.6H3461.9V592.1H3458.6V591.2H3455.3V595.9H3451.9V593.7H3448.6V594.3H3445.3V595.5H3442.2V594.3H3439.1V591.6H3436V596.3H3432.9V589.2H3429.8V591.2H3426.6V591H3427.1V587.5H3425.1V584H3423.3V580.5Z"/>
<polygon fill="url(#w2)" points="3422,544.4 3475.6,544.4 3475.6,595.7 3422,595.7"/>
<path fill="#00ffff" d="M3599 475.2H3602.5V475.4H3605.8V474.5H3605.9V477.9H3605.7V481.3H3606V484.7H3606V488.4H3602.5V488.1H3598.9V488H3598.8V484.7H3599.2V481.3H3599.2V477.9Z"/>
<path fill="#00ffff" d="M3603.7 513.7H3606V516.2H3608.3V518.4H3610.7V521.8H3613V523.7H3617.1V525.4H3620.8V525.8H3621.5V529.1H3620.8V532.4H3620.2V535.8H3620.5V539.1H3620.4V542.4H3621.1V545.7H3620V548.6H3615V549.1H3614.5V546H3613.5V542.9H3611.6V539.8H3610V536.6H3610V533.5H3608.3V530.4H3607.8V527.2H3607.5V523.9H3605.8V520.7H3604.6V517.4Z"/>
<path fill="#00ffff" d="M2971.5 548.3H2973.9V549.1H2974.9V552.6H2974.7V556.1H2975.3V559.6H2976.1V565H2979.2V562.6H2982.3V564.2H2985.4V559.6H2988.5V562.6H2991.6V562.4H2994.8V561.9H2997.9V561.2H3001V560.7H3004V560.7H3005.7V563H3006.9V565.4H3009.4V567.7H3012.1V570H3014.2V572.4H3015.1V574.7H3015V578H3016.4V581.3H3016.2V584.7H3016.7V588H3017.5V591.3H3016.7V594.7H3017.8V598H3015.8V600.3H3013.6V602.6H3011.1V605H3009.9V608.7H3007.3V606.7H3004.7V603.2H3002V603H2998.8V600.3H2999.3V597.2H3001.3V594.1H3001.4V591H3002.9V587.9H3004.2V584.8H3004.1V580.6H3001V580.8H2998V579.6H2995V579.5H2992V580H2988.9V579.4H2985.9V579.2H2982.9V580.7H2979.8V577.1H2976.8V579.3H2973.9V577H2972.8V573.9H2972.9V570.8H2974.4V567.7H2973.1V564.6H2972.3V561.5H2973.3V558.4H2972.7V555.3H2972.1V552.2Z"/>
<path fill="#00ffff" d="M3026.2 589.3H3030V588.7H3030.4V591.7H3030.7V594.7H3031.3V597.7H3032.2V600.6H3032.1V603.6H3032.7V606.6H3033.2V609H3030.4V609.6H3030.5V606.6H3029.7V603.6H3028.6V600.6H3027.5V597.7H3028.2V594.7H3026.5V591.7Z"/>
<path fill="#00ffff" d="M3054.1 545.6H3056.2V549.7H3058.2V553.7H3059.7V556.8H3061.9V559.9H3065.3V563H3065.1V566.2H3063.3V569.3H3062.8V572.4H3062.4V575.5H3063V578.6H3061.8V581.7H3059.3V577H3058.3V573.9H3057.4V570.8H3057.4V567.7H3057V564.6H3056.1V561.5H3055.7V558.4H3055.6V555.2H3055.6V552H3055.1V548.8Z"/>
<polygon fill="#00ffff" points="2980.8,502.5 2981.9,502.5 2981.9,514.1 2980.8,514.1"/>
<path fill="#00ffff" d="M2400.3 435.8H2403.6V437.3H2403V440.4H2403.2V443.5H2403.6V446.6H2403.6V449.7H2403.5V452.8H2403.3V455.8H2400.2V455.9H2400.4V452.6H2400.1V449.3H2400.5V446H2400V442.7H2400.3V439.4Z"/>
<path fill="#00ffff" d="M2406.8 443.6H2410.3V445.4H2413.8V443.8H2417.3V444.4H2421.5V445.4H2421.1V448.5H2421.2V451.6H2422.3V454.7H2422.5V457.8H2421.7V460.9H2421.9V464.6H2417.9V464.3H2413.9V462.9H2412.3V459.8H2409.9V456.7H2409.1V453.6H2407.5V450.5H2406.4V447.4Z"/>
<path fill="#00ffff" d="M2383.5 473.6H2387.7V473.4H2388.3V476.9H2388.2V481.4H2383.5V480.4H2383.9V476.9Z"/>
<path fill="#00ffff" d="M2399.8 478.4H2403.4V479.2H2403.5V482.7H2403.6V486.2H2403.3V490.4H2400.9V489.7H2400.2V486.2H2400.1V482.7Z"/>
<polygon fill="url(#c3)" points="2406.8,474.5 2419.6,474.5 2419.6,483.9 2406.8,483.9"/>
<path fill="#00ffff" d="M2410.3 515.3H2414.2V514.5H2418.1V515.7H2421.7V515.3H2421.9V520.2H2418.1V520.3H2414.2V519.6H2410.1V520Z"/>
<path fill="#00ffff" d="M2410.3 544.1H2416.3V544.4H2415.5V548.5H2416.1V552.8H2410.2V552.6H2410.6V548.5Z"/>
<path fill="#00ffff" d="M2441.7 557.5H2445V558.4H2446.1V561.9H2446V565.4H2447.6V568.3H2444V567.7H2443.3V564.6H2442.8V561.5Z"/>
<path fill="#00ffff" d="M2084.2 487.4H2088.8V486.2H2091.2V491.6H2087.7V491.7H2084.2V491.3Z"/>
<path fill="#00ffff" d="M2171.5 485H2174.4V482.1H2177.4V479.4H2181.3V478H2181.1V482.1H2180.9V485.8H2176.8V486.6H2172.4V488Z"/>
<polygon fill="#00ffff" points="2255.4,605 2257.7,605 2257.7,620.1 2255.9,620.1"/>
<polygon fill="url(#c3)" points="1941,567.7 1948,567.7 1948,588.7 1941,588.7"/>
<path fill="#00ffff" d="M2414.6 713.6H2415.8V711H2418V708.3H2419.6V705.7H2420.6V703.1H2421.3V706.1H2421.7V709H2422.9V712H2423.7V715H2422.8V718H2424.5V720.9H2424.5V723.9H2425.7V726.9H2424.9V729.9H2424.8V732.9H2425.2V735.9H2424.3V738.9H2423.9V741.9H2423V744.8H2421.9V747.8H2422.9V750.8H2422.3V753.8H2422.8V756.8H2423V759.8H2421.5V762.8H2421.6V765.8H2420.9V768.8H2421.8V771.8H2419.6V768.7H2420.2V765.6H2419.2V762.5H2419.8V759.4H2417.9V756.3H2417.5V753.2H2417.1V750.1H2417.9V747.1H2415.9V744H2416.8V741H2415.4V737.9H2415.7V734.9H2414.9V731.8H2415.3V728.8H2416V725.8H2414.6V722.7H2414.8V719.7H2413.5V716.6Z"/>
<path fill="#00ffff" d="M2428.7 748.5H2430V745.3H2430.3V742.1H2431.8V738.9H2432.5V735.7H2432.6V732.5H2433.1V729.3H2434.3V726.1H2434.1V722.9H2434.3V725.9H2434.2V728.9H2434.8V732H2434.4V735H2433.5V738H2433.8V741.1H2434V744.1H2433.3V747.1H2433.7V750.1H2433.8V753.2H2432.5V756.3H2431.5V759.4H2431.7V762.5H2429.8V765.6H2430V768.7H2428.7V771.8H2429.1V768.5H2429.1V765.1H2428.6V761.8H2429.3V758.5H2427.8V755.2H2428.6V751.8Z"/>
<polygon fill="#00ffff" points="2340.4,757.8 2342.8,757.8 2342.8,766 2341.1,766"/>
<path fill="#00ffff" d="M1236.7 568.1H1240.3V566.5H1240.2V570.6H1239.8V574.7H1237V574.7H1236.4V571.2Z"/>
<polygon fill="#00ffff" points="1339.2,471 1340.6,471 1340.4,482.7 1339.2,482.7"/>
<path fill="#d3d3d3" d="M3170 957.5V952.1H3174V950.3H3178V949H3180V948.9H3182V950.1H3184V949.5H3188V951.2H3190V952H3192V951.4H3194V952.2H3198V951.4H3200V951.5H3202V951.3H3206V951.2H3208V950.1H3210V949.7H3212V949H3216V948.4H3220V949.1H3222V950.8H3224V950.7H3228V950.4H3230V950.7H3234V950.3H3238V950.2H3242V952.2H3244V951.9H3248V952.3H3250V949.6H3252V950.4H3254V952.9H3256V951.7H3258V950.7H3260V949.4H3262V948.3H3264V951H3266V951.5H3270V950.1H3274V950.9H3276V948.7H3278V949.9H3282V951.5H3284V951.1H3286V951.4H3288V952.2H3290V950.9H3294V948.7H3298V948.9H3300V951H3304V950H3306V949.1H3308V950.5H3312V951.5H3316V950.5H3318V950.1H3320V950.6H3322V950.6H3326V949.8H3328V949.3H3332V947.6H3334V949H3336V952.3H3340V949.9H3344V949.5H3348V950.2H3350V950.5H3352V951.3H3354V950H3356V951.8H3358V950.7H3360V950.2H3362V949.5H3366V949.5H3368V949.8H3370V951.1H3374V950.2H3376V947.6H3380V949.7H3382V951.1H3384V952.4H3386V950H3388V952H3390V950.3H3394V949.3H3396V949.3H3398V948.1H3400V949H3402V950.4H3404V949.1H3408V949.5H3412V948.4H3414V949.5H3416V948.4H3418V950.8H3422V950.8H3424V950.9H3426V950.5H3428V950.6H3430V951.8H3432V952.5H3434V952.4H3436V952.1H3440V948H3444V947.6H3446V950.6H3450V948.9H3454V950.3H3458V953.5H3462V950.9H3464V949.3H3466V949.7H3468V948.9H3472V951.1H3474V949.6H3478V951.1H3480V949.1H3484V946.7H3488V948.6H3490V950.7H3494V949.3H3496V949.8H3500V950.1H3504V947.3H3506V946.2H3510V947H3514V947.5H3518V947.4H3520V946.3H3522V949.3H3526V949H3528V948.4H3532V948.3H3534V949.7H3536V948.7H3538V949.3H3540V948.6H3544V949.9H3546V949H3548V948H3550V946.4H3552V947.8H3554V947.3H3556V947H3560V957.5H3170Z"/>
</g>
<g fill="#f00" shape-rendering="crispEdges">
<polygon points="301.4,521.6 336,521.6 318.7,551.3"/>
<polygon points="336.5,827 371.1,827 353.8,856.7"/>
<polygon points="371.6,870 406.2,870 388.9,899.7"/>
<polygon points="406.8,872.4 441.4,872.4 424.1,902.1"/>
<polygon points="441.9,896.4 476.5,896.4 459.2,926.1"/>
<polygon points="758,442.4 792.6,442.4 775.3,472.1"/>
<polygon points="793.2,449.4 827.8,449.4 810.5,479.1"/>
<polygon points="1109.3,903 1143.9,903 1126.6,932.7"/>
<polygon points="1144.4,903 1179,903 1161.7,932.7"/>
<polygon points="1284.9,553 1319.5,553 1302.2,582.7"/>
<polygon points="1320,537 1354.6,537 1337.3,566.7"/>
<polygon points="1355.2,531 1389.8,531 1372.5,560.7"/>
<polygon points="1390.3,529.3 1424.9,529.3 1407.6,559"/>
<polygon points="1425.4,534.4 1460,534.4 1442.7,564.1"/>
<polygon points="1460.5,522 1495.1,522 1477.8,551.7"/>
<polygon points="1495.7,508.3 1530.2,508.3 1513,538"/>
<polygon points="1530.8,527.2 1565.4,527.2 1548.1,556.9"/>
<polygon points="1565.9,532.3 1600.5,532.3 1583.2,562"/>
<polygon points="1601,564.2 1635.6,564.2 1618.3,593.9"/>
<polygon points="1636.2,544.4 1670.8,544.4 1653.5,574.1"/>
<polygon points="1671.3,597.3 1705.9,597.3 1688.6,627"/>
<polygon points="1706.4,604.3 1741,604.3 1723.7,634"/>
<polygon points="1741.5,604.3 1776.1,604.3 1758.8,634"/>
<polygon points="1776.7,564.2 1811.2,564.2 1794,593.9"/>
<polygon points="1811.8,562.4 1846.4,562.4 1829.1,592.1"/>
<polygon points="1846.9,572.4 1881.5,572.4 1864.2,602.1"/>
<polygon points="1882,597.3 1916.6,597.3 1899.3,627"/>
<polygon points="1917.2,590.3 1951.8,590.3 1934.5,620"/>
<polygon points="1952.3,569.3 1986.9,569.3 1969.6,599"/>
<polygon points="1987.4,588.2 2022,588.2 2004.7,617.9"/>
<polygon points="2022.5,621.3 2057.1,621.3 2039.8,651"/>
<polygon points="2057.6,600.3 2092.2,600.3 2074.9,630"/>
<polygon points="2092.8,633.4 2127.4,633.4 2110.1,663.1"/>
<polygon points="2127.9,696.2 2162.5,696.2 2145.2,725.9"/>
<polygon points="2163,726.4 2197.6,726.4 2180.3,756.1"/>
<polygon points="2198.1,759 2232.8,759 2215.4,788.7"/>
<polygon points="2268.4,806.3 2303,806.3 2285.7,836"/>
<polygon points="2338.6,856.4 2373.2,856.4 2355.9,886.1"/>
<polygon points="2479.1,849.1 2513.8,849.1 2496.4,878.8"/>
<polygon points="2514.3,866.8 2548.9,866.8 2531.6,896.5"/>
<polygon points="2619.6,838.9 2654.2,838.9 2636.9,868.6"/>
<polygon points="2654.8,424 2689.4,424 2672.1,453.7"/>
<polygon points="2725,835.2 2759.6,835.2 2742.3,864.9"/>
<polygon points="2760.1,835.2 2794.8,835.2 2777.4,864.9"/>
<polygon points="2795.3,845.9 2829.9,845.9 2812.6,875.6"/>
<polygon points="2830.4,838.9 2865,838.9 2847.7,868.6"/>
<polygon points="2865.5,835.2 2900.1,835.2 2882.8,864.9"/>
<polygon points="2900.6,841 2935.2,841 2917.9,870.7"/>
<polygon points="2935.8,834 2970.4,834 2953.1,863.7"/>
<polygon points="3006,838.9 3040.6,838.9 3023.3,868.6"/>
<polygon points="3041.1,834 3075.8,834 3058.4,863.7"/>
<polygon points="3076.3,830 3110.9,830 3093.6,859.7"/>
<polygon points="3111.4,835.2 3146,835.2 3128.7,864.9"/>
<polygon points="3146.5,809.5 3181.1,809.5 3163.8,839.2"/>
<polygon points="3216.8,804.4 3251.4,804.4 3234.1,834.1"/>
<polygon points="3251.9,804.4 3286.5,804.4 3269.2,834.1"/>
<polygon points="3322.1,834 3356.8,834 3339.4,863.7"/>
<polygon points="3462.6,755 3497.2,755 3479.9,784.7"/>
<polygon points="3497.8,754.3 3532.4,754.3 3515.1,784"/>
<polygon points="3532.9,766 3567.5,766 3550.2,795.7"/>
<polygon points="3568,733.4 3602.6,733.4 3585.3,763.1"/>
<polygon points="3603.1,761.3 3637.8,761.3 3620.4,791"/>
<polygon points="2970.9,553 3005.5,553 2988.2,582.7"/>
<polygon points="3181.6,550.2 3216.2,550.2 3198.9,579.9"/>
<polygon points="3287,572.4 3321.6,572.4 3304.3,602.1"/>
<polygon points="3357.3,588.2 3391.9,588.2 3374.6,617.9"/>
<polygon points="3392.4,592.2 3427,592.2 3409.7,621.9"/>
<polygon points="3427.5,551.4 3462.1,551.4 3444.8,581.1"/>
<polygon points="301.4,618.7 336,618.7 318.7,589"/>
<polygon points="336.5,930.7 371.1,930.7 353.8,901"/>
<polygon points="371.6,935.4 406.2,935.4 388.9,905.7"/>
<polygon points="406.8,957.1 441.4,957.1 424.1,927.4"/>
<polygon points="441.9,938.2 476.5,938.2 459.2,908.5"/>
<polygon points="758,535 792.6,535 775.3,505.3"/>
<polygon points="793.2,516.7 827.8,516.7 810.5,487"/>
<polygon points="1109.3,950.7 1143.9,950.7 1126.6,921"/>
<polygon points="1144.4,950.7 1179,950.7 1161.7,921"/>
<polygon points="1284.9,593.9 1319.5,593.9 1302.2,564.2"/>
<polygon points="1320,596.1 1354.6,596.1 1337.3,566.4"/>
<polygon points="1355.2,593.9 1389.8,593.9 1372.5,564.2"/>
<polygon points="1390.3,605.1 1424.9,605.1 1407.6,575.4"/>
<polygon points="1425.4,616.7 1460,616.7 1442.7,587"/>
<polygon points="1460.5,620.1 1495.1,620.1 1477.8,590.4"/>
<polygon points="1495.7,588.7 1530.2,588.7 1513,559"/>
<polygon points="1530.8,687.7 1565.4,687.7 1548.1,658"/>
<polygon points="1565.9,710.9 1600.5,710.9 1583.2,681.2"/>
<polygon points="1601,717.7 1635.6,717.7 1618.3,688"/>
<polygon points="1636.2,741.7 1670.8,741.7 1653.5,712"/>
<polygon points="1671.3,755.7 1705.9,755.7 1688.6,726"/>
<polygon points="1706.4,781.7 1741,781.7 1723.7,752"/>
<polygon points="1741.5,797.5 1776.1,797.5 1758.8,767.8"/>
<polygon points="1776.7,804.5 1811.2,804.5 1794,774.8"/>
<polygon points="1811.8,799.9 1846.4,799.9 1829.1,770.2"/>
<polygon points="1846.9,799.9 1881.5,799.9 1864.2,770.2"/>
<polygon points="1882,801 1916.6,801 1899.3,771.3"/>
<polygon points="1917.2,804.5 1951.8,804.5 1934.5,774.8"/>
<polygon points="1952.3,806.4 1986.9,806.4 1969.6,776.7"/>
<polygon points="1987.4,821.5 2022,821.5 2004.7,791.8"/>
<polygon points="2022.5,823.1 2057.1,823.1 2039.8,793.4"/>
<polygon points="2057.6,797.5 2092.2,797.5 2074.9,767.8"/>
<polygon points="2092.8,795.7 2127.4,795.7 2110.1,766"/>
<polygon points="2127.9,829.1 2162.5,829.1 2145.2,799.4"/>
<polygon points="2163,846.4 2197.6,846.4 2180.3,816.7"/>
<polygon points="2198.1,848.3 2232.8,848.3 2215.4,818.6"/>
<polygon points="2268.4,846.9 2303,846.9 2285.7,817.2"/>
<polygon points="2338.6,926.3 2373.2,926.3 2355.9,896.6"/>
<polygon points="2479.1,955.2 2513.8,955.2 2496.4,925.5"/>
<polygon points="2514.3,961.1 2548.9,961.1 2531.6,931.4"/>
<polygon points="2619.6,895.7 2654.2,895.7 2636.9,866"/>
<polygon points="2654.8,464.9 2689.4,464.9 2672.1,435.2"/>
<polygon points="2725,935.9 2759.6,935.9 2742.3,906.2"/>
<polygon points="2760.1,944.7 2794.8,944.7 2777.4,915"/>
<polygon points="2795.3,955.2 2829.9,955.2 2812.6,925.5"/>
<polygon points="2830.4,958.7 2865,958.7 2847.7,929"/>
<polygon points="2865.5,958.7 2900.1,958.7 2882.8,929"/>
<polygon points="2900.6,959.9 2935.2,959.9 2917.9,930.2"/>
<polygon points="2935.8,945.9 2970.4,945.9 2953.1,916.2"/>
<polygon points="3006,957.1 3040.6,957.1 3023.3,927.4"/>
<polygon points="3041.1,955.2 3075.8,955.2 3058.4,925.5"/>
<polygon points="3076.3,953.6 3110.9,953.6 3093.6,923.9"/>
<polygon points="3111.4,951.7 3146,951.7 3128.7,922"/>
<polygon points="3146.5,951.7 3181.1,951.7 3163.8,922"/>
<polygon points="3216.8,950.6 3251.4,950.6 3234.1,920.9"/>
<polygon points="3251.9,951.7 3286.5,951.7 3269.2,922"/>
<polygon points="3322.1,953.6 3356.8,953.6 3339.4,923.9"/>
<polygon points="3462.6,952.9 3497.2,952.9 3479.9,923.2"/>
<polygon points="3497.8,950.6 3532.4,950.6 3515.1,920.9"/>
<polygon points="3532.9,955.2 3567.5,955.2 3550.2,925.5"/>
<polygon points="3568,805 3602.6,805 3585.3,775.3"/>
<polygon points="3603.1,955.2 3637.8,955.2 3620.4,925.5"/>
<polygon points="2970.9,599.3 3005.5,599.3 2988.2,569.6"/>
<polygon points="3181.6,598.8 3216.2,598.8 3198.9,569.1"/>
<polygon points="3287,619.7 3321.6,619.7 3304.3,590"/>
<polygon points="3357.3,640.7 3391.9,640.7 3374.6,611"/>
<polygon points="3392.4,645.8 3427,645.8 3409.7,616.1"/>
<polygon points="3427.5,593.9 3462.1,593.9 3444.8,564.2"/>
<polygon points="301.4,844.5 336,844.5 318.7,874.2"/><polygon fill="#fff" points="311.1,850.1 326.3,850.1 318.7,863.1"/>
<polygon points="2970.9,845.9 3005.5,845.9 2988.2,875.6"/><polygon fill="#fff" points="2980.6,851.5 2995.8,851.5 2988.2,864.5"/>
<polygon points="3181.6,823.5 3216.2,823.5 3198.9,853.2"/><polygon fill="#fff" points="3191.4,829.1 3206.5,829.1 3198.9,842.1"/>
<polygon points="3287,808.4 3321.6,808.4 3304.3,838.1"/><polygon fill="#fff" points="3296.8,814 3311.9,814 3304.3,827"/>
<polygon points="3357.3,790.4 3391.9,790.4 3374.6,820.1"/><polygon fill="#fff" points="3367,796 3382.1,796 3374.6,809"/>
<polygon points="3392.4,783.5 3427,783.5 3409.7,813.2"/><polygon fill="#fff" points="3402.1,789.1 3417.3,789.1 3409.7,802.1"/>
<polygon points="3427.5,759.5 3462.1,759.5 3444.8,789.2"/><polygon fill="#fff" points="3437.3,765.1 3452.4,765.1 3444.8,778.1"/>
<polygon points="301.4,929.1 336,929.1 318.7,899.4"/><polygon fill="#fff" points="311.1,923.5 326.3,923.5 318.7,910.5"/>
<polygon points="2970.9,957.1 3005.5,957.1 2988.2,927.4"/><polygon fill="#fff" points="2980.6,951.5 2995.8,951.5 2988.2,938.5"/>
<polygon points="3181.6,951.7 3216.2,951.7 3198.9,922"/><polygon fill="#fff" points="3191.4,946.1 3206.5,946.1 3198.9,933.1"/>
<polygon points="3287,951.7 3321.6,951.7 3304.3,922"/><polygon fill="#fff" points="3296.8,946.1 3311.9,946.1 3304.3,933.1"/>
<polygon points="3357.3,951.7 3391.9,951.7 3374.6,922"/><polygon fill="#fff" points="3367,946.1 3382.1,946.1 3374.6,933.1"/>
<polygon points="3392.4,951.7 3427,951.7 3409.7,922"/><polygon fill="#fff" points="3402.1,946.1 3417.3,946.1 3409.7,933.1"/>
<polygon points="3427.5,952.9 3462.1,952.9 3444.8,923.2"/><polygon fill="#fff" points="3437.3,947.3 3452.4,947.3 3444.8,934.3"/>
</g>
<g fill="#808080" shape-rendering="crispEdges">
<circle cx="1337.3" cy="827.7" r="17"/>
<circle cx="1372.5" cy="825" r="17"/>
<circle cx="1407.6" cy="797" r="17"/>
<circle cx="1442.7" cy="795.1" r="17"/>
<circle cx="1477.8" cy="847" r="17"/>
<circle cx="1513" cy="848.7" r="17"/>
<circle cx="1548.1" cy="802.8" r="17"/>
<circle cx="1583.2" cy="774.6" r="17"/>
<circle cx="1618.3" cy="769" r="17"/>
<circle cx="2110.1" cy="838.9" r="17"/>
</g>
<g fill="#32cd32" shape-rendering="crispEdges">
<circle cx="424.1" cy="809.8" r="17"/>
<circle cx="810.5" cy="834.7" r="17"/>
<circle cx="1302.2" cy="872.7" r="17"/>
<circle cx="1653.5" cy="761.8" r="17"/>
<circle cx="1758.8" cy="827.7" r="17"/>
<circle cx="1794" cy="759.7" r="17"/>
<circle cx="1829.1" cy="721.7" r="17"/>
<circle cx="1864.2" cy="737.6" r="17"/>
<circle cx="1899.3" cy="764.1" r="17"/>
<circle cx="1934.5" cy="767.6" r="17"/>
<circle cx="1969.6" cy="730.6" r="17"/>
<circle cx="2004.7" cy="730.6" r="17"/>
<circle cx="2039.8" cy="707.8" r="17"/>
<circle cx="2074.9" cy="773" r="17"/>
<circle cx="2145.2" cy="834" r="17"/>
<circle cx="2180.3" cy="933.7" r="17"/>
<circle cx="2215.4" cy="842.2" r="17"/>
<circle cx="2250.6" cy="759" r="17"/>
<circle cx="2285.7" cy="915" r="17"/>
<circle cx="2320.8" cy="889.4" r="17"/>
<circle cx="2355.9" cy="897.1" r="17"/>
<circle cx="2391.1" cy="886.6" r="17"/>
<circle cx="2426.2" cy="897.1" r="17"/>
<circle cx="2496.4" cy="788.8" r="17"/>
<circle cx="2636.9" cy="797" r="17"/>
<circle cx="2672.1" cy="799.8" r="17"/>
<circle cx="2742.3" cy="864.5" r="17"/>
<circle cx="2917.9" cy="784.9" r="17"/>
<circle cx="2953.1" cy="848.7" r="17"/>
<circle cx="3023.3" cy="736.9" r="17"/>
<circle cx="3058.4" cy="739.7" r="17"/>
<circle cx="3093.6" cy="750.8" r="17"/>
<circle cx="3128.7" cy="750.8" r="17"/>
<circle cx="3163.8" cy="735.7" r="17"/>
<circle cx="3198.9" cy="704.7" r="17"/>
<circle cx="3304.3" cy="720.1" r="17"/>
<circle cx="3339.4" cy="721" r="17"/>
<circle cx="3374.6" cy="778.8" r="17"/>
<circle cx="3409.7" cy="763" r="17"/>
<circle cx="3444.8" cy="729.9" r="17"/>
<circle cx="3479.9" cy="717.1" r="17"/>
<circle cx="3515.1" cy="747.3" r="17"/>
<circle cx="3550.2" cy="728.2" r="17"/>
<circle cx="3585.3" cy="802.1" r="17"/>
<circle cx="3620.4" cy="844.7" r="17"/>
</g>
<g fill="#0000ff" shape-rendering="crispEdges">
<circle cx="318.7" cy="567.2" r="17"/>
<circle cx="353.8" cy="567.2" r="17"/>
<circle cx="388.9" cy="619" r="17"/>
<circle cx="459.2" cy="662" r="17"/>
<circle cx="1232" cy="440.8" r="17"/>
<circle cx="1688.6" cy="467.5" r="17"/>
<circle cx="1723.7" cy="501.3" r="17"/>
<circle cx="2531.6" cy="566.1" r="17"/>
<circle cx="2777.4" cy="569.6" r="17"/>
<circle cx="2812.6" cy="560" r="17"/>
<circle cx="2847.7" cy="541.6" r="17"/>
<circle cx="2882.8" cy="564.9" r="17"/>
<circle cx="2988.2" cy="578.9" r="17"/>
<circle cx="3234.1" cy="546.7" r="17"/>
<circle cx="3269.2" cy="589.8" r="17"/>
</g>
<g fill="none" stroke="#000" stroke-width="4.6" stroke-linejoin="round" shape-rendering="crispEdges">
<polyline points="266,495.5 540,495 840,497.8 1230,497.5 1400,499 1562,502"/>
<polyline points="1667,502.5 1960,506 2230,511.5 2480,513.4 2520,513.4 2760,505 3080,506 3290,506 3480,504.5 3637,508.3"/>
<polyline points="266,668 400,670 543,672.5 700,672 840,669 1000,666.5 1230,666 1400,669.7 1562,676"/>
<polyline points="1667,676 1800,672 1960,668 2080,663 2180,661 2520,661 2800,657 3080,652.5 3290,648 3490,647 3560,650 3637,655.5"/>
<polyline points="266,879.4 500,880.5 840,885.5 1100,887 1400,886 1562,884"/>
<polyline points="1667,884.5 1960,884.5 2200,887.6 2280,887.5 2320,884.5 2520,884.8 2780,886 3080,883 3360,881.3 3500,876 3637,872"/>
<polyline points="1580,951 1650,950.5 1733,943 1960,936 2100,933 2230,931.4"/>
<polyline points="2339,936 2520,938.4 2760,951 2925,953 3080,948.5 3300,947.5 3420,950.4 3439,946.3 3637,932"/>
</g>
<g font-family='&quot;Liberation Sans&quot;,sans-serif' font-size="58" text-anchor="middle" fill="#000">
<text x="1615" y="522.5">230</text>
<text x="1615" y="696.3">250</text>
<text x="1615" y="905.5">273</text>
<text x="2284.5" y="954">279</text>
</g>
<g fill="#000">
<rect x="263" y="108.8" width="6" height="851.2"/>
<rect x="263" y="954" width="3377.5" height="6"/>
<rect x="266" y="108.8" width="81" height="6"/>
<rect x="266" y="214.4" width="81" height="6"/>
<rect x="266" y="320.1" width="81" height="6"/>
<rect x="266" y="425.8" width="81" height="6"/>
<rect x="266" y="531.4" width="81" height="6"/>
<rect x="266" y="637" width="81" height="6"/>
<rect x="266" y="742.7" width="81" height="6"/>
<rect x="266" y="848.4" width="81" height="6"/>
<rect x="266" y="954" width="81" height="6"/>
<rect x="263" y="894" width="6" height="63"/>
<rect x="333.2" y="924" width="6" height="33"/>
<rect x="403.5" y="924" width="6" height="33"/>
<rect x="473.7" y="924" width="6" height="33"/>
<rect x="544" y="894" width="6" height="63"/>
<rect x="614.2" y="924" width="6" height="33"/>
<rect x="684.4" y="924" width="6" height="33"/>
<rect x="754.7" y="924" width="6" height="33"/>
<rect x="824.9" y="894" width="6" height="63"/>
<rect x="895.2" y="924" width="6" height="33"/>
<rect x="965.4" y="924" width="6" height="33"/>
<rect x="1035.6" y="924" width="6" height="33"/>
<rect x="1105.9" y="894" width="6" height="63"/>
<rect x="1176.1" y="924" width="6" height="33"/>
<rect x="1246.4" y="924" width="6" height="33"/>
<rect x="1316.6" y="924" width="6" height="33"/>
<rect x="1386.8" y="894" width="6" height="63"/>
<rect x="1457.1" y="924" width="6" height="33"/>
<rect x="1527.3" y="924" width="6" height="33"/>
<rect x="1597.6" y="924" width="6" height="33"/>
<rect x="1667.8" y="894" width="6" height="63"/>
<rect x="1738" y="924" width="6" height="33"/>
<rect x="1808.3" y="924" width="6" height="33"/>
<rect x="1878.5" y="924" width="6" height="33"/>
<rect x="1948.8" y="894" width="6" height="63"/>
<rect x="2019" y="924" width="6" height="33"/>
<rect x="2089.2" y="924" width="6" height="33"/>
<rect x="2159.5" y="924" width="6" height="33"/>
<rect x="2229.7" y="894" width="6" height="63"/>
<rect x="2299.9" y="924" width="6" height="33"/>
<rect x="2370.2" y="924" width="6" height="33"/>
<rect x="2440.4" y="924" width="6" height="33"/>
<rect x="2510.7" y="894" width="6" height="63"/>
<rect x="2580.9" y="924" width="6" height="33"/>
<rect x="2651.1" y="924" width="6" height="33"/>
<rect x="2721.4" y="924" width="6" height="33"/>
<rect x="2791.6" y="894" width="6" height="63"/>
<rect x="2861.9" y="924" width="6" height="33"/>
<rect x="2932.1" y="924" width="6" height="33"/>
<rect x="3002.3" y="924" width="6" height="33"/>
<rect x="3072.6" y="894" width="6" height="63"/>
<rect x="3142.8" y="924" width="6" height="33"/>
<rect x="3213.1" y="924" width="6" height="33"/>
<rect x="3283.3" y="924" width="6" height="33"/>
<rect x="3353.5" y="894" width="6" height="63"/>
<rect x="3423.8" y="924" width="6" height="33"/>
<rect x="3494" y="924" width="6" height="33"/>
<rect x="3564.3" y="924" width="6" height="33"/>
<rect x="3634.5" y="894" width="6" height="63"/>
</g>
<text x="1951.5" y="77.4" font-family="&quot;Liberation Sans&quot;,sans-serif" font-size="100.5" text-anchor="middle">Schneefernerhaus: 2025/10/21</text>
<g font-family="&quot;DejaVu Sans&quot;,&quot;Liberation Sans&quot;,sans-serif" font-size="66.8" text-anchor="end" stroke="#000" stroke-width="0.5">
<text x="232.3" y="136.8">16.7</text>
<text x="232.3" y="242.4">15.0</text>
<text x="232.3" y="348.1">13.2</text>
<text x="232.3" y="453.8">11.5</text>
<text x="232.3" y="559.4">9.77</text>
<text x="232.3" y="665">8.03</text>
<text x="232.3" y="770.7">6.28</text>
<text x="232.3" y="876.4">4.54</text>
<text x="232.3" y="982">2.79</text>
</g>
<g font-family="&quot;DejaVu Sans&quot;,&quot;Liberation Sans&quot;,sans-serif" font-size="75.5" text-anchor="middle" stroke="#000" stroke-width="0.5">
<text x="266" y="1035.5">0</text>
<text x="547" y="1035.5">2</text>
<text x="827.9" y="1035.5">4</text>
<text x="1108.9" y="1035.5">6</text>
<text x="1389.8" y="1035.5">8</text>
<text x="1670.8" y="1035.5">10</text>
<text x="1951.8" y="1035.5">12</text>
<text x="2232.7" y="1035.5">14</text>
<text x="2513.7" y="1035.5">16</text>
<text x="2794.6" y="1035.5">18</text>
<text x="3075.6" y="1035.5">20</text>
<text x="3356.5" y="1035.5">22</text>
<text x="3637.5" y="1035.5">24</text>
<text x="1741.3" y="1115.9" font-size="75.5" text-anchor="start" letter-spacing="0.5">Time (UTC)</text>
</g>
<text transform="translate(36,834.7) rotate(-90)" font-family="&quot;DejaVu Sans&quot;,&quot;Liberation Sans&quot;,sans-serif" font-size="66.8" text-anchor="start" stroke="#000" stroke-width="0.5">Height AMSL (km)</text>
<defs><linearGradient id="cb" x1="0" x2="1" y1="0" y2="0"><stop offset="0" stop-color="#fff"/><stop offset="0.3333" stop-color="#ffb6c1"/><stop offset="0.6667" stop-color="#00ffff"/><stop offset="1" stop-color="#d3d3d3"/></linearGradient></defs>
<rect x="266" y="1144" width="3371.5" height="56" fill="url(#cb)"/>
<g fill="#000">
<rect x="263" y="1196.9" width="3377.5" height="6"/>
<rect x="263" y="1183" width="6" height="16"/>
<rect x="375.4" y="1190" width="6" height="9"/>
<rect x="487.8" y="1190" width="6" height="9"/>
<rect x="600.1" y="1190" width="6" height="9"/>
<rect x="712.5" y="1190" width="6" height="9"/>
<rect x="824.9" y="1190" width="6" height="9"/>
<rect x="937.3" y="1190" width="6" height="9"/>
<rect x="1049.7" y="1190" width="6" height="9"/>
<rect x="1162.1" y="1190" width="6" height="9"/>
<rect x="1274.5" y="1190" width="6" height="9"/>
<rect x="1386.8" y="1183" width="6" height="16"/>
<rect x="1499.2" y="1190" width="6" height="9"/>
<rect x="1611.6" y="1190" width="6" height="9"/>
<rect x="1724" y="1190" width="6" height="9"/>
<rect x="1836.4" y="1190" width="6" height="9"/>
<rect x="1948.8" y="1190" width="6" height="9"/>
<rect x="2061.1" y="1190" width="6" height="9"/>
<rect x="2173.5" y="1190" width="6" height="9"/>
<rect x="2285.9" y="1190" width="6" height="9"/>
<rect x="2398.3" y="1190" width="6" height="9"/>
<rect x="2510.7" y="1183" width="6" height="16"/>
<rect x="2623.1" y="1190" width="6" height="9"/>
<rect x="2735.4" y="1190" width="6" height="9"/>
<rect x="2847.8" y="1190" width="6" height="9"/>
<rect x="2960.2" y="1190" width="6" height="9"/>
<rect x="3072.6" y="1190" width="6" height="9"/>
<rect x="3185" y="1190" width="6" height="9"/>
<rect x="3297.3" y="1190" width="6" height="9"/>
<rect x="3409.7" y="1190" width="6" height="9"/>
<rect x="3522.1" y="1190" width="6" height="9"/>
<rect x="3634.5" y="1183" width="6" height="16"/>
</g>
<g font-family="&quot;DejaVu Sans&quot;,&quot;Liberation Sans&quot;,sans-serif" font-size="58.5" text-anchor="middle" stroke="#000" stroke-width="0.5" letter-spacing="0.5">
<text x="257.5" y="1262.9">Clear</text>
<text x="1389.8" y="1262.9">Water</text>
<text x="2513.7" y="1262.9">Ice</text>
<text x="3636.5" y="1262.9">Other</text>
</g>
<g fill="none" stroke="#000" stroke-width="5.8">
<rect x="256.5" y="1313.2" width="643.4" height="140.9"/>
<rect x="1000.7" y="1313.2" width="611.4" height="140.9"/>
<rect x="294.9" y="1500.1" width="605" height="148"/>
<rect x="2328.2" y="1312.7" width="559.3" height="402.4"/>
</g>
<circle cx="293.7" cy="1383.7" r="17" fill="#32cd32"/>
<circle cx="1038.5" cy="1383.7" r="17" fill="#0000ff"/>
<circle cx="332.8" cy="1574.6" r="17" fill="#808080"/>
<g fill="#f00">
<polygon points="2347.7,1393.6 2382.3,1393.6 2365,1363.9"/>
<polygon points="2347.7,1460 2382.3,1460 2365,1489.7"/>
<polygon points="2347.7,1566.9 2382.3,1566.9 2365,1537.2"/><polygon fill="#fff" points="2357.4,1561.3 2372.6,1561.3 2365,1548.3"/>
<polygon points="2347.7,1633 2382.3,1633 2365,1662.7"/><polygon fill="#fff" points="2357.4,1638.6 2372.6,1638.6 2365,1651.6"/>
</g>
<g font-family="&quot;DejaVu Sans&quot;,&quot;Liberation Sans&quot;,sans-serif" font-size="57.7" stroke="#000" stroke-width="0.5" letter-spacing="0.3">
<text x="331.5" y="1405.2">SEV-CTTH SL Wat</text>
<text x="1074.8" y="1405.2">SEV-CTTH SL Ice</text>
<text x="368.6" y="1598.6">SEV-CTTH Other</text>
<text x="2403.4" y="1405.4">ACTRIS CBH</text>
<text x="2403.4" y="1491.8">ACTRIS CTH</text>
<text x="2403.4" y="1578.2">ACTRIS CBH BL</text>
<text x="2403.4" y="1664.6">ACTRIS CTH BL</text>
</g>
</svg>
</body></html>
